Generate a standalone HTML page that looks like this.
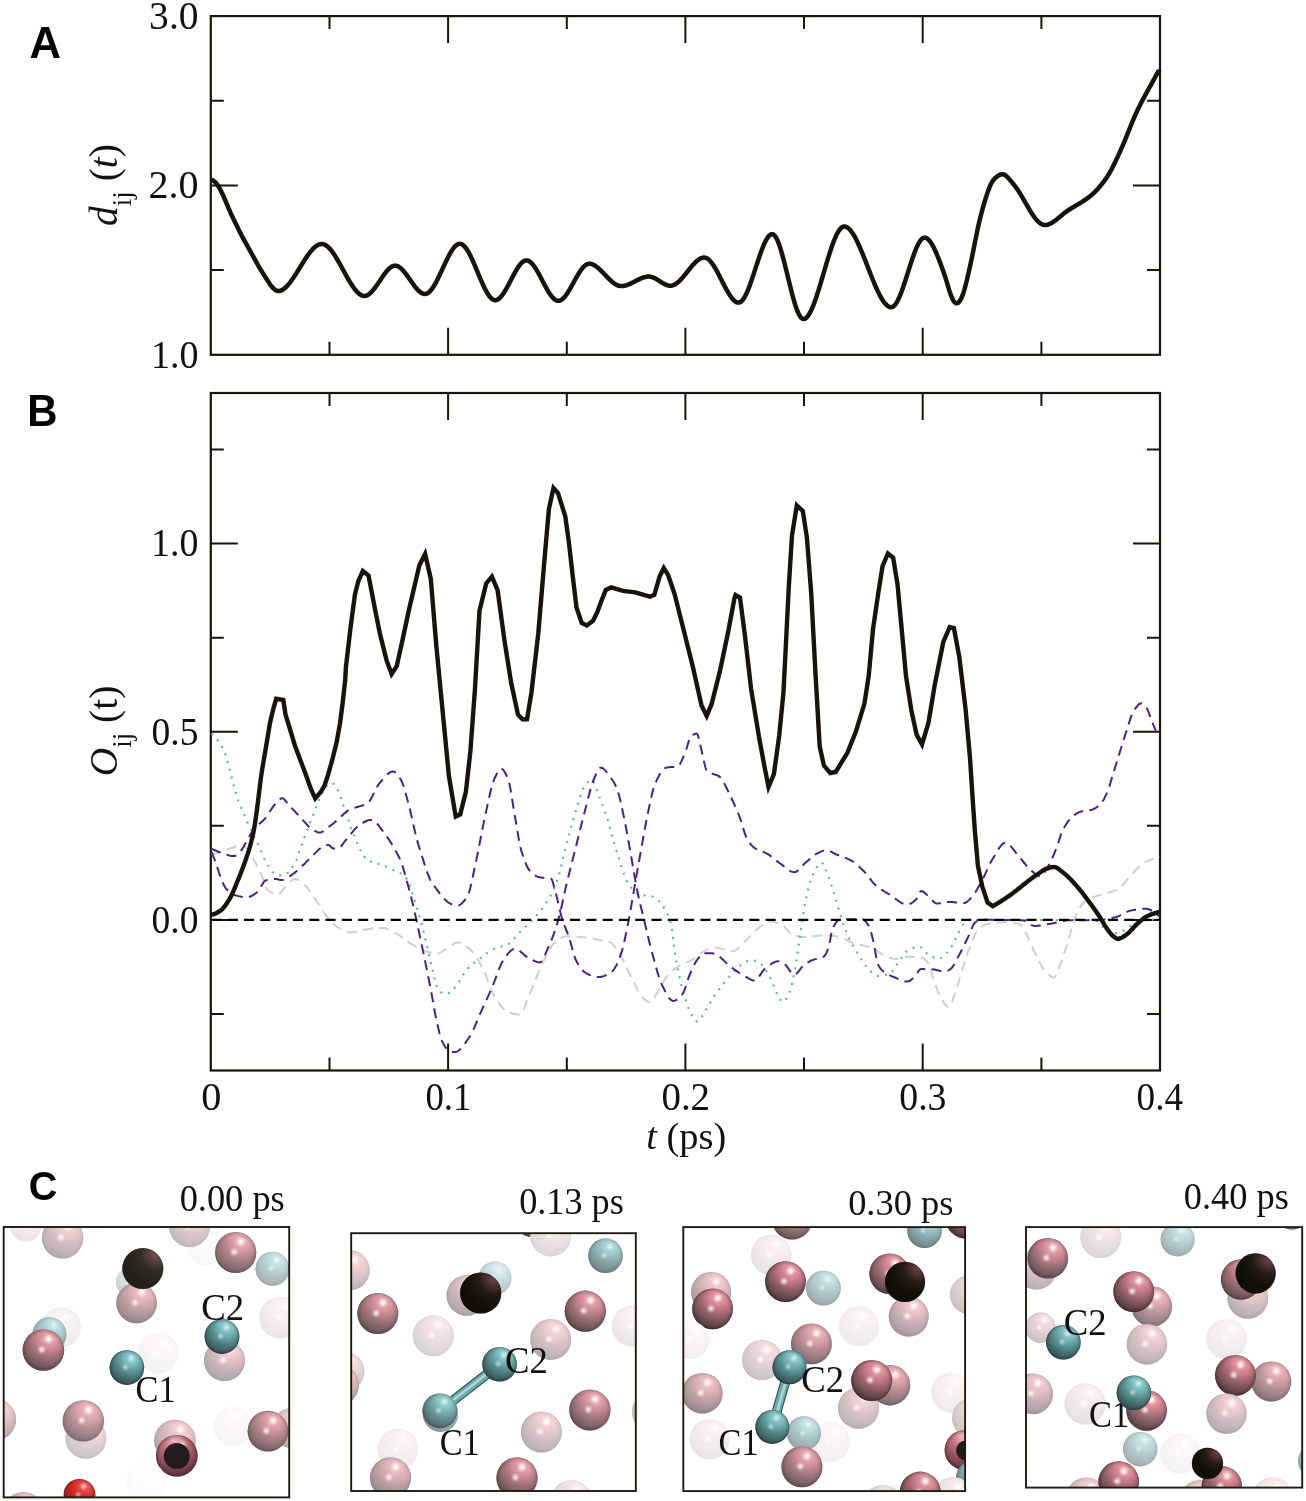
<!DOCTYPE html><html><head><meta charset="utf-8"><style>html,body{margin:0;padding:0;background:#fff;}svg{display:block;}svg{will-change:transform}</style></head><body>
<svg width="1306" height="1501" viewBox="0 0 1306 1501">
<defs>
<radialGradient id="dRose" cx="0.65" cy="0.2" r="0.95"><stop offset="0" stop-color="#eca2aa"/><stop offset="0.2" stop-color="#da8c96"/><stop offset="0.35" stop-color="#bc7682"/><stop offset="0.5" stop-color="#98626c"/><stop offset="0.65" stop-color="#78525a"/><stop offset="0.8" stop-color="#5c4046"/><stop offset="1" stop-color="#3c262a"/></radialGradient>
<radialGradient id="dTeal" cx="0.65" cy="0.2" r="0.95"><stop offset="0" stop-color="#94d0d0"/><stop offset="0.2" stop-color="#80c0c2"/><stop offset="0.35" stop-color="#68a4a6"/><stop offset="0.5" stop-color="#558a8c"/><stop offset="0.65" stop-color="#467072"/><stop offset="0.8" stop-color="#3a5a5c"/><stop offset="1" stop-color="#263a3c"/></radialGradient>
<radialGradient id="dBlack" cx="0.85" cy="0.12" r="0.85"><stop offset="0" stop-color="#7a5050"/><stop offset="0.25" stop-color="#4a3030"/><stop offset="0.5" stop-color="#221a16"/><stop offset="0.75" stop-color="#15120b"/><stop offset="1" stop-color="#100e08"/></radialGradient>
<radialGradient id="dRed" cx="0.68" cy="0.22" r="0.85"><stop offset="0" stop-color="#f06a6a"/><stop offset="0.35" stop-color="#d83434"/><stop offset="0.7" stop-color="#b42222"/><stop offset="1" stop-color="#861818"/></radialGradient>
<radialGradient id="dRing" cx="0.45" cy="0.15" r="0.95"><stop offset="0" stop-color="#f2bcc4"/><stop offset="0.25" stop-color="#c67886"/><stop offset="0.6" stop-color="#8e4c5a"/><stop offset="1" stop-color="#4a2830"/></radialGradient>
<radialGradient id="rim" cx="0.5" cy="0.5" r="0.5"><stop offset="0" stop-color="#000" stop-opacity="0"/><stop offset="0.8" stop-color="#000" stop-opacity="0"/><stop offset="0.94" stop-color="#1a0c10" stop-opacity="0.16"/><stop offset="1" stop-color="#1a0c10" stop-opacity="0.5"/></radialGradient>
<radialGradient id="spec" cx="0.5" cy="0.5" r="0.5"><stop offset="0" stop-color="#fff" stop-opacity="1"/><stop offset="0.3" stop-color="#fff" stop-opacity="0.8"/><stop offset="0.65" stop-color="#fff" stop-opacity="0.3"/><stop offset="1" stop-color="#fff" stop-opacity="0"/></radialGradient>
<clipPath id="cp0"><rect x="3.7" y="1227.0" width="285.5" height="270.4000000000001"/></clipPath>
<clipPath id="cp1"><rect x="351.2" y="1233.2" width="284.59999999999997" height="257.79999999999995"/></clipPath>
<clipPath id="cp2"><rect x="683.3" y="1227.1" width="281.80000000000007" height="264.0"/></clipPath>
<clipPath id="cp3"><rect x="1026.0" y="1227.1" width="276.20000000000005" height="260.5"/></clipPath>
</defs>
<g fill="none" stroke="#16140b" stroke-width="2.2">
<rect x="210.8" y="16.1" width="949.2" height="338.7"/>
<path stroke-width="2" d="M329.5,354.8 v-13 M329.5,16.1 v13 M448.1,354.8 v-27 M448.1,16.1 v27 M566.8,354.8 v-13 M566.8,16.1 v13 M685.4,354.8 v-27 M685.4,16.1 v27 M804.0,354.8 v-13 M804.0,16.1 v13 M922.7,354.8 v-27 M922.7,16.1 v27 M1041.4,354.8 v-13 M1041.4,16.1 v13 M210.8,270.1 h13 M1160.0,270.1 h-13 M210.8,185.5 h27 M1160.0,185.5 h-27 M210.8,100.8 h13 M1160.0,100.8 h-13"/>
</g>
<g fill="none" stroke="#16140b" stroke-width="2.2">
<rect x="210.8" y="393.0" width="949.2" height="677.5"/>
<path stroke-width="2" d="M329.5,1070.5 v-13 M329.5,393.0 v13 M448.1,1070.5 v-27 M448.1,393.0 v27 M566.8,1070.5 v-13 M566.8,393.0 v13 M685.4,1070.5 v-27 M685.4,393.0 v27 M804.0,1070.5 v-13 M804.0,393.0 v13 M922.7,1070.5 v-27 M922.7,393.0 v27 M1041.4,1070.5 v-13 M1041.4,393.0 v13 M210.8,1014.0 h13 M1160.0,1014.0 h-13 M210.8,919.9 h27 M1160.0,919.9 h-27 M210.8,825.8 h13 M1160.0,825.8 h-13 M210.8,731.8 h27 M1160.0,731.8 h-27 M210.8,637.7 h13 M1160.0,637.7 h-13 M210.8,543.6 h27 M1160.0,543.6 h-27 M210.8,449.5 h13 M1160.0,449.5 h-13"/>
</g>
<path d="M211.4,854.5 L212.4,854.3 L213.4,854.0 L214.4,853.8 L215.4,853.5 L216.4,853.2 L217.4,853.0 L218.4,852.7 L219.4,852.4 L220.4,852.1 L221.4,851.7 L222.4,851.4 L223.4,851.1 L224.4,850.8 L225.4,850.4 L226.4,850.0 L227.4,849.6 L228.4,849.2 L229.4,848.8 L230.4,848.4 L231.4,848.0 L232.4,847.6 L233.4,847.2 L234.4,846.9 L235.4,846.5 L236.4,846.1 L237.4,845.8 L238.4,845.4 L239.4,845.1 L240.4,845.0 L241.4,844.9 L242.4,845.1 L243.4,845.5 L244.4,846.2 L245.4,847.1 L246.4,848.1 L247.4,849.2 L248.4,850.3 L249.4,851.9 L250.4,853.8 L251.4,855.7 L252.4,857.5 L253.4,859.3 L254.4,861.0 L255.4,862.7 L256.4,864.5 L257.4,866.4 L258.4,868.4 L259.4,870.5 L260.4,872.7 L261.4,874.9 L262.4,877.5 L263.4,880.4 L264.4,883.2 L265.4,885.8 L266.4,888.1 L267.4,889.8 L268.4,890.7 L269.4,891.4 L270.4,892.1 L271.4,892.6 L272.4,893.1 L273.4,893.6 L274.4,894.0 L275.4,894.2 L276.4,894.4 L277.4,894.5 L278.4,894.4 L279.4,893.8 L280.4,892.9 L281.4,891.7 L282.4,890.4 L283.4,889.1 L284.4,887.8 L285.4,886.8 L286.4,885.8 L287.4,884.8 L288.4,883.7 L289.4,882.7 L290.4,881.7 L291.4,880.8 L292.4,880.0 L293.4,879.5 L294.4,879.2 L295.4,879.1 L296.4,879.3 L297.4,879.6 L298.4,880.2 L299.4,880.8 L300.4,881.5 L301.4,882.3 L302.4,883.1 L303.4,884.0 L304.4,884.8 L305.4,885.7 L306.4,886.7 L307.4,887.9 L308.4,889.2 L309.4,890.5 L310.4,891.9 L311.4,893.4 L312.4,894.9 L313.4,896.4 L314.4,897.9 L315.4,899.3 L316.4,900.8 L317.4,902.3 L318.4,903.8 L319.4,905.4 L320.4,907.0 L321.4,908.6 L322.4,910.2 L323.4,911.8 L324.4,913.3 L325.4,914.7 L326.4,916.1 L327.4,917.3 L328.4,918.4 L329.4,919.5 L330.4,920.6 L331.4,921.7 L332.4,922.7 L333.4,923.7 L334.4,924.6 L335.4,925.5 L336.4,926.3 L337.4,927.0 L338.4,927.7 L339.4,928.2 L340.4,928.8 L341.4,929.3 L342.4,929.8 L343.4,930.3 L344.4,930.8 L345.4,931.3 L346.4,931.6 L347.4,931.9 L348.4,932.2 L349.4,932.3 L350.4,932.4 L351.4,932.4 L352.4,932.3 L353.4,932.2 L354.4,932.1 L355.4,931.9 L356.4,931.7 L357.4,931.5 L358.4,931.3 L359.4,931.0 L360.4,930.8 L361.4,930.5 L362.4,930.3 L363.4,930.0 L364.4,929.8 L365.4,929.6 L366.4,929.4 L367.4,929.2 L368.4,929.0 L369.4,928.9 L370.4,928.8 L371.4,928.7 L372.4,928.6 L373.4,928.5 L374.4,928.4 L375.4,928.4 L376.4,928.3 L377.4,928.2 L378.4,928.1 L379.4,928.1 L380.4,928.0 L381.4,928.0 L382.4,928.0 L383.4,928.0 L384.4,928.1 L385.4,928.3 L386.4,928.6 L387.4,928.9 L388.4,929.4 L389.4,929.8 L390.4,930.3 L391.4,930.9 L392.4,931.5 L393.4,932.0 L394.4,932.6 L395.4,933.2 L396.4,933.7 L397.4,934.2 L398.4,934.8 L399.4,935.5 L400.4,936.2 L401.4,936.9 L402.4,937.6 L403.4,938.4 L404.4,939.1 L405.4,939.9 L406.4,940.6 L407.4,941.4 L408.4,942.1 L409.4,942.8 L410.4,943.4 L411.4,944.0 L412.4,944.6 L413.4,945.2 L414.4,945.8 L415.4,946.3 L416.4,946.9 L417.4,947.4 L418.4,948.0 L419.4,948.5 L420.4,949.0 L421.4,949.4 L422.4,949.9 L423.4,950.3 L424.4,950.7 L425.4,951.0 L426.4,951.3 L427.4,951.7 L428.4,952.0 L429.4,952.4 L430.4,952.7 L431.4,953.0 L432.4,953.2 L433.4,953.5 L434.4,953.6 L435.4,953.7 L436.4,953.8 L437.4,953.7 L438.4,953.5 L439.4,953.1 L440.4,952.6 L441.4,952.0 L442.4,951.4 L443.4,950.7 L444.4,950.1 L445.4,949.4 L446.4,948.9 L447.4,948.3 L448.4,947.6 L449.4,946.9 L450.4,946.2 L451.4,945.5 L452.4,944.8 L453.4,944.1 L454.4,943.5 L455.4,943.1 L456.4,942.7 L457.4,942.5 L458.4,942.5 L459.4,942.6 L460.4,942.9 L461.4,943.2 L462.4,943.7 L463.4,944.3 L464.4,944.9 L465.4,945.6 L466.4,946.4 L467.4,947.2 L468.4,948.0 L469.4,948.9 L470.4,949.8 L471.4,950.7 L472.4,951.7 L473.4,952.8 L474.4,954.1 L475.4,955.5 L476.4,957.1 L477.4,958.7 L478.4,960.5 L479.4,962.3 L480.4,964.1 L481.4,966.0 L482.4,967.9 L483.4,969.9 L484.4,972.1 L485.4,974.4 L486.4,977.0 L487.4,979.7 L488.4,982.4 L489.4,985.1 L490.4,987.7 L491.4,990.2 L492.4,992.5 L493.4,994.5 L494.4,996.3 L495.4,997.9 L496.4,999.5 L497.4,1001.0 L498.4,1002.5 L499.4,1003.9 L500.4,1005.3 L501.4,1006.6 L502.4,1007.8 L503.4,1008.9 L504.4,1009.9 L505.4,1010.7 L506.4,1011.4 L507.4,1012.0 L508.4,1012.3 L509.4,1012.7 L510.4,1013.0 L511.4,1013.3 L512.4,1013.5 L513.4,1013.8 L514.4,1014.0 L515.4,1014.2 L516.4,1014.3 L517.4,1014.4 L518.4,1014.5 L519.4,1014.5 L520.4,1014.1 L521.4,1013.1 L522.4,1011.7 L523.4,1009.8 L524.4,1007.6 L525.4,1005.1 L526.4,1002.5 L527.4,999.8 L528.4,997.2 L529.4,994.6 L530.4,992.2 L531.4,990.0 L532.4,987.7 L533.4,985.2 L534.4,982.7 L535.4,980.2 L536.4,977.6 L537.4,975.1 L538.4,972.6 L539.4,970.2 L540.4,967.8 L541.4,965.6 L542.4,963.6 L543.4,961.5 L544.4,959.3 L545.4,957.2 L546.4,955.2 L547.4,953.1 L548.4,951.2 L549.4,949.4 L550.4,947.8 L551.4,946.3 L552.4,945.1 L553.4,944.1 L554.4,943.2 L555.4,942.3 L556.4,941.5 L557.4,940.7 L558.4,939.9 L559.4,939.2 L560.4,938.5 L561.4,937.9 L562.4,937.4 L563.4,937.0 L564.4,936.6 L565.4,936.4 L566.4,936.3 L567.4,936.3 L568.4,936.3 L569.4,936.3 L570.4,936.4 L571.4,936.4 L572.4,936.4 L573.4,936.5 L574.4,936.5 L575.4,936.6 L576.4,936.7 L577.4,936.7 L578.4,936.8 L579.4,936.9 L580.4,937.0 L581.4,937.1 L582.4,937.2 L583.4,937.3 L584.4,937.3 L585.4,937.4 L586.4,937.5 L587.4,937.7 L588.4,937.8 L589.4,938.0 L590.4,938.2 L591.4,938.3 L592.4,938.5 L593.4,938.7 L594.4,938.9 L595.4,939.2 L596.4,939.4 L597.4,939.6 L598.4,939.8 L599.4,940.0 L600.4,940.2 L601.4,940.5 L602.4,940.7 L603.4,940.9 L604.4,941.0 L605.4,941.2 L606.4,941.3 L607.4,941.5 L608.4,941.7 L609.4,941.9 L610.4,942.2 L611.4,942.7 L612.4,943.7 L613.4,945.0 L614.4,946.4 L615.4,947.7 L616.4,949.0 L617.4,950.3 L618.4,951.7 L619.4,953.2 L620.4,954.8 L621.4,956.5 L622.4,958.5 L623.4,960.6 L624.4,962.8 L625.4,965.0 L626.4,967.2 L627.4,969.4 L628.4,971.4 L629.4,973.5 L630.4,975.5 L631.4,977.6 L632.4,979.6 L633.4,981.5 L634.4,983.4 L635.4,985.3 L636.4,987.3 L637.4,989.4 L638.4,991.3 L639.4,993.2 L640.4,994.9 L641.4,996.4 L642.4,997.6 L643.4,998.5 L644.4,999.3 L645.4,1000.1 L646.4,1000.8 L647.4,1001.4 L648.4,1001.8 L649.4,1002.0 L650.4,1001.9 L651.4,1001.3 L652.4,1000.2 L653.4,998.9 L654.4,997.5 L655.4,996.2 L656.4,994.6 L657.4,992.7 L658.4,990.7 L659.4,988.7 L660.4,986.9 L661.4,985.2 L662.4,983.5 L663.4,981.8 L664.4,980.2 L665.4,978.6 L666.4,977.2 L667.4,975.9 L668.4,974.7 L669.4,973.6 L670.4,972.5 L671.4,971.5 L672.4,970.6 L673.4,969.7 L674.4,968.9 L675.4,968.2 L676.4,967.5 L677.4,966.9 L678.4,966.3 L679.4,965.7 L680.4,965.2 L681.4,964.7 L682.4,964.2 L683.4,963.8 L684.4,963.3 L685.4,962.9 L686.4,962.5 L687.4,962.0 L688.4,961.6 L689.4,961.1 L690.4,960.6 L691.4,960.2 L692.4,959.7 L693.4,959.2 L694.4,958.6 L695.4,958.0 L696.4,957.2 L697.4,956.3 L698.4,955.4 L699.4,954.4 L700.4,953.6 L701.4,952.9 L702.4,952.3 L703.4,951.7 L704.4,951.2 L705.4,950.7 L706.4,950.2 L707.4,949.7 L708.4,949.2 L709.4,948.8 L710.4,948.4 L711.4,948.1 L712.4,947.9 L713.4,947.7 L714.4,947.6 L715.4,947.6 L716.4,947.7 L717.4,947.8 L718.4,947.9 L719.4,948.1 L720.4,948.4 L721.4,948.6 L722.4,948.9 L723.4,949.1 L724.4,949.4 L725.4,949.7 L726.4,950.0 L727.4,950.2 L728.4,950.5 L729.4,950.6 L730.4,950.8 L731.4,950.9 L732.4,951.0 L733.4,951.0 L734.4,950.8 L735.4,950.4 L736.4,949.8 L737.4,949.1 L738.4,948.2 L739.4,947.3 L740.4,946.3 L741.4,945.2 L742.4,944.1 L743.4,943.0 L744.4,941.9 L745.4,940.9 L746.4,939.9 L747.4,939.0 L748.4,938.0 L749.4,936.9 L750.4,935.9 L751.4,934.8 L752.4,933.7 L753.4,932.7 L754.4,931.6 L755.4,930.6 L756.4,929.7 L757.4,928.9 L758.4,928.1 L759.4,927.3 L760.4,926.5 L761.4,925.7 L762.4,924.9 L763.4,924.1 L764.4,923.4 L765.4,922.8 L766.4,922.3 L767.4,921.9 L768.4,921.7 L769.4,921.6 L770.4,921.6 L771.4,921.7 L772.4,921.8 L773.4,922.0 L774.4,922.1 L775.4,922.3 L776.4,922.6 L777.4,922.8 L778.4,923.1 L779.4,923.4 L780.4,923.7 L781.4,924.1 L782.4,924.8 L783.4,925.7 L784.4,926.7 L785.4,927.8 L786.4,929.0 L787.4,930.1 L788.4,931.2 L789.4,932.2 L790.4,933.1 L791.4,933.8 L792.4,934.2 L793.4,934.6 L794.4,935.0 L795.4,935.4 L796.4,935.7 L797.4,936.0 L798.4,936.3 L799.4,936.5 L800.4,936.7 L801.4,936.9 L802.4,937.0 L803.4,937.0 L804.4,937.0 L805.4,937.0 L806.4,936.9 L807.4,936.8 L808.4,936.8 L809.4,936.7 L810.4,936.6 L811.4,936.5 L812.4,936.4 L813.4,936.2 L814.4,936.1 L815.4,936.0 L816.4,935.9 L817.4,935.8 L818.4,935.7 L819.4,935.6 L820.4,935.5 L821.4,935.4 L822.4,935.3 L823.4,935.3 L824.4,935.2 L825.4,935.2 L826.4,935.2 L827.4,935.2 L828.4,935.3 L829.4,935.4 L830.4,935.5 L831.4,935.6 L832.4,935.7 L833.4,935.9 L834.4,936.0 L835.4,936.2 L836.4,936.4 L837.4,936.6 L838.4,936.8 L839.4,937.0 L840.4,937.2 L841.4,937.5 L842.4,937.9 L843.4,938.4 L844.4,938.8 L845.4,939.4 L846.4,939.9 L847.4,940.4 L848.4,941.0 L849.4,941.5 L850.4,942.0 L851.4,942.5 L852.4,942.9 L853.4,943.2 L854.4,943.5 L855.4,943.8 L856.4,944.0 L857.4,944.3 L858.4,944.5 L859.4,944.7 L860.4,944.9 L861.4,945.1 L862.4,945.3 L863.4,945.5 L864.4,945.7 L865.4,946.0 L866.4,946.2 L867.4,946.4 L868.4,946.7 L869.4,947.0 L870.4,947.3 L871.4,947.7 L872.4,948.1 L873.4,948.6 L874.4,949.2 L875.4,949.8 L876.4,950.4 L877.4,951.1 L878.4,951.8 L879.4,952.5 L880.4,953.2 L881.4,953.8 L882.4,954.4 L883.4,955.0 L884.4,955.4 L885.4,955.8 L886.4,956.2 L887.4,956.7 L888.4,957.1 L889.4,957.5 L890.4,957.8 L891.4,958.2 L892.4,958.5 L893.4,958.7 L894.4,958.9 L895.4,959.0 L896.4,959.0 L897.4,958.9 L898.4,958.8 L899.4,958.5 L900.4,958.3 L901.4,958.0 L902.4,957.7 L903.4,957.4 L904.4,957.1 L905.4,956.9 L906.4,956.8 L907.4,956.7 L908.4,956.7 L909.4,956.7 L910.4,956.7 L911.4,956.7 L912.4,956.7 L913.4,956.7 L914.4,956.7 L915.4,956.7 L916.4,956.7 L917.4,956.7 L918.4,956.7 L919.4,956.7 L920.4,956.9 L921.4,957.3 L922.4,957.8 L923.4,958.4 L924.4,959.2 L925.4,960.0 L926.4,961.0 L927.4,962.0 L928.4,963.3 L929.4,965.5 L930.4,968.5 L931.4,972.0 L932.4,975.6 L933.4,979.1 L934.4,982.2 L935.4,984.8 L936.4,987.4 L937.4,990.0 L938.4,992.5 L939.4,994.8 L940.4,996.8 L941.4,998.6 L942.4,1000.2 L943.4,1001.9 L944.4,1003.5 L945.4,1004.9 L946.4,1006.0 L947.4,1006.9 L948.4,1007.3 L949.4,1007.0 L950.4,1005.6 L951.4,1003.5 L952.4,1000.8 L953.4,997.9 L954.4,995.2 L955.4,992.4 L956.4,989.4 L957.4,986.1 L958.4,982.6 L959.4,979.1 L960.4,975.6 L961.4,972.2 L962.4,969.1 L963.4,965.9 L964.4,962.7 L965.4,959.6 L966.4,956.5 L967.4,953.5 L968.4,950.7 L969.4,948.0 L970.4,945.5 L971.4,942.9 L972.4,940.4 L973.4,938.0 L974.4,935.7 L975.4,933.7 L976.4,932.0 L977.4,930.7 L978.4,929.7 L979.4,928.7 L980.4,927.7 L981.4,926.9 L982.4,926.1 L983.4,925.5 L984.4,924.9 L985.4,924.5 L986.4,924.1 L987.4,923.9 L988.4,923.7 L989.4,923.6 L990.4,923.4 L991.4,923.2 L992.4,923.1 L993.4,923.0 L994.4,922.8 L995.4,922.7 L996.4,922.6 L997.4,922.5 L998.4,922.4 L999.4,922.3 L1000.4,922.3 L1001.4,922.2 L1002.4,922.2 L1003.4,922.1 L1004.4,922.1 L1005.4,922.1 L1006.4,922.1 L1007.4,922.1 L1008.4,922.2 L1009.4,922.2 L1010.4,922.3 L1011.4,922.4 L1012.4,922.5 L1013.4,922.7 L1014.4,922.8 L1015.4,923.0 L1016.4,923.2 L1017.4,923.5 L1018.4,923.7 L1019.4,924.0 L1020.4,924.5 L1021.4,925.4 L1022.4,926.8 L1023.4,928.4 L1024.4,930.2 L1025.4,932.1 L1026.4,934.0 L1027.4,935.9 L1028.4,937.8 L1029.4,940.0 L1030.4,942.3 L1031.4,944.7 L1032.4,947.1 L1033.4,949.5 L1034.4,951.7 L1035.4,953.7 L1036.4,955.8 L1037.4,957.9 L1038.4,959.9 L1039.4,961.9 L1040.4,963.9 L1041.4,965.7 L1042.4,967.3 L1043.4,968.8 L1044.4,970.0 L1045.4,971.1 L1046.4,972.2 L1047.4,973.3 L1048.4,974.4 L1049.4,975.3 L1050.4,976.1 L1051.4,976.8 L1052.4,977.3 L1053.4,977.6 L1054.4,977.5 L1055.4,976.5 L1056.4,974.6 L1057.4,972.2 L1058.4,969.5 L1059.4,966.8 L1060.4,964.4 L1061.4,961.7 L1062.4,958.9 L1063.4,955.9 L1064.4,952.8 L1065.4,949.6 L1066.4,946.4 L1067.4,943.2 L1068.4,939.9 L1069.4,936.4 L1070.4,932.9 L1071.4,929.5 L1072.4,926.2 L1073.4,923.1 L1074.4,920.1 L1075.4,917.0 L1076.4,914.2 L1077.4,911.6 L1078.4,909.5 L1079.4,908.0 L1080.4,906.6 L1081.4,905.3 L1082.4,904.1 L1083.4,903.0 L1084.4,902.1 L1085.4,901.2 L1086.4,900.4 L1087.4,899.7 L1088.4,899.2 L1089.4,898.6 L1090.4,898.2 L1091.4,897.7 L1092.4,897.4 L1093.4,897.0 L1094.4,896.7 L1095.4,896.4 L1096.4,896.0 L1097.4,895.8 L1098.4,895.5 L1099.4,895.2 L1100.4,894.9 L1101.4,894.6 L1102.4,894.2 L1103.4,893.9 L1104.4,893.6 L1105.4,893.4 L1106.4,893.1 L1107.4,892.9 L1108.4,892.6 L1109.4,892.3 L1110.4,892.1 L1111.4,891.8 L1112.4,891.5 L1113.4,891.2 L1114.4,890.8 L1115.4,890.4 L1116.4,890.0 L1117.4,889.5 L1118.4,888.9 L1119.4,888.2 L1120.4,887.3 L1121.4,886.3 L1122.4,885.2 L1123.4,884.1 L1124.4,882.9 L1125.4,881.7 L1126.4,880.5 L1127.4,879.3 L1128.4,878.2 L1129.4,877.0 L1130.4,876.0 L1131.4,874.9 L1132.4,873.9 L1133.4,872.7 L1134.4,871.6 L1135.4,870.5 L1136.4,869.4 L1137.4,868.3 L1138.4,867.3 L1139.4,866.3 L1140.4,865.4 L1141.4,864.6 L1142.4,864.0 L1143.4,863.4 L1144.4,862.8 L1145.4,862.2 L1146.4,861.7 L1147.4,861.2 L1148.4,860.7 L1149.4,860.2 L1150.4,859.8 L1151.4,859.4 L1152.4,859.0 L1153.4,858.7 L1154.4,858.3 L1155.4,858.0 L1156.4,857.8 L1157.4,857.5 L1158.4,857.3 L1159.4,857.1 L1160.0,857.0" fill="none" stroke="#cfcfcf" stroke-width="2" stroke-dasharray="10 6.3"/>
<path d="M211.4,733.9 L212.4,734.7 L213.4,735.5 L214.4,736.5 L215.4,737.6 L216.4,738.7 L217.4,739.9 L218.4,741.2 L219.4,742.7 L220.4,744.3 L221.4,745.9 L222.4,747.7 L223.4,749.6 L224.4,751.8 L225.4,754.3 L226.4,757.6 L227.4,761.4 L228.4,765.0 L229.4,768.7 L230.4,772.5 L231.4,776.3 L232.4,780.3 L233.4,784.3 L234.4,787.8 L235.4,791.1 L236.4,794.4 L237.4,797.8 L238.4,800.9 L239.4,803.6 L240.4,806.0 L241.4,808.4 L242.4,810.7 L243.4,813.0 L244.4,815.2 L245.4,817.6 L246.4,820.0 L247.4,822.3 L248.4,824.4 L249.4,826.3 L250.4,828.0 L251.4,830.0 L252.4,832.3 L253.4,834.9 L254.4,837.5 L255.4,839.6 L256.4,841.4 L257.4,843.1 L258.4,845.0 L259.4,847.2 L260.4,849.6 L261.4,852.0 L262.4,854.3 L263.4,856.5 L264.4,858.7 L265.4,860.7 L266.4,862.6 L267.4,864.4 L268.4,866.0 L269.4,867.5 L270.4,869.0 L271.4,870.5 L272.4,871.8 L273.4,872.8 L274.4,873.4 L275.4,873.9 L276.4,874.3 L277.4,874.7 L278.4,875.0 L279.4,875.2 L280.4,875.3 L281.4,875.4 L282.4,875.3 L283.4,875.1 L284.4,874.8 L285.4,874.3 L286.4,873.7 L287.4,873.0 L288.4,872.3 L289.4,871.5 L290.4,870.2 L291.4,868.6 L292.4,866.9 L293.4,865.2 L294.4,863.6 L295.4,861.9 L296.4,860.0 L297.4,857.8 L298.4,854.9 L299.4,851.7 L300.4,848.7 L301.4,845.8 L302.4,843.0 L303.4,840.2 L304.4,837.4 L305.4,834.7 L306.4,832.2 L307.4,829.7 L308.4,827.2 L309.4,824.4 L310.4,821.6 L311.4,819.0 L312.4,816.6 L313.4,814.4 L314.4,811.9 L315.4,809.2 L316.4,806.3 L317.4,803.7 L318.4,801.3 L319.4,799.0 L320.4,796.8 L321.4,794.6 L322.4,792.6 L323.4,790.7 L324.4,789.1 L325.4,787.5 L326.4,786.1 L327.4,784.9 L328.4,784.0 L329.4,783.6 L330.4,783.2 L331.4,783.0 L332.4,783.1 L333.4,783.8 L334.4,784.9 L335.4,786.1 L336.4,787.6 L337.4,789.4 L338.4,791.5 L339.4,793.8 L340.4,796.6 L341.4,799.6 L342.4,802.5 L343.4,805.3 L344.4,808.2 L345.4,810.9 L346.4,813.6 L347.4,816.5 L348.4,819.8 L349.4,823.3 L350.4,826.3 L351.4,829.0 L352.4,831.5 L353.4,833.8 L354.4,836.2 L355.4,838.6 L356.4,841.1 L357.4,843.6 L358.4,846.0 L359.4,848.1 L360.4,850.2 L361.4,852.0 L362.4,853.7 L363.4,855.2 L364.4,856.7 L365.4,858.1 L366.4,859.3 L367.4,860.2 L368.4,860.8 L369.4,861.3 L370.4,861.6 L371.4,862.0 L372.4,862.3 L373.4,862.6 L374.4,862.9 L375.4,863.2 L376.4,863.5 L377.4,863.8 L378.4,864.0 L379.4,864.3 L380.4,864.6 L381.4,864.9 L382.4,865.2 L383.4,865.5 L384.4,865.9 L385.4,866.3 L386.4,866.8 L387.4,867.2 L388.4,867.7 L389.4,868.2 L390.4,868.6 L391.4,869.0 L392.4,869.5 L393.4,869.9 L394.4,870.3 L395.4,870.7 L396.4,871.1 L397.4,871.6 L398.4,872.1 L399.4,872.6 L400.4,873.2 L401.4,873.8 L402.4,874.4 L403.4,875.2 L404.4,876.0 L405.4,877.0 L406.4,878.4 L407.4,880.2 L408.4,882.1 L409.4,884.5 L410.4,887.2 L411.4,890.3 L412.4,893.5 L413.4,896.8 L414.4,900.1 L415.4,903.4 L416.4,906.5 L417.4,909.8 L418.4,913.1 L419.4,916.5 L420.4,920.0 L421.4,923.6 L422.4,927.3 L423.4,931.3 L424.4,935.3 L425.4,939.4 L426.4,943.6 L427.4,947.8 L428.4,952.1 L429.4,956.6 L430.4,961.0 L431.4,965.4 L432.4,969.5 L433.4,973.4 L434.4,977.5 L435.4,981.7 L436.4,985.4 L437.4,988.3 L438.4,990.1 L439.4,991.0 L440.4,991.7 L441.4,992.4 L442.4,993.0 L443.4,993.4 L444.4,993.8 L445.4,994.0 L446.4,994.0 L447.4,993.8 L448.4,993.4 L449.4,992.7 L450.4,991.9 L451.4,991.0 L452.4,990.0 L453.4,988.9 L454.4,987.9 L455.4,986.9 L456.4,985.7 L457.4,984.3 L458.4,982.8 L459.4,981.2 L460.4,979.5 L461.4,977.8 L462.4,976.1 L463.4,974.4 L464.4,972.8 L465.4,971.4 L466.4,970.0 L467.4,968.9 L468.4,967.9 L469.4,966.9 L470.4,965.9 L471.4,965.0 L472.4,964.2 L473.4,963.4 L474.4,962.6 L475.4,961.8 L476.4,961.0 L477.4,960.3 L478.4,959.6 L479.4,958.8 L480.4,958.1 L481.4,957.4 L482.4,956.6 L483.4,955.9 L484.4,955.1 L485.4,954.4 L486.4,953.7 L487.4,952.9 L488.4,952.3 L489.4,951.6 L490.4,951.0 L491.4,950.4 L492.4,949.8 L493.4,949.3 L494.4,948.8 L495.4,948.4 L496.4,948.0 L497.4,947.7 L498.4,947.4 L499.4,947.1 L500.4,946.8 L501.4,946.5 L502.4,946.3 L503.4,946.0 L504.4,945.7 L505.4,945.3 L506.4,944.9 L507.4,944.5 L508.4,944.0 L509.4,943.4 L510.4,942.6 L511.4,941.7 L512.4,940.8 L513.4,939.7 L514.4,938.6 L515.4,937.5 L516.4,936.3 L517.4,935.1 L518.4,934.0 L519.4,932.8 L520.4,931.7 L521.4,930.7 L522.4,929.7 L523.4,928.7 L524.4,927.8 L525.4,926.8 L526.4,925.9 L527.4,924.9 L528.4,924.0 L529.4,923.0 L530.4,922.1 L531.4,921.1 L532.4,920.0 L533.4,919.0 L534.4,917.9 L535.4,916.8 L536.4,915.6 L537.4,914.5 L538.4,913.3 L539.4,912.1 L540.4,910.9 L541.4,909.6 L542.4,908.3 L543.4,907.0 L544.4,905.6 L545.4,904.1 L546.4,902.6 L547.4,901.0 L548.4,899.4 L549.4,897.7 L550.4,895.9 L551.4,893.9 L552.4,891.9 L553.4,889.8 L554.4,887.5 L555.4,885.0 L556.4,882.5 L557.4,879.7 L558.4,876.8 L559.4,873.3 L560.4,869.5 L561.4,865.3 L562.4,861.0 L563.4,856.6 L564.4,852.1 L565.4,847.9 L566.4,843.8 L567.4,840.1 L568.4,836.4 L569.4,832.7 L570.4,829.1 L571.4,825.5 L572.4,822.0 L573.4,818.6 L574.4,815.3 L575.4,812.1 L576.4,809.0 L577.4,805.8 L578.4,802.6 L579.4,799.4 L580.4,796.2 L581.4,793.3 L582.4,790.7 L583.4,788.4 L584.4,786.6 L585.4,785.2 L586.4,784.0 L587.4,782.8 L588.4,781.8 L589.4,780.9 L590.4,780.3 L591.4,780.0 L592.4,780.2 L593.4,781.4 L594.4,783.4 L595.4,786.0 L596.4,788.9 L597.4,791.8 L598.4,794.5 L599.4,796.9 L600.4,799.4 L601.4,802.0 L602.4,804.7 L603.4,807.4 L604.4,810.2 L605.4,813.1 L606.4,816.1 L607.4,819.1 L608.4,822.2 L609.4,825.6 L610.4,829.1 L611.4,832.7 L612.4,836.4 L613.4,840.1 L614.4,843.7 L615.4,847.2 L616.4,850.5 L617.4,853.6 L618.4,856.8 L619.4,860.1 L620.4,863.4 L621.4,866.6 L622.4,869.7 L623.4,872.7 L624.4,875.5 L625.4,878.0 L626.4,880.2 L627.4,882.1 L628.4,883.7 L629.4,885.1 L630.4,886.5 L631.4,887.8 L632.4,889.0 L633.4,890.1 L634.4,891.2 L635.4,892.1 L636.4,892.9 L637.4,893.6 L638.4,894.1 L639.4,894.4 L640.4,894.7 L641.4,894.9 L642.4,895.1 L643.4,895.2 L644.4,895.4 L645.4,895.5 L646.4,895.6 L647.4,895.7 L648.4,895.8 L649.4,895.9 L650.4,896.1 L651.4,896.3 L652.4,896.6 L653.4,896.9 L654.4,897.3 L655.4,897.9 L656.4,898.7 L657.4,899.6 L658.4,900.6 L659.4,901.7 L660.4,902.9 L661.4,904.1 L662.4,905.5 L663.4,906.9 L664.4,908.3 L665.4,909.8 L666.4,911.6 L667.4,913.6 L668.4,915.9 L669.4,918.6 L670.4,921.7 L671.4,925.6 L672.4,932.2 L673.4,940.6 L674.4,949.3 L675.4,956.6 L676.4,962.2 L677.4,967.3 L678.4,972.1 L679.4,976.7 L680.4,980.9 L681.4,984.9 L682.4,988.7 L683.4,992.3 L684.4,995.6 L685.4,998.9 L686.4,1002.0 L687.4,1005.0 L688.4,1007.8 L689.4,1010.4 L690.4,1012.6 L691.4,1014.5 L692.4,1016.2 L693.4,1017.9 L694.4,1019.5 L695.4,1020.7 L696.4,1021.4 L697.4,1021.5 L698.4,1021.0 L699.4,1020.1 L700.4,1018.9 L701.4,1017.4 L702.4,1015.7 L703.4,1014.0 L704.4,1012.3 L705.4,1010.7 L706.4,1009.2 L707.4,1007.6 L708.4,1006.0 L709.4,1004.3 L710.4,1002.6 L711.4,1000.8 L712.4,999.1 L713.4,997.5 L714.4,995.9 L715.4,994.5 L716.4,993.1 L717.4,991.7 L718.4,990.3 L719.4,989.0 L720.4,987.7 L721.4,986.4 L722.4,985.1 L723.4,983.9 L724.4,982.7 L725.4,981.5 L726.4,980.3 L727.4,979.1 L728.4,977.8 L729.4,976.6 L730.4,975.4 L731.4,974.2 L732.4,973.0 L733.4,971.8 L734.4,970.7 L735.4,969.6 L736.4,968.6 L737.4,967.7 L738.4,966.8 L739.4,966.1 L740.4,965.4 L741.4,964.7 L742.4,964.0 L743.4,963.3 L744.4,962.7 L745.4,962.0 L746.4,961.5 L747.4,961.0 L748.4,960.6 L749.4,960.3 L750.4,960.1 L751.4,960.1 L752.4,960.2 L753.4,960.4 L754.4,960.6 L755.4,961.0 L756.4,961.4 L757.4,961.9 L758.4,962.5 L759.4,963.0 L760.4,963.6 L761.4,964.4 L762.4,965.4 L763.4,966.6 L764.4,967.9 L765.4,969.4 L766.4,971.0 L767.4,972.7 L768.4,974.4 L769.4,976.2 L770.4,978.2 L771.4,980.5 L772.4,983.1 L773.4,985.6 L774.4,988.1 L775.4,990.4 L776.4,992.4 L777.4,994.3 L778.4,996.3 L779.4,998.3 L780.4,999.9 L781.4,1001.2 L782.4,1001.9 L783.4,1001.9 L784.4,1001.3 L785.4,1000.2 L786.4,998.7 L787.4,996.8 L788.4,994.7 L789.4,992.5 L790.4,990.0 L791.4,986.5 L792.4,982.2 L793.4,977.3 L794.4,972.0 L795.4,966.4 L796.4,960.7 L797.4,954.5 L798.4,947.3 L799.4,939.8 L800.4,932.5 L801.4,925.8 L802.4,919.2 L803.4,912.8 L804.4,906.9 L805.4,901.7 L806.4,897.1 L807.4,892.7 L808.4,888.6 L809.4,884.8 L810.4,881.4 L811.4,878.5 L812.4,876.1 L813.4,873.9 L814.4,871.8 L815.4,869.7 L816.4,867.8 L817.4,866.1 L818.4,864.7 L819.4,863.6 L820.4,862.9 L821.4,862.7 L822.4,863.2 L823.4,864.5 L824.4,866.5 L825.4,869.0 L826.4,871.6 L827.4,874.3 L828.4,876.8 L829.4,879.4 L830.4,882.2 L831.4,885.2 L832.4,888.4 L833.4,891.6 L834.4,894.8 L835.4,898.0 L836.4,901.3 L837.4,904.7 L838.4,908.2 L839.4,911.6 L840.4,914.9 L841.4,918.1 L842.4,921.1 L843.4,924.0 L844.4,926.8 L845.4,929.6 L846.4,932.2 L847.4,934.7 L848.4,937.0 L849.4,939.1 L850.4,941.1 L851.4,942.9 L852.4,944.7 L853.4,946.5 L854.4,948.1 L855.4,949.8 L856.4,951.4 L857.4,953.0 L858.4,954.6 L859.4,956.3 L860.4,957.9 L861.4,959.5 L862.4,961.1 L863.4,962.6 L864.4,964.1 L865.4,965.4 L866.4,966.6 L867.4,967.7 L868.4,968.8 L869.4,969.9 L870.4,971.0 L871.4,972.0 L872.4,973.0 L873.4,973.9 L874.4,974.6 L875.4,975.3 L876.4,975.7 L877.4,976.0 L878.4,976.0 L879.4,976.0 L880.4,975.9 L881.4,975.8 L882.4,975.6 L883.4,975.4 L884.4,975.2 L885.4,974.9 L886.4,974.7 L887.4,974.3 L888.4,974.0 L889.4,973.7 L890.4,973.1 L891.4,972.2 L892.4,971.0 L893.4,969.7 L894.4,968.3 L895.4,966.7 L896.4,965.2 L897.4,963.7 L898.4,962.4 L899.4,961.1 L900.4,959.7 L901.4,958.2 L902.4,956.7 L903.4,955.3 L904.4,953.9 L905.4,952.7 L906.4,951.8 L907.4,951.0 L908.4,950.4 L909.4,949.8 L910.4,949.2 L911.4,948.7 L912.4,948.2 L913.4,947.7 L914.4,947.4 L915.4,947.0 L916.4,946.8 L917.4,946.6 L918.4,946.5 L919.4,946.6 L920.4,947.0 L921.4,947.6 L922.4,948.5 L923.4,949.5 L924.4,950.7 L925.4,951.8 L926.4,953.0 L927.4,954.0 L928.4,954.9 L929.4,955.5 L930.4,956.0 L931.4,956.4 L932.4,956.8 L933.4,957.2 L934.4,957.6 L935.4,957.9 L936.4,958.2 L937.4,958.4 L938.4,958.5 L939.4,958.5 L940.4,958.3 L941.4,957.9 L942.4,957.2 L943.4,956.4 L944.4,955.5 L945.4,954.5 L946.4,953.4 L947.4,952.3 L948.4,951.1 L949.4,950.0 L950.4,948.5 L951.4,946.9 L952.4,945.1 L953.4,943.2 L954.4,941.3 L955.4,939.3 L956.4,937.4 L957.4,935.3 L958.4,933.1 L959.4,930.8 L960.4,928.6 L961.4,926.8 L962.4,925.6 L963.4,924.5 L964.4,923.4 L965.4,922.5 L966.4,921.6 L967.4,921.0 L968.4,920.5 L969.4,920.2 L970.4,920.2 L971.4,920.2 L972.4,920.2 L973.4,920.1 L974.4,920.1 L975.4,920.1 L976.4,920.1 L977.4,920.1 L978.4,920.1 L979.4,920.1 L980.4,920.1 L981.4,920.1 L982.4,920.1 L983.4,920.0 L984.4,920.0 L985.4,920.0 L986.4,920.0 L987.4,920.0 L988.4,920.0 L989.4,920.0 L990.4,920.0 L991.4,920.0 L992.4,920.0 L993.4,920.0 L994.4,920.0 L995.4,920.0 L996.4,920.0 L997.4,920.0 L998.4,920.0 L999.4,920.0 L1000.4,920.0 L1001.4,920.0 L1002.4,920.0 L1003.4,920.0 L1004.4,920.0 L1005.4,920.0 L1006.4,920.0 L1007.4,920.0 L1008.4,920.0 L1009.4,920.0 L1010.4,920.0 L1011.4,920.0 L1012.4,920.0 L1013.4,920.0 L1014.4,920.0 L1015.4,920.0 L1016.4,920.0 L1017.4,920.0 L1018.4,920.0 L1019.4,920.0 L1020.4,920.0 L1021.4,920.0 L1022.4,920.0 L1023.4,920.0 L1024.4,920.0 L1025.4,920.0 L1026.4,920.0 L1027.4,920.0 L1028.4,920.0 L1029.4,920.0 L1030.4,920.0 L1031.4,920.0 L1032.4,920.0 L1033.4,920.0 L1034.4,920.0 L1035.4,920.0 L1036.4,920.0 L1037.4,920.0 L1038.4,920.0 L1039.4,920.0 L1040.4,920.0 L1041.4,920.0 L1042.4,920.0 L1043.4,920.0 L1044.4,920.0 L1045.4,920.0 L1046.4,920.0 L1047.4,920.0 L1048.4,920.0 L1049.4,920.0 L1050.4,920.0 L1051.4,920.0 L1052.4,920.0 L1053.4,920.0 L1054.4,920.0 L1055.4,920.0 L1056.4,920.0 L1057.4,920.0 L1058.4,920.0 L1059.4,920.0 L1060.4,920.0 L1061.4,920.0 L1062.4,920.0 L1063.4,920.0 L1064.4,920.0 L1065.4,920.0 L1066.4,920.0 L1067.4,920.0 L1068.4,920.0 L1069.4,920.0 L1070.4,920.0 L1071.4,920.0 L1072.4,920.0 L1073.4,920.0 L1074.4,920.0 L1075.4,920.0 L1076.4,920.0 L1077.4,920.0 L1078.4,920.0 L1079.4,920.0 L1080.4,920.0 L1081.4,920.0 L1082.4,920.0 L1083.4,920.0 L1084.4,920.0 L1085.4,920.0 L1086.4,920.0 L1087.4,920.0 L1088.4,920.0 L1089.4,920.0 L1090.4,920.0 L1091.4,920.0 L1092.4,920.0 L1093.4,920.0 L1094.4,920.0 L1095.4,920.2 L1096.4,920.8 L1097.4,921.5 L1098.4,922.4 L1099.4,923.4 L1100.4,924.5 L1101.4,925.6 L1102.4,926.6 L1103.4,927.6 L1104.4,928.4 L1105.4,929.3 L1106.4,930.3 L1107.4,931.3 L1108.4,932.2 L1109.4,932.9 L1110.4,933.4 L1111.4,933.6 L1112.4,933.6 L1113.4,933.5 L1114.4,933.3 L1115.4,933.1 L1116.4,932.9 L1117.4,932.6 L1118.4,932.3 L1119.4,932.0 L1120.4,931.6 L1121.4,931.3 L1122.4,930.9 L1123.4,930.5 L1124.4,930.0 L1125.4,929.4 L1126.4,928.7 L1127.4,928.0 L1128.4,927.3 L1129.4,926.6 L1130.4,926.0 L1131.4,925.4 L1132.4,924.9 L1133.4,924.3 L1134.4,923.7 L1135.4,923.1 L1136.4,922.6 L1137.4,922.1 L1138.4,921.7 L1139.4,921.4 L1140.4,921.1 L1141.4,921.0 L1142.4,920.8 L1143.4,920.6 L1144.4,920.5 L1145.4,920.3 L1146.4,920.2 L1147.4,920.0 L1148.4,919.9 L1149.4,919.8 L1150.4,919.7 L1151.4,919.6 L1152.4,919.5 L1153.4,919.4 L1154.4,919.4 L1155.4,919.3 L1156.4,919.3 L1157.4,919.2 L1158.4,919.2 L1159.3,919.2" fill="none" stroke="#5db1aa" stroke-width="2.1" stroke-dasharray="2 6"/>
<path d="M211.4,851.8 L212.4,854.1 L213.4,856.6 L214.4,859.1 L215.4,861.8 L216.4,864.6 L217.4,867.7 L218.4,870.8 L219.4,873.8 L220.4,876.4 L221.4,879.0 L222.4,881.6 L223.4,884.0 L224.4,886.1 L225.4,887.8 L226.4,889.0 L227.4,890.1 L228.4,891.0 L229.4,891.9 L230.4,892.7 L231.4,893.4 L232.4,894.0 L233.4,894.6 L234.4,895.0 L235.4,895.3 L236.4,895.6 L237.4,895.9 L238.4,896.1 L239.4,896.4 L240.4,896.6 L241.4,896.8 L242.4,896.9 L243.4,897.1 L244.4,897.2 L245.4,897.3 L246.4,897.3 L247.4,897.3 L248.4,897.2 L249.4,896.9 L250.4,896.5 L251.4,896.0 L252.4,895.4 L253.4,894.8 L254.4,894.1 L255.4,893.4 L256.4,892.7 L257.4,891.9 L258.4,890.7 L259.4,889.2 L260.4,887.6 L261.4,885.8 L262.4,884.2 L263.4,882.6 L264.4,881.4 L265.4,880.5 L266.4,880.1 L267.4,879.9 L268.4,879.7 L269.4,879.6 L270.4,879.4 L271.4,879.3 L272.4,879.2 L273.4,879.2 L274.4,879.1 L275.4,879.1 L276.4,879.1 L277.4,879.3 L278.4,879.5 L279.4,879.8 L280.4,880.0 L281.4,880.1 L282.4,880.0 L283.4,879.8 L284.4,879.5 L285.4,879.0 L286.4,878.4 L287.4,877.8 L288.4,877.1 L289.4,876.4 L290.4,875.8 L291.4,875.1 L292.4,874.4 L293.4,873.7 L294.4,872.9 L295.4,872.1 L296.4,871.3 L297.4,870.4 L298.4,869.5 L299.4,868.6 L300.4,867.7 L301.4,866.7 L302.4,865.8 L303.4,864.8 L304.4,863.9 L305.4,862.9 L306.4,861.9 L307.4,860.9 L308.4,859.9 L309.4,858.9 L310.4,857.8 L311.4,856.9 L312.4,855.9 L313.4,854.9 L314.4,853.9 L315.4,852.9 L316.4,851.9 L317.4,850.9 L318.4,849.9 L319.4,849.0 L320.4,848.2 L321.4,847.4 L322.4,846.8 L323.4,846.2 L324.4,845.9 L325.4,845.5 L326.4,845.2 L327.4,845.0 L328.4,844.9 L329.4,845.3 L330.4,846.2 L331.4,847.2 L332.4,848.1 L333.4,848.6 L334.4,848.6 L335.4,848.5 L336.4,848.5 L337.4,848.3 L338.4,848.2 L339.4,848.0 L340.4,847.3 L341.4,846.1 L342.4,844.7 L343.4,843.2 L344.4,841.8 L345.4,840.6 L346.4,839.5 L347.4,838.3 L348.4,837.0 L349.4,835.8 L350.4,834.6 L351.4,833.3 L352.4,832.1 L353.4,830.9 L354.4,829.7 L355.4,828.6 L356.4,827.6 L357.4,826.6 L358.4,825.7 L359.4,824.9 L360.4,824.3 L361.4,823.7 L362.4,823.1 L363.4,822.5 L364.4,822.0 L365.4,821.5 L366.4,821.0 L367.4,820.6 L368.4,820.3 L369.4,820.1 L370.4,819.9 L371.4,819.9 L372.4,820.1 L373.4,820.6 L374.4,821.2 L375.4,822.0 L376.4,823.0 L377.4,824.0 L378.4,825.2 L379.4,826.5 L380.4,827.8 L381.4,829.1 L382.4,830.5 L383.4,831.8 L384.4,833.1 L385.4,834.4 L386.4,835.7 L387.4,837.2 L388.4,838.7 L389.4,840.2 L390.4,841.9 L391.4,843.5 L392.4,845.3 L393.4,847.0 L394.4,848.7 L395.4,850.5 L396.4,852.2 L397.4,854.0 L398.4,855.9 L399.4,858.0 L400.4,860.2 L401.4,862.8 L402.4,865.8 L403.4,868.9 L404.4,872.3 L405.4,875.9 L406.4,879.5 L407.4,883.1 L408.4,886.7 L409.4,890.5 L410.4,894.3 L411.4,898.3 L412.4,902.4 L413.4,906.6 L414.4,910.9 L415.4,915.4 L416.4,920.0 L417.4,924.6 L418.4,929.3 L419.4,933.9 L420.4,938.6 L421.4,943.3 L422.4,948.1 L423.4,952.9 L424.4,957.7 L425.4,962.6 L426.4,967.5 L427.4,972.5 L428.4,977.5 L429.4,982.5 L430.4,987.6 L431.4,992.8 L432.4,998.4 L433.4,1004.1 L434.4,1009.7 L435.4,1015.1 L436.4,1019.9 L437.4,1024.3 L438.4,1028.6 L439.4,1032.7 L440.4,1036.4 L441.4,1039.5 L442.4,1041.9 L443.4,1043.8 L444.4,1045.5 L445.4,1047.1 L446.4,1048.5 L447.4,1049.6 L448.4,1050.4 L449.4,1050.8 L450.4,1051.2 L451.4,1051.5 L452.4,1051.7 L453.4,1051.9 L454.4,1052.0 L455.4,1052.0 L456.4,1051.8 L457.4,1051.4 L458.4,1050.8 L459.4,1050.0 L460.4,1049.1 L461.4,1048.0 L462.4,1046.9 L463.4,1045.6 L464.4,1044.3 L465.4,1042.9 L466.4,1041.4 L467.4,1040.0 L468.4,1038.5 L469.4,1037.1 L470.4,1035.5 L471.4,1033.8 L472.4,1031.8 L473.4,1029.7 L474.4,1027.4 L475.4,1025.0 L476.4,1022.6 L477.4,1020.2 L478.4,1017.8 L479.4,1015.4 L480.4,1013.1 L481.4,1010.9 L482.4,1008.7 L483.4,1006.5 L484.4,1004.4 L485.4,1002.2 L486.4,1000.0 L487.4,997.8 L488.4,995.6 L489.4,993.4 L490.4,991.2 L491.4,988.9 L492.4,986.6 L493.4,984.1 L494.4,981.5 L495.4,978.9 L496.4,976.1 L497.4,973.4 L498.4,970.7 L499.4,968.2 L500.4,965.8 L501.4,963.6 L502.4,961.7 L503.4,960.1 L504.4,958.7 L505.4,957.2 L506.4,955.8 L507.4,954.5 L508.4,953.2 L509.4,952.1 L510.4,951.0 L511.4,950.2 L512.4,949.5 L513.4,949.0 L514.4,948.8 L515.4,948.9 L516.4,949.1 L517.4,949.5 L518.4,950.1 L519.4,950.8 L520.4,951.5 L521.4,952.4 L522.4,953.2 L523.4,954.1 L524.4,955.0 L525.4,955.9 L526.4,956.6 L527.4,957.3 L528.4,957.8 L529.4,958.4 L530.4,958.9 L531.4,959.5 L532.4,960.0 L533.4,960.5 L534.4,961.0 L535.4,961.4 L536.4,961.8 L537.4,962.1 L538.4,962.3 L539.4,962.4 L540.4,962.2 L541.4,961.5 L542.4,960.2 L543.4,958.5 L544.4,956.4 L545.4,954.2 L546.4,951.8 L547.4,949.4 L548.4,947.2 L549.4,945.0 L550.4,942.7 L551.4,940.2 L552.4,937.7 L553.4,935.0 L554.4,932.2 L555.4,929.2 L556.4,926.1 L557.4,922.9 L558.4,919.5 L559.4,915.7 L560.4,911.6 L561.4,907.3 L562.4,902.8 L563.4,898.2 L564.4,893.6 L565.4,889.1 L566.4,884.8 L567.4,880.6 L568.4,876.6 L569.4,872.5 L570.4,868.6 L571.4,864.6 L572.4,860.6 L573.4,856.7 L574.4,852.7 L575.4,848.8 L576.4,844.8 L577.4,840.8 L578.4,836.7 L579.4,832.7 L580.4,828.6 L581.4,824.6 L582.4,820.6 L583.4,816.7 L584.4,812.9 L585.4,809.1 L586.4,805.2 L587.4,801.3 L588.4,797.3 L589.4,793.4 L590.4,789.7 L591.4,786.2 L592.4,783.1 L593.4,780.3 L594.4,778.0 L595.4,775.7 L596.4,773.4 L597.4,771.4 L598.4,769.6 L599.4,768.3 L600.4,767.7 L601.4,767.7 L602.4,768.0 L603.4,768.7 L604.4,769.6 L605.4,770.7 L606.4,772.0 L607.4,773.3 L608.4,774.6 L609.4,776.0 L610.4,777.2 L611.4,778.6 L612.4,780.0 L613.4,781.5 L614.4,783.2 L615.4,785.2 L616.4,787.3 L617.4,789.8 L618.4,793.0 L619.4,796.8 L620.4,801.0 L621.4,805.4 L622.4,810.0 L623.4,814.6 L624.4,819.4 L625.4,824.4 L626.4,829.7 L627.4,835.2 L628.4,840.8 L629.4,846.4 L630.4,852.0 L631.4,857.6 L632.4,863.5 L633.4,869.4 L634.4,875.3 L635.4,880.9 L636.4,886.4 L637.4,891.4 L638.4,896.0 L639.4,900.5 L640.4,904.8 L641.4,909.0 L642.4,913.1 L643.4,917.2 L644.4,921.4 L645.4,925.6 L646.4,929.8 L647.4,934.0 L648.4,938.1 L649.4,942.2 L650.4,946.2 L651.4,950.0 L652.4,953.8 L653.4,957.4 L654.4,961.1 L655.4,964.8 L656.4,968.4 L657.4,971.9 L658.4,975.3 L659.4,978.4 L660.4,981.3 L661.4,983.7 L662.4,985.8 L663.4,987.8 L664.4,989.8 L665.4,991.8 L666.4,993.6 L667.4,995.3 L668.4,996.9 L669.4,998.3 L670.4,999.4 L671.4,1000.2 L672.4,1000.7 L673.4,1000.9 L674.4,1000.8 L675.4,1000.4 L676.4,999.9 L677.4,999.2 L678.4,998.4 L679.4,997.4 L680.4,996.4 L681.4,995.3 L682.4,994.1 L683.4,992.5 L684.4,990.3 L685.4,987.5 L686.4,984.5 L687.4,981.3 L688.4,978.2 L689.4,975.5 L690.4,973.1 L691.4,970.8 L692.4,968.6 L693.4,966.4 L694.4,964.4 L695.4,962.5 L696.4,960.9 L697.4,959.5 L698.4,958.1 L699.4,956.7 L700.4,955.4 L701.4,954.4 L702.4,953.6 L703.4,953.3 L704.4,953.3 L705.4,953.3 L706.4,953.3 L707.4,953.3 L708.4,953.3 L709.4,953.3 L710.4,953.3 L711.4,953.3 L712.4,953.3 L713.4,953.4 L714.4,953.6 L715.4,953.9 L716.4,954.4 L717.4,955.0 L718.4,955.7 L719.4,956.5 L720.4,957.3 L721.4,958.2 L722.4,959.2 L723.4,960.1 L724.4,961.1 L725.4,962.1 L726.4,963.1 L727.4,964.1 L728.4,965.0 L729.4,965.8 L730.4,966.6 L731.4,967.3 L732.4,968.0 L733.4,968.8 L734.4,969.5 L735.4,970.2 L736.4,970.9 L737.4,971.6 L738.4,972.3 L739.4,973.0 L740.4,973.6 L741.4,974.3 L742.4,974.9 L743.4,975.5 L744.4,976.0 L745.4,976.5 L746.4,977.1 L747.4,977.7 L748.4,978.3 L749.4,978.9 L750.4,979.4 L751.4,979.8 L752.4,980.2 L753.4,980.4 L754.4,980.5 L755.4,980.3 L756.4,979.7 L757.4,978.8 L758.4,977.6 L759.4,976.2 L760.4,974.6 L761.4,973.1 L762.4,971.7 L763.4,970.4 L764.4,969.3 L765.4,968.5 L766.4,967.7 L767.4,966.9 L768.4,966.1 L769.4,965.4 L770.4,964.6 L771.4,963.9 L772.4,963.2 L773.4,962.7 L774.4,962.2 L775.4,961.7 L776.4,961.4 L777.4,961.3 L778.4,961.2 L779.4,961.3 L780.4,961.7 L781.4,962.2 L782.4,962.8 L783.4,963.4 L784.4,964.1 L785.4,964.8 L786.4,965.8 L787.4,967.1 L788.4,968.6 L789.4,970.1 L790.4,971.6 L791.4,972.9 L792.4,974.0 L793.4,974.6 L794.4,974.8 L795.4,974.5 L796.4,973.8 L797.4,972.8 L798.4,971.6 L799.4,970.3 L800.4,969.0 L801.4,967.7 L802.4,966.6 L803.4,965.7 L804.4,965.0 L805.4,964.2 L806.4,963.5 L807.4,962.8 L808.4,962.2 L809.4,961.6 L810.4,961.0 L811.4,960.5 L812.4,960.1 L813.4,959.7 L814.4,959.4 L815.4,959.1 L816.4,958.9 L817.4,958.7 L818.4,958.5 L819.4,958.3 L820.4,958.0 L821.4,957.7 L822.4,957.3 L823.4,956.8 L824.4,956.0 L825.4,954.7 L826.4,952.9 L827.4,950.7 L828.4,948.2 L829.4,944.1 L830.4,938.6 L831.4,933.2 L832.4,929.2 L833.4,927.0 L834.4,925.1 L835.4,923.5 L836.4,922.1 L837.4,920.9 L838.4,920.2 L839.4,919.8 L840.4,919.7 L841.4,919.6 L842.4,919.5 L843.4,919.5 L844.4,919.4 L845.4,919.4 L846.4,919.3 L847.4,919.3 L848.4,919.3 L849.4,919.3 L850.4,919.3 L851.4,919.3 L852.4,919.3 L853.4,919.3 L854.4,919.3 L855.4,919.3 L856.4,919.3 L857.4,919.3 L858.4,919.3 L859.4,919.3 L860.4,919.3 L861.4,919.3 L862.4,919.3 L863.4,919.6 L864.4,920.3 L865.4,921.2 L866.4,922.4 L867.4,923.8 L868.4,925.3 L869.4,927.1 L870.4,929.8 L871.4,933.4 L872.4,937.4 L873.4,941.6 L874.4,946.4 L875.4,952.4 L876.4,958.3 L877.4,962.9 L878.4,965.4 L879.4,967.0 L880.4,968.4 L881.4,969.6 L882.4,970.6 L883.4,971.5 L884.4,972.2 L885.4,972.9 L886.4,973.6 L887.4,974.1 L888.4,974.7 L889.4,975.2 L890.4,975.6 L891.4,976.1 L892.4,976.5 L893.4,976.9 L894.4,977.3 L895.4,977.7 L896.4,978.2 L897.4,978.6 L898.4,979.1 L899.4,979.5 L900.4,979.9 L901.4,980.3 L902.4,980.7 L903.4,981.0 L904.4,981.2 L905.4,981.4 L906.4,981.6 L907.4,981.6 L908.4,981.4 L909.4,981.0 L910.4,980.4 L911.4,979.6 L912.4,978.7 L913.4,977.8 L914.4,976.9 L915.4,975.8 L916.4,974.3 L917.4,972.7 L918.4,971.2 L919.4,970.0 L920.4,969.2 L921.4,969.1 L922.4,969.1 L923.4,969.1 L924.4,969.1 L925.4,969.1 L926.4,969.1 L927.4,969.1 L928.4,969.1 L929.4,969.1 L930.4,969.1 L931.4,969.2 L932.4,969.3 L933.4,969.4 L934.4,969.6 L935.4,969.8 L936.4,970.0 L937.4,970.3 L938.4,970.5 L939.4,970.8 L940.4,971.0 L941.4,971.2 L942.4,971.3 L943.4,971.4 L944.4,971.5 L945.4,971.5 L946.4,971.3 L947.4,970.9 L948.4,970.4 L949.4,969.8 L950.4,969.1 L951.4,968.3 L952.4,967.1 L953.4,965.7 L954.4,964.0 L955.4,962.1 L956.4,960.2 L957.4,958.3 L958.4,956.4 L959.4,954.6 L960.4,952.7 L961.4,950.7 L962.4,948.7 L963.4,946.7 L964.4,944.6 L965.4,942.5 L966.4,940.5 L967.4,938.4 L968.4,936.4 L969.4,934.1 L970.4,931.6 L971.4,929.2 L972.4,926.9 L973.4,924.8 L974.4,923.2 L975.4,922.2 L976.4,921.5 L977.4,921.0 L978.4,920.5 L979.4,920.1 L980.4,919.9 L981.4,919.8 L982.4,919.8 L983.4,919.8 L984.4,919.8 L985.4,919.8 L986.4,919.8 L987.4,919.8 L988.4,919.8 L989.4,919.8 L990.4,919.8 L991.4,919.8 L992.4,919.8 L993.4,919.8 L994.4,919.8 L995.4,919.8 L996.4,919.8 L997.4,919.9 L998.4,919.9 L999.4,919.9 L1000.4,919.9 L1001.4,919.9 L1002.4,919.9 L1003.4,919.9 L1004.4,919.9 L1005.4,919.9 L1006.4,919.9 L1007.4,919.9 L1008.4,920.0 L1009.4,920.0 L1010.4,920.0 L1011.4,920.0 L1012.4,920.0 L1013.4,920.0 L1014.4,920.1 L1015.4,920.1 L1016.4,920.1 L1017.4,920.1 L1018.4,920.1 L1019.4,920.2 L1020.4,920.2 L1021.4,920.2 L1022.4,920.3 L1023.4,920.5 L1024.4,920.9 L1025.4,921.4 L1026.4,922.0 L1027.4,922.6 L1028.4,923.2 L1029.4,923.8 L1030.4,924.4 L1031.4,925.0 L1032.4,925.4 L1033.4,925.7 L1034.4,925.9 L1035.4,925.9 L1036.4,925.9 L1037.4,925.8 L1038.4,925.7 L1039.4,925.6 L1040.4,925.5 L1041.4,925.4 L1042.4,925.2 L1043.4,925.1 L1044.4,924.9 L1045.4,924.7 L1046.4,924.5 L1047.4,924.3 L1048.4,924.1 L1049.4,923.9 L1050.4,923.8 L1051.4,923.6 L1052.4,923.4 L1053.4,923.2 L1054.4,923.0 L1055.4,922.8 L1056.4,922.6 L1057.4,922.4 L1058.4,922.1 L1059.4,921.9 L1060.4,921.6 L1061.4,921.4 L1062.4,921.2 L1063.4,920.9 L1064.4,920.7 L1065.4,920.5 L1066.4,920.4 L1067.4,920.3 L1068.4,920.2 L1069.4,920.2 L1070.4,920.2 L1071.4,920.2 L1072.4,920.2 L1073.4,920.2 L1074.4,920.2 L1075.4,920.2 L1076.4,920.2 L1077.4,920.2 L1078.4,920.2 L1079.4,920.2 L1080.4,920.2 L1081.4,920.2 L1082.4,920.2 L1083.4,920.2 L1084.4,920.2 L1085.4,920.2 L1086.4,920.2 L1087.4,920.2 L1088.4,920.2 L1089.4,920.2 L1090.4,920.2 L1091.4,920.2 L1092.4,920.2 L1093.4,920.2 L1094.4,920.2 L1095.4,920.2 L1096.4,920.2 L1097.4,920.2 L1098.4,920.1 L1099.4,920.1 L1100.4,920.0 L1101.4,919.9 L1102.4,919.8 L1103.4,919.7 L1104.4,919.5 L1105.4,919.3 L1106.4,919.2 L1107.4,919.0 L1108.4,918.8 L1109.4,918.6 L1110.4,918.4 L1111.4,918.2 L1112.4,918.0 L1113.4,917.7 L1114.4,917.5 L1115.4,917.3 L1116.4,917.0 L1117.4,916.6 L1118.4,916.2 L1119.4,915.8 L1120.4,915.3 L1121.4,914.7 L1122.4,914.2 L1123.4,913.6 L1124.4,913.1 L1125.4,912.6 L1126.4,912.1 L1127.4,911.6 L1128.4,911.2 L1129.4,910.9 L1130.4,910.6 L1131.4,910.4 L1132.4,910.3 L1133.4,910.1 L1134.4,909.9 L1135.4,909.7 L1136.4,909.6 L1137.4,909.4 L1138.4,909.3 L1139.4,909.1 L1140.4,909.0 L1141.4,908.9 L1142.4,908.8 L1143.4,908.8 L1144.4,908.7 L1145.4,908.7 L1146.4,908.7 L1147.4,908.9 L1148.4,909.1 L1149.4,909.5 L1150.4,910.0 L1151.4,910.5 L1152.4,911.0 L1153.4,911.5 L1154.4,912.1 L1155.4,912.8 L1156.4,913.6 L1157.4,914.5 L1158.4,915.5 L1159.3,916.4" fill="none" stroke="#4b2284" stroke-width="2" stroke-dasharray="10 6.3"/>
<path d="M211.4,848.6 L212.4,849.1 L213.4,849.6 L214.4,850.0 L215.4,850.5 L216.4,850.9 L217.4,851.3 L218.4,851.7 L219.4,852.1 L220.4,852.5 L221.4,852.8 L222.4,853.1 L223.4,853.5 L224.4,853.8 L225.4,854.2 L226.4,854.5 L227.4,854.8 L228.4,855.2 L229.4,855.4 L230.4,855.7 L231.4,855.9 L232.4,856.0 L233.4,856.1 L234.4,856.1 L235.4,855.8 L236.4,855.2 L237.4,854.3 L238.4,853.4 L239.4,852.3 L240.4,851.3 L241.4,850.1 L242.4,848.7 L243.4,847.1 L244.4,845.3 L245.4,843.4 L246.4,841.6 L247.4,839.8 L248.4,838.2 L249.4,836.4 L250.4,834.6 L251.4,832.9 L252.4,831.3 L253.4,829.8 L254.4,828.6 L255.4,827.5 L256.4,826.5 L257.4,825.5 L258.4,824.7 L259.4,823.8 L260.4,823.0 L261.4,822.1 L262.4,821.3 L263.4,820.3 L264.4,819.3 L265.4,818.1 L266.4,816.8 L267.4,815.4 L268.4,813.8 L269.4,812.3 L270.4,810.7 L271.4,809.1 L272.4,807.6 L273.4,806.3 L274.4,805.0 L275.4,803.9 L276.4,802.8 L277.4,801.6 L278.4,800.5 L279.4,799.5 L280.4,798.8 L281.4,798.3 L282.4,798.2 L283.4,798.6 L284.4,799.5 L285.4,800.6 L286.4,801.9 L287.4,803.3 L288.4,804.5 L289.4,805.5 L290.4,806.6 L291.4,807.7 L292.4,808.8 L293.4,809.9 L294.4,810.9 L295.4,812.0 L296.4,813.1 L297.4,814.2 L298.4,815.3 L299.4,816.4 L300.4,817.4 L301.4,818.5 L302.4,819.6 L303.4,820.7 L304.4,821.8 L305.4,822.9 L306.4,824.0 L307.4,825.1 L308.4,826.2 L309.4,827.1 L310.4,828.0 L311.4,828.8 L312.4,829.4 L313.4,830.0 L314.4,830.6 L315.4,831.2 L316.4,831.7 L317.4,832.2 L318.4,832.4 L319.4,832.6 L320.4,832.5 L321.4,832.2 L322.4,831.7 L323.4,831.1 L324.4,830.3 L325.4,829.5 L326.4,828.7 L327.4,827.9 L328.4,827.1 L329.4,826.4 L330.4,825.7 L331.4,824.9 L332.4,824.2 L333.4,823.4 L334.4,822.5 L335.4,821.7 L336.4,820.9 L337.4,820.0 L338.4,819.1 L339.4,818.2 L340.4,817.3 L341.4,816.2 L342.4,815.2 L343.4,814.2 L344.4,813.3 L345.4,812.5 L346.4,811.6 L347.4,810.9 L348.4,810.2 L349.4,809.7 L350.4,809.3 L351.4,808.9 L352.4,808.5 L353.4,808.2 L354.4,807.8 L355.4,807.6 L356.4,807.3 L357.4,807.0 L358.4,806.7 L359.4,806.4 L360.4,806.1 L361.4,805.8 L362.4,805.5 L363.4,805.2 L364.4,804.9 L365.4,804.6 L366.4,804.2 L367.4,803.7 L368.4,802.8 L369.4,801.5 L370.4,799.9 L371.4,798.1 L372.4,796.1 L373.4,794.0 L374.4,791.9 L375.4,789.9 L376.4,787.9 L377.4,786.2 L378.4,784.7 L379.4,783.4 L380.4,782.2 L381.4,781.0 L382.4,779.8 L383.4,778.6 L384.4,777.4 L385.4,776.3 L386.4,775.3 L387.4,774.3 L388.4,773.5 L389.4,772.7 L390.4,772.2 L391.4,771.8 L392.4,771.5 L393.4,771.5 L394.4,771.9 L395.4,772.5 L396.4,773.4 L397.4,774.6 L398.4,775.9 L399.4,777.4 L400.4,779.0 L401.4,780.6 L402.4,782.8 L403.4,785.5 L404.4,788.7 L405.4,792.2 L406.4,796.0 L407.4,799.8 L408.4,803.7 L409.4,807.4 L410.4,811.4 L411.4,815.7 L412.4,820.2 L413.4,824.7 L414.4,829.2 L415.4,833.6 L416.4,837.6 L417.4,841.3 L418.4,844.8 L419.4,848.1 L420.4,851.3 L421.4,854.4 L422.4,857.5 L423.4,860.6 L424.4,863.9 L425.4,867.1 L426.4,870.1 L427.4,872.9 L428.4,875.5 L429.4,878.0 L430.4,880.1 L431.4,882.0 L432.4,883.6 L433.4,885.1 L434.4,886.4 L435.4,887.7 L436.4,889.0 L437.4,890.3 L438.4,891.7 L439.4,893.1 L440.4,894.4 L441.4,895.7 L442.4,896.9 L443.4,897.9 L444.4,898.9 L445.4,899.9 L446.4,900.8 L447.4,901.7 L448.4,902.5 L449.4,903.2 L450.4,903.7 L451.4,904.2 L452.4,904.6 L453.4,905.0 L454.4,905.3 L455.4,905.5 L456.4,905.7 L457.4,905.7 L458.4,905.5 L459.4,905.1 L460.4,904.5 L461.4,903.7 L462.4,902.8 L463.4,901.7 L464.4,900.5 L465.4,899.2 L466.4,897.9 L467.4,896.4 L468.4,894.2 L469.4,891.2 L470.4,887.5 L471.4,883.3 L472.4,878.6 L473.4,873.8 L474.4,868.9 L475.4,864.1 L476.4,859.5 L477.4,854.8 L478.4,849.9 L479.4,844.8 L480.4,839.5 L481.4,834.3 L482.4,829.1 L483.4,824.1 L484.4,819.2 L485.4,814.7 L486.4,810.1 L487.4,805.5 L488.4,800.9 L489.4,796.4 L490.4,792.1 L491.4,788.1 L492.4,784.5 L493.4,781.4 L494.4,778.9 L495.4,776.8 L496.4,774.6 L497.4,772.7 L498.4,771.0 L499.4,769.7 L500.4,768.9 L501.4,768.7 L502.4,769.1 L503.4,770.1 L504.4,771.5 L505.4,773.2 L506.4,775.3 L507.4,777.5 L508.4,780.0 L509.4,783.8 L510.4,788.9 L511.4,794.8 L512.4,801.1 L513.4,807.5 L514.4,813.4 L515.4,819.0 L516.4,824.9 L517.4,830.9 L518.4,836.8 L519.4,842.3 L520.4,847.2 L521.4,851.1 L522.4,854.2 L523.4,857.2 L524.4,860.0 L525.4,862.6 L526.4,865.0 L527.4,867.1 L528.4,868.9 L529.4,870.4 L530.4,871.6 L531.4,872.6 L532.4,873.4 L533.4,874.2 L534.4,875.0 L535.4,875.6 L536.4,876.2 L537.4,876.7 L538.4,877.1 L539.4,877.3 L540.4,877.5 L541.4,877.6 L542.4,877.7 L543.4,877.8 L544.4,877.9 L545.4,877.9 L546.4,878.0 L547.4,878.1 L548.4,878.2 L549.4,878.3 L550.4,878.5 L551.4,878.9 L552.4,880.8 L553.4,884.1 L554.4,888.0 L555.4,891.8 L556.4,895.4 L557.4,899.4 L558.4,903.7 L559.4,908.0 L560.4,912.3 L561.4,916.2 L562.4,919.6 L563.4,922.6 L564.4,925.3 L565.4,927.8 L566.4,930.3 L567.4,932.8 L568.4,935.4 L569.4,938.3 L570.4,941.7 L571.4,945.4 L572.4,949.2 L573.4,952.9 L574.4,956.2 L575.4,959.0 L576.4,961.1 L577.4,962.9 L578.4,964.7 L579.4,966.3 L580.4,967.8 L581.4,969.2 L582.4,970.3 L583.4,971.3 L584.4,972.1 L585.4,972.7 L586.4,973.3 L587.4,973.8 L588.4,974.3 L589.4,974.8 L590.4,975.2 L591.4,975.6 L592.4,976.0 L593.4,976.3 L594.4,976.6 L595.4,976.8 L596.4,977.0 L597.4,977.1 L598.4,977.1 L599.4,977.1 L600.4,977.0 L601.4,976.8 L602.4,976.5 L603.4,976.2 L604.4,975.9 L605.4,975.4 L606.4,975.0 L607.4,974.4 L608.4,973.9 L609.4,973.2 L610.4,972.6 L611.4,971.9 L612.4,971.2 L613.4,970.1 L614.4,968.8 L615.4,967.1 L616.4,965.2 L617.4,963.0 L618.4,960.7 L619.4,958.2 L620.4,955.5 L621.4,952.7 L622.4,949.5 L623.4,945.6 L624.4,941.3 L625.4,936.6 L626.4,931.7 L627.4,926.8 L628.4,921.8 L629.4,916.5 L630.4,911.0 L631.4,905.2 L632.4,899.3 L633.4,893.4 L634.4,887.6 L635.4,881.9 L636.4,876.2 L637.4,870.5 L638.4,864.8 L639.4,859.1 L640.4,853.5 L641.4,847.9 L642.4,842.4 L643.4,836.8 L644.4,831.2 L645.4,825.7 L646.4,820.4 L647.4,815.4 L648.4,810.6 L649.4,806.0 L650.4,801.3 L651.4,796.7 L652.4,792.4 L653.4,788.6 L654.4,785.4 L655.4,783.0 L656.4,780.9 L657.4,778.8 L658.4,776.9 L659.4,775.1 L660.4,773.4 L661.4,771.9 L662.4,770.6 L663.4,769.5 L664.4,768.6 L665.4,768.0 L666.4,767.6 L667.4,767.4 L668.4,767.3 L669.4,767.2 L670.4,767.1 L671.4,767.1 L672.4,767.0 L673.4,767.0 L674.4,766.9 L675.4,766.8 L676.4,766.7 L677.4,766.5 L678.4,766.1 L679.4,765.1 L680.4,763.5 L681.4,761.4 L682.4,759.1 L683.4,756.7 L684.4,754.4 L685.4,752.0 L686.4,749.0 L687.4,745.7 L688.4,742.4 L689.4,739.5 L690.4,737.2 L691.4,735.9 L692.4,735.2 L693.4,734.6 L694.4,734.1 L695.4,733.8 L696.4,733.6 L697.4,734.1 L698.4,736.8 L699.4,741.0 L700.4,745.7 L701.4,749.8 L702.4,754.0 L703.4,758.6 L704.4,763.3 L705.4,767.3 L706.4,770.1 L707.4,771.3 L708.4,772.1 L709.4,772.7 L710.4,773.1 L711.4,773.5 L712.4,773.8 L713.4,774.1 L714.4,774.4 L715.4,774.7 L716.4,775.0 L717.4,775.4 L718.4,775.9 L719.4,776.6 L720.4,777.5 L721.4,778.7 L722.4,780.1 L723.4,781.8 L724.4,783.6 L725.4,785.6 L726.4,787.7 L727.4,789.8 L728.4,792.0 L729.4,794.1 L730.4,796.2 L731.4,798.2 L732.4,800.3 L733.4,802.4 L734.4,804.5 L735.4,806.8 L736.4,809.1 L737.4,811.4 L738.4,813.8 L739.4,816.4 L740.4,819.1 L741.4,822.2 L742.4,825.5 L743.4,828.9 L744.4,832.2 L745.4,835.1 L746.4,837.4 L747.4,839.2 L748.4,840.9 L749.4,842.4 L750.4,843.8 L751.4,845.0 L752.4,846.1 L753.4,847.1 L754.4,847.9 L755.4,848.5 L756.4,849.1 L757.4,849.6 L758.4,850.1 L759.4,850.5 L760.4,850.9 L761.4,851.2 L762.4,851.6 L763.4,852.0 L764.4,852.4 L765.4,852.8 L766.4,853.3 L767.4,853.8 L768.4,854.4 L769.4,855.1 L770.4,855.8 L771.4,856.6 L772.4,857.4 L773.4,858.2 L774.4,859.0 L775.4,859.8 L776.4,860.6 L777.4,861.4 L778.4,862.2 L779.4,863.0 L780.4,863.7 L781.4,864.4 L782.4,865.1 L783.4,865.9 L784.4,866.7 L785.4,867.6 L786.4,868.4 L787.4,869.2 L788.4,869.9 L789.4,870.5 L790.4,871.1 L791.4,871.6 L792.4,871.9 L793.4,872.1 L794.4,872.2 L795.4,872.0 L796.4,871.5 L797.4,870.9 L798.4,870.0 L799.4,869.1 L800.4,868.0 L801.4,866.9 L802.4,865.8 L803.4,864.7 L804.4,863.7 L805.4,862.8 L806.4,861.9 L807.4,861.1 L808.4,860.2 L809.4,859.3 L810.4,858.4 L811.4,857.5 L812.4,856.6 L813.4,855.8 L814.4,855.1 L815.4,854.4 L816.4,853.8 L817.4,853.3 L818.4,852.8 L819.4,852.3 L820.4,851.8 L821.4,851.3 L822.4,850.9 L823.4,850.6 L824.4,850.3 L825.4,850.2 L826.4,850.2 L827.4,850.4 L828.4,850.6 L829.4,850.9 L830.4,851.4 L831.4,851.8 L832.4,852.4 L833.4,852.9 L834.4,853.4 L835.4,854.0 L836.4,854.5 L837.4,854.9 L838.4,855.3 L839.4,855.7 L840.4,856.0 L841.4,856.4 L842.4,856.8 L843.4,857.1 L844.4,857.5 L845.4,857.9 L846.4,858.3 L847.4,858.7 L848.4,859.2 L849.4,859.7 L850.4,860.2 L851.4,860.7 L852.4,861.4 L853.4,862.0 L854.4,862.8 L855.4,863.5 L856.4,864.3 L857.4,865.2 L858.4,866.1 L859.4,867.0 L860.4,867.9 L861.4,868.9 L862.4,869.8 L863.4,870.8 L864.4,871.8 L865.4,872.9 L866.4,874.0 L867.4,875.2 L868.4,876.5 L869.4,877.9 L870.4,879.2 L871.4,880.5 L872.4,881.8 L873.4,883.0 L874.4,884.1 L875.4,885.0 L876.4,885.9 L877.4,886.7 L878.4,887.5 L879.4,888.2 L880.4,888.9 L881.4,889.6 L882.4,890.2 L883.4,890.8 L884.4,891.5 L885.4,892.1 L886.4,892.7 L887.4,893.3 L888.4,893.9 L889.4,894.5 L890.4,895.1 L891.4,895.8 L892.4,896.5 L893.4,897.2 L894.4,898.0 L895.4,898.7 L896.4,899.5 L897.4,900.2 L898.4,900.9 L899.4,901.6 L900.4,902.2 L901.4,902.8 L902.4,903.3 L903.4,903.7 L904.4,904.1 L905.4,904.4 L906.4,904.5 L907.4,904.6 L908.4,904.5 L909.4,904.2 L910.4,903.8 L911.4,903.2 L912.4,902.5 L913.4,901.7 L914.4,900.9 L915.4,900.0 L916.4,899.0 L917.4,897.5 L918.4,895.2 L919.4,892.9 L920.4,891.3 L921.4,891.0 L922.4,891.3 L923.4,891.9 L924.4,892.6 L925.4,893.5 L926.4,894.3 L927.4,895.2 L928.4,896.0 L929.4,897.0 L930.4,898.1 L931.4,899.3 L932.4,900.4 L933.4,901.5 L934.4,902.4 L935.4,903.1 L936.4,903.4 L937.4,903.5 L938.4,903.4 L939.4,903.3 L940.4,903.2 L941.4,903.0 L942.4,902.8 L943.4,902.6 L944.4,902.5 L945.4,902.3 L946.4,902.1 L947.4,902.1 L948.4,902.0 L949.4,902.0 L950.4,902.0 L951.4,902.1 L952.4,902.1 L953.4,902.2 L954.4,902.3 L955.4,902.4 L956.4,902.5 L957.4,902.6 L958.4,902.7 L959.4,902.8 L960.4,902.9 L961.4,902.9 L962.4,903.0 L963.4,903.0 L964.4,903.0 L965.4,902.7 L966.4,902.2 L967.4,901.5 L968.4,900.6 L969.4,899.6 L970.4,898.5 L971.4,897.5 L972.4,896.4 L973.4,895.2 L974.4,893.8 L975.4,892.3 L976.4,890.6 L977.4,888.8 L978.4,887.0 L979.4,885.2 L980.4,883.3 L981.4,881.4 L982.4,879.6 L983.4,877.7 L984.4,875.7 L985.4,873.6 L986.4,871.4 L987.4,869.2 L988.4,867.0 L989.4,864.9 L990.4,862.9 L991.4,861.0 L992.4,859.2 L993.4,857.6 L994.4,856.0 L995.4,854.3 L996.4,852.5 L997.4,850.8 L998.4,849.2 L999.4,847.7 L1000.4,846.3 L1001.4,845.1 L1002.4,844.1 L1003.4,843.4 L1004.4,842.9 L1005.4,842.8 L1006.4,843.0 L1007.4,843.4 L1008.4,844.0 L1009.4,844.9 L1010.4,845.8 L1011.4,846.9 L1012.4,848.2 L1013.4,849.4 L1014.4,850.7 L1015.4,852.1 L1016.4,853.4 L1017.4,854.7 L1018.4,855.9 L1019.4,857.0 L1020.4,858.1 L1021.4,859.3 L1022.4,860.5 L1023.4,861.8 L1024.4,863.1 L1025.4,864.4 L1026.4,865.6 L1027.4,866.8 L1028.4,868.0 L1029.4,869.0 L1030.4,870.0 L1031.4,870.8 L1032.4,871.6 L1033.4,872.4 L1034.4,873.2 L1035.4,874.0 L1036.4,874.7 L1037.4,875.3 L1038.4,875.8 L1039.4,876.1 L1040.4,876.2 L1041.4,875.9 L1042.4,875.2 L1043.4,874.0 L1044.4,872.6 L1045.4,870.9 L1046.4,869.2 L1047.4,867.5 L1048.4,865.8 L1049.4,864.1 L1050.4,862.1 L1051.4,860.0 L1052.4,857.8 L1053.4,855.5 L1054.4,853.1 L1055.4,850.7 L1056.4,848.2 L1057.4,845.4 L1058.4,842.3 L1059.4,839.1 L1060.4,836.1 L1061.4,833.3 L1062.4,830.9 L1063.4,828.9 L1064.4,827.1 L1065.4,825.4 L1066.4,823.8 L1067.4,822.3 L1068.4,821.0 L1069.4,819.8 L1070.4,818.7 L1071.4,817.7 L1072.4,816.8 L1073.4,815.9 L1074.4,815.1 L1075.4,814.4 L1076.4,813.7 L1077.4,813.1 L1078.4,812.5 L1079.4,812.1 L1080.4,811.8 L1081.4,811.5 L1082.4,811.3 L1083.4,811.1 L1084.4,810.9 L1085.4,810.8 L1086.4,810.6 L1087.4,810.5 L1088.4,810.3 L1089.4,810.2 L1090.4,810.0 L1091.4,809.7 L1092.4,809.5 L1093.4,809.2 L1094.4,808.7 L1095.4,808.2 L1096.4,807.5 L1097.4,806.7 L1098.4,805.8 L1099.4,804.9 L1100.4,803.8 L1101.4,802.7 L1102.4,801.4 L1103.4,800.1 L1104.4,798.4 L1105.4,796.3 L1106.4,794.1 L1107.4,791.7 L1108.4,789.2 L1109.4,786.3 L1110.4,783.0 L1111.4,779.6 L1112.4,776.2 L1113.4,772.9 L1114.4,769.7 L1115.4,766.4 L1116.4,763.2 L1117.4,760.0 L1118.4,756.7 L1119.4,753.5 L1120.4,750.3 L1121.4,747.1 L1122.4,743.8 L1123.4,740.6 L1124.4,737.4 L1125.4,734.3 L1126.4,731.2 L1127.4,728.1 L1128.4,724.9 L1129.4,721.7 L1130.4,718.6 L1131.4,715.8 L1132.4,713.5 L1133.4,711.7 L1134.4,710.1 L1135.4,708.5 L1136.4,707.1 L1137.4,705.8 L1138.4,704.7 L1139.4,703.9 L1140.4,703.4 L1141.4,703.3 L1142.4,703.6 L1143.4,704.3 L1144.4,705.3 L1145.4,706.5 L1146.4,707.7 L1147.4,709.3 L1148.4,711.6 L1149.4,714.3 L1150.4,717.2 L1151.4,720.0 L1152.4,722.5 L1153.4,725.0 L1154.4,727.4 L1155.4,729.9 L1156.4,732.3 L1157.4,734.7 L1158.4,737.1 L1158.5,737.3" fill="none" stroke="#4b2284" stroke-width="2" stroke-dasharray="10 6.3"/>
<path d="M211.4,919.9 H1160.0" stroke="#000" stroke-width="2.3" stroke-dasharray="10.1 6.2"/>
<path d="M211.0,914.6 L212.0,914.5 L213.0,914.3 L214.0,914.1 L215.0,913.7 L216.0,913.2 L217.0,912.7 L218.0,912.1 L219.0,911.5 L220.0,910.9 L221.0,910.2 L222.0,909.4 L223.0,908.3 L224.0,907.2 L225.0,905.9 L226.0,904.5 L227.0,903.0 L228.0,901.4 L229.0,899.8 L230.0,898.1 L231.0,896.3 L232.0,894.3 L233.0,892.1 L234.0,889.8 L235.0,887.4 L236.0,884.9 L237.0,882.4 L238.0,880.0 L239.0,877.6 L240.0,875.1 L241.0,872.5 L242.0,869.9 L243.0,867.3 L244.0,864.5 L245.0,861.8 L246.0,858.9 L247.0,856.1 L248.0,853.1 L249.0,849.9 L250.0,846.5 L251.0,842.8 L252.0,838.8 L253.0,834.4 L254.0,829.3 L255.0,823.3 L256.0,816.4 L257.0,809.2 L258.0,801.5 L259.0,793.2 L260.0,785.0 L261.0,777.3 L262.0,770.6 L263.0,764.5 L264.0,758.6 L265.0,752.9 L266.0,746.9 L267.0,740.8 L268.0,734.8 L269.0,728.8 L269.9,723.3 L273.4,708.6 L276.2,698.8 L283.3,700.0 L285.5,714.6 L289.8,728.5 L295.0,745.8 L300.2,759.7 L305.4,773.5 L310.6,788.2 L315.2,798.5 L321.0,791.7 L324.5,785.7 L327.9,775.3 L332.3,759.7 L336.6,742.4 L340.0,723.3 L342.6,703.4 L345.2,680.0 L345.9,667.2 L350.4,628.7 L354.9,594.7 L358.3,581.1 L362.8,571.0 L368.5,575.5 L375.3,610.6 L379.8,633.2 L386.6,660.4 L391.6,674.0 L396.8,666.0 L402.5,640.0 L409.3,608.3 L419.4,565.3 L425.1,554.0 L430.8,578.9 L436.4,646.8 L443.2,717.0 L448.9,775.9 L455.7,816.6 L460.2,814.4 L465.9,791.7 L470.4,751.0 L474.9,689.8 L479.5,610.6 L486.2,583.4 L491.9,576.6 L497.6,590.2 L504.4,640.0 L511.2,683.0 L518.0,714.7 L522.5,719.3 L527.0,719.3 L531.5,692.1 L538.3,633.2 L544.0,565.3 L548.9,509.0 L553.5,488.0 L558.0,493.0 L565.3,516.4 L569.0,543.3 L572.4,573.3 L576.5,607.4 L581.7,622.9 L586.8,625.4 L593.0,620.8 L597.1,612.6 L601.3,601.2 L605.8,589.9 L611.2,587.4 L623.0,590.9 L635.2,592.3 L649.9,596.7 L654.3,594.8 L659.7,576.4 L663.8,568.0 L668.2,575.2 L674.6,594.0 L682.9,627.0 L693.2,668.3 L701.5,705.5 L706.7,715.9 L711.8,703.5 L720.1,670.4 L728.3,631.2 L734.5,598.1 L735.6,595.0 L740.0,597.5 L744.9,635.3 L751.1,689.0 L759.3,738.6 L764.3,765.6 L768.5,787.0 L773.9,774.1 L779.2,735.8 L783.4,693.1 L785.6,650.5 L788.8,586.6 L792.0,535.4 L796.8,505.5 L802.8,511.0 L806.9,537.5 L811.2,593.0 L815.4,671.8 L819.7,746.4 L823.9,765.6 L830.3,773.0 L835.7,772.0 L847.4,752.8 L855.9,731.5 L864.4,703.8 L868.7,676.1 L873.0,629.2 L878.3,593.0 L882.5,566.3 L887.9,553.5 L893.2,557.8 L897.5,584.4 L901.7,629.2 L906.0,676.1 L911.3,710.2 L916.6,734.7 L922.0,744.3 L928.4,723.0 L934.8,684.6 L943.3,642.0 L949.7,627.1 L953.9,628.0 L959.3,656.9 L965.7,710.2 L970.0,758.0 L972.6,798.0 L974.8,830.0 L977.9,865.7 L982.3,886.8 L987.6,902.7 L992.8,906.2 L993.8,905.6 L994.8,905.0 L995.8,904.4 L996.8,903.8 L997.8,903.2 L998.8,902.6 L999.8,902.0 L1000.8,901.4 L1001.8,900.7 L1002.8,900.1 L1003.8,899.5 L1004.8,898.8 L1005.8,898.1 L1006.8,897.5 L1007.8,896.8 L1008.8,896.1 L1009.8,895.4 L1010.8,894.7 L1011.8,893.9 L1012.8,893.2 L1013.8,892.4 L1014.8,891.6 L1015.8,890.9 L1016.8,890.1 L1017.8,889.3 L1018.8,888.5 L1019.8,887.7 L1020.8,886.9 L1021.8,886.1 L1022.8,885.3 L1023.8,884.5 L1024.8,883.7 L1025.8,882.9 L1026.8,882.1 L1027.8,881.3 L1028.8,880.6 L1029.8,879.8 L1030.8,879.0 L1031.8,878.3 L1032.8,877.5 L1033.8,876.8 L1034.8,876.1 L1035.8,875.4 L1036.8,874.7 L1037.8,874.0 L1038.8,873.4 L1039.8,872.7 L1040.8,872.0 L1041.8,871.3 L1042.8,870.6 L1043.8,870.0 L1044.8,869.4 L1045.8,869.0 L1046.8,868.6 L1047.8,868.3 L1048.8,867.9 L1049.8,867.7 L1050.8,867.4 L1051.8,867.2 L1052.8,867.1 L1053.8,867.0 L1054.8,867.1 L1055.8,867.3 L1056.8,867.8 L1057.8,868.4 L1058.8,869.1 L1059.8,869.9 L1060.8,870.7 L1061.8,871.5 L1062.8,872.3 L1063.8,873.1 L1064.8,873.9 L1065.8,874.7 L1066.8,875.6 L1067.8,876.5 L1068.8,877.5 L1069.8,878.5 L1070.8,879.5 L1071.8,880.6 L1072.8,881.7 L1073.8,882.8 L1074.8,883.9 L1075.8,885.0 L1076.8,886.1 L1077.8,887.3 L1078.8,888.4 L1079.8,889.6 L1080.8,890.9 L1081.8,892.1 L1082.8,893.4 L1083.8,894.7 L1084.8,896.1 L1085.8,897.4 L1086.8,898.8 L1087.8,900.1 L1088.8,901.5 L1089.8,902.8 L1090.8,904.2 L1091.8,905.5 L1092.8,906.9 L1093.8,908.3 L1094.8,909.7 L1095.8,911.1 L1096.8,912.5 L1097.8,914.0 L1098.8,915.5 L1099.8,917.0 L1100.8,918.7 L1101.8,920.3 L1102.8,922.0 L1103.8,923.7 L1104.8,925.3 L1105.8,926.9 L1106.8,928.4 L1107.8,929.8 L1108.8,931.2 L1109.8,932.5 L1110.8,933.8 L1111.8,934.9 L1112.8,935.8 L1113.8,936.6 L1114.8,937.4 L1115.8,938.1 L1116.8,938.6 L1117.8,938.8 L1118.8,938.7 L1119.8,938.5 L1120.8,938.1 L1121.8,937.6 L1122.8,937.1 L1123.8,936.4 L1124.8,935.7 L1125.8,935.0 L1126.8,934.3 L1127.8,933.6 L1128.8,932.7 L1129.8,931.7 L1130.8,930.6 L1131.8,929.5 L1132.8,928.4 L1133.8,927.3 L1134.8,926.2 L1135.8,925.1 L1136.8,924.2 L1137.8,923.3 L1138.8,922.4 L1139.8,921.6 L1140.8,920.7 L1141.8,919.9 L1142.8,919.1 L1143.8,918.3 L1144.8,917.6 L1145.8,917.0 L1146.8,916.4 L1147.8,915.9 L1148.8,915.4 L1149.8,915.0 L1150.8,914.6 L1151.8,914.2 L1152.8,913.9 L1153.8,913.6 L1154.8,913.2 L1155.8,913.0 L1156.8,912.7 L1157.8,912.4 L1158.8,912.2 L1159.8,912.0 L1160.0,912.0" fill="none" stroke="#16140b" stroke-width="4.4" stroke-linejoin="miter" stroke-miterlimit="4"/>
<path d="M211.2,179.7 L211.7,179.9 L212.2,180.1 L212.7,180.3 L213.2,180.6 L213.7,181.0 L214.2,181.3 L214.7,181.8 L215.2,182.2 L215.7,182.7 L216.2,183.3 L216.7,183.9 L217.2,184.5 L217.7,185.2 L218.2,186.0 L218.7,186.8 L219.2,187.6 L219.7,188.5 L220.2,189.4 L220.7,190.4 L221.2,191.4 L221.7,192.4 L222.2,193.4 L222.7,194.5 L223.2,195.6 L223.7,196.7 L224.2,197.9 L224.7,199.0 L225.2,200.2 L225.7,201.4 L226.2,202.6 L226.7,203.8 L227.2,205.0 L227.7,206.1 L228.2,207.3 L228.7,208.5 L229.2,209.7 L229.7,210.8 L230.2,211.9 L230.7,213.1 L231.2,214.2 L231.7,215.3 L232.2,216.3 L232.7,217.4 L233.2,218.5 L233.7,219.5 L234.2,220.5 L234.7,221.6 L235.2,222.6 L235.7,223.6 L236.2,224.6 L236.7,225.6 L237.2,226.6 L237.7,227.6 L238.2,228.6 L238.7,229.7 L239.2,230.7 L239.7,231.7 L240.2,232.7 L240.7,233.6 L241.2,234.6 L241.7,235.6 L242.2,236.5 L242.7,237.5 L243.2,238.4 L243.7,239.3 L244.2,240.2 L244.7,241.1 L245.2,242.0 L245.7,242.9 L246.2,243.8 L246.7,244.7 L247.2,245.6 L247.7,246.5 L248.2,247.4 L248.7,248.3 L249.2,249.2 L249.7,250.1 L250.2,251.0 L250.7,251.9 L251.2,252.8 L251.7,253.7 L252.2,254.6 L252.7,255.5 L253.2,256.4 L253.7,257.3 L254.2,258.2 L254.7,259.1 L255.2,260.0 L255.7,260.9 L256.2,261.8 L256.7,262.7 L257.2,263.6 L257.7,264.5 L258.2,265.4 L258.7,266.3 L259.2,267.2 L259.7,268.0 L260.2,268.8 L260.7,269.7 L261.2,270.5 L261.7,271.3 L262.2,272.1 L262.7,272.9 L263.2,273.7 L263.7,274.5 L264.2,275.3 L264.7,276.1 L265.2,276.9 L265.7,277.7 L266.2,278.5 L266.7,279.3 L267.2,280.1 L267.7,280.9 L268.2,281.6 L268.7,282.4 L269.2,283.1 L269.7,283.9 L270.2,284.6 L270.7,285.2 L271.2,285.9 L271.7,286.5 L272.2,287.1 L272.7,287.6 L273.2,288.2 L273.7,288.7 L274.2,289.1 L274.7,289.5 L275.2,289.9 L275.7,290.2 L276.2,290.5 L276.7,290.7 L277.2,290.9 L277.7,291.0 L278.2,291.1 L278.7,291.1 L279.2,291.0 L279.7,291.0 L280.2,290.8 L280.7,290.7 L281.2,290.5 L281.7,290.2 L282.2,290.0 L282.7,289.7 L283.2,289.4 L283.7,289.0 L284.2,288.6 L284.7,288.2 L285.2,287.8 L285.7,287.3 L286.2,286.8 L286.7,286.3 L287.2,285.8 L287.7,285.3 L288.2,284.7 L288.7,284.1 L289.2,283.5 L289.7,282.9 L290.2,282.2 L290.7,281.6 L291.2,280.9 L291.7,280.2 L292.2,279.5 L292.7,278.8 L293.2,278.0 L293.7,277.3 L294.2,276.5 L294.7,275.8 L295.2,275.0 L295.7,274.2 L296.2,273.5 L296.7,272.7 L297.2,271.9 L297.7,271.1 L298.2,270.3 L298.7,269.5 L299.2,268.7 L299.7,267.8 L300.2,267.0 L300.7,266.2 L301.2,265.4 L301.7,264.6 L302.2,263.8 L302.7,263.0 L303.2,262.2 L303.7,261.4 L304.2,260.6 L304.7,259.9 L305.2,259.1 L305.7,258.4 L306.2,257.6 L306.7,256.9 L307.2,256.1 L307.7,255.4 L308.2,254.7 L308.7,254.0 L309.2,253.4 L309.7,252.7 L310.2,252.1 L310.7,251.5 L311.2,250.9 L311.7,250.3 L312.2,249.7 L312.7,249.2 L313.2,248.7 L313.7,248.2 L314.2,247.7 L314.7,247.2 L315.2,246.8 L315.7,246.4 L316.2,246.1 L316.7,245.7 L317.2,245.4 L317.7,245.1 L318.2,244.9 L318.7,244.6 L319.2,244.4 L319.7,244.3 L320.2,244.2 L320.7,244.1 L321.2,244.0 L321.7,244.0 L322.2,244.0 L322.7,244.1 L323.2,244.2 L323.7,244.3 L324.2,244.5 L324.7,244.7 L325.2,244.9 L325.7,245.2 L326.2,245.5 L326.7,245.9 L327.2,246.3 L327.7,246.7 L328.2,247.1 L328.7,247.6 L329.2,248.1 L329.7,248.7 L330.2,249.2 L330.7,249.8 L331.2,250.4 L331.7,251.1 L332.2,251.7 L332.7,252.4 L333.2,253.1 L333.7,253.8 L334.2,254.6 L334.7,255.3 L335.2,256.1 L335.7,256.9 L336.2,257.7 L336.7,258.5 L337.2,259.4 L337.7,260.2 L338.2,261.1 L338.7,262.0 L339.2,262.8 L339.7,263.7 L340.2,264.6 L340.7,265.5 L341.2,266.4 L341.7,267.3 L342.2,268.3 L342.7,269.2 L343.2,270.1 L343.7,271.0 L344.2,271.9 L344.7,272.8 L345.2,273.7 L345.7,274.6 L346.2,275.5 L346.7,276.4 L347.2,277.3 L347.7,278.2 L348.2,279.1 L348.7,279.9 L349.2,280.8 L349.7,281.6 L350.2,282.4 L350.7,283.2 L351.2,284.0 L351.7,284.8 L352.2,285.6 L352.7,286.3 L353.2,287.0 L353.7,287.7 L354.2,288.4 L354.7,289.1 L355.2,289.7 L355.7,290.3 L356.2,290.9 L356.7,291.5 L357.2,292.0 L357.7,292.5 L358.2,293.0 L358.7,293.4 L359.2,293.8 L359.7,294.2 L360.2,294.5 L360.7,294.8 L361.2,295.1 L361.7,295.3 L362.2,295.5 L362.7,295.7 L363.2,295.8 L363.7,295.9 L364.2,295.9 L364.7,295.9 L365.2,295.9 L365.7,295.8 L366.2,295.7 L366.7,295.5 L367.2,295.3 L367.7,295.0 L368.2,294.7 L368.7,294.4 L369.2,294.1 L369.7,293.7 L370.2,293.2 L370.7,292.8 L371.2,292.3 L371.7,291.7 L372.2,291.2 L372.7,290.6 L373.2,290.0 L373.7,289.4 L374.2,288.8 L374.7,288.1 L375.2,287.5 L375.7,286.8 L376.2,286.1 L376.7,285.4 L377.2,284.6 L377.7,283.9 L378.2,283.2 L378.7,282.4 L379.2,281.7 L379.7,280.9 L380.2,280.2 L380.7,279.5 L381.2,278.7 L381.7,278.0 L382.2,277.2 L382.7,276.5 L383.2,275.8 L383.7,275.1 L384.2,274.4 L384.7,273.7 L385.2,273.1 L385.7,272.4 L386.2,271.8 L386.7,271.2 L387.2,270.6 L387.7,270.1 L388.2,269.5 L388.7,269.0 L389.2,268.6 L389.7,268.1 L390.2,267.7 L390.7,267.3 L391.2,267.0 L391.7,266.7 L392.2,266.4 L392.7,266.2 L393.2,266.0 L393.7,265.8 L394.2,265.7 L394.7,265.7 L395.2,265.7 L395.7,265.7 L396.2,265.8 L396.7,265.9 L397.2,266.0 L397.7,266.2 L398.2,266.5 L398.7,266.8 L399.2,267.1 L399.7,267.4 L400.2,267.8 L400.7,268.2 L401.2,268.7 L401.7,269.1 L402.2,269.6 L402.7,270.1 L403.2,270.7 L403.7,271.3 L404.2,271.9 L404.7,272.5 L405.2,273.1 L405.7,273.7 L406.2,274.4 L406.7,275.1 L407.2,275.8 L407.7,276.4 L408.2,277.1 L408.7,277.9 L409.2,278.6 L409.7,279.3 L410.2,280.0 L410.7,280.7 L411.2,281.4 L411.7,282.1 L412.2,282.8 L412.7,283.5 L413.2,284.2 L413.7,284.9 L414.2,285.6 L414.7,286.2 L415.2,286.9 L415.7,287.5 L416.2,288.1 L416.7,288.7 L417.2,289.2 L417.7,289.8 L418.2,290.3 L418.7,290.8 L419.2,291.2 L419.7,291.7 L420.2,292.1 L420.7,292.4 L421.2,292.8 L421.7,293.1 L422.2,293.3 L422.7,293.5 L423.2,293.7 L423.7,293.9 L424.2,293.9 L424.7,294.0 L425.2,294.0 L425.7,293.9 L426.2,293.8 L426.7,293.6 L427.2,293.4 L427.7,293.2 L428.2,292.8 L428.7,292.5 L429.2,292.1 L429.7,291.6 L430.2,291.1 L430.7,290.5 L431.2,289.9 L431.7,289.3 L432.2,288.6 L432.7,287.9 L433.2,287.1 L433.7,286.3 L434.2,285.5 L434.7,284.7 L435.2,283.8 L435.7,282.9 L436.2,281.9 L436.7,281.0 L437.2,280.0 L437.7,279.0 L438.2,278.0 L438.7,277.0 L439.2,275.9 L439.7,274.9 L440.2,273.8 L440.7,272.7 L441.2,271.7 L441.7,270.6 L442.2,269.5 L442.7,268.4 L443.2,267.3 L443.7,266.2 L444.2,265.2 L444.7,264.1 L445.2,263.0 L445.7,262.0 L446.2,260.9 L446.7,259.9 L447.2,258.9 L447.7,257.9 L448.2,256.9 L448.7,256.0 L449.2,255.0 L449.7,254.1 L450.2,253.2 L450.7,252.4 L451.2,251.5 L451.7,250.7 L452.2,250.0 L452.7,249.3 L453.2,248.6 L453.7,247.9 L454.2,247.3 L454.7,246.7 L455.2,246.2 L455.7,245.7 L456.2,245.3 L456.7,244.9 L457.2,244.6 L457.7,244.3 L458.2,244.1 L458.7,243.9 L459.2,243.8 L459.7,243.8 L460.2,243.8 L460.7,243.9 L461.2,244.0 L461.7,244.2 L462.2,244.5 L462.7,244.8 L463.2,245.2 L463.7,245.6 L464.2,246.1 L464.7,246.6 L465.2,247.2 L465.7,247.8 L466.2,248.5 L466.7,249.2 L467.2,250.0 L467.7,250.8 L468.2,251.6 L468.7,252.5 L469.2,253.4 L469.7,254.4 L470.2,255.3 L470.7,256.3 L471.2,257.4 L471.7,258.4 L472.2,259.5 L472.7,260.6 L473.2,261.7 L473.7,262.9 L474.2,264.0 L474.7,265.2 L475.2,266.4 L475.7,267.6 L476.2,268.8 L476.7,270.0 L477.2,271.2 L477.7,272.4 L478.2,273.6 L478.7,274.8 L479.2,276.0 L479.7,277.2 L480.2,278.3 L480.7,279.5 L481.2,280.7 L481.7,281.8 L482.2,282.9 L482.7,284.0 L483.2,285.1 L483.7,286.2 L484.2,287.2 L484.7,288.3 L485.2,289.3 L485.7,290.2 L486.2,291.1 L486.7,292.0 L487.2,292.9 L487.7,293.7 L488.2,294.5 L488.7,295.2 L489.2,295.9 L489.7,296.6 L490.2,297.2 L490.7,297.7 L491.2,298.2 L491.7,298.7 L492.2,299.1 L492.7,299.4 L493.2,299.7 L493.7,299.9 L494.2,300.1 L494.7,300.2 L495.2,300.2 L495.7,300.2 L496.2,300.1 L496.7,300.0 L497.2,299.8 L497.7,299.5 L498.2,299.2 L498.7,298.9 L499.2,298.5 L499.7,298.0 L500.2,297.6 L500.7,297.0 L501.2,296.4 L501.7,295.8 L502.2,295.2 L502.7,294.5 L503.2,293.8 L503.7,293.0 L504.2,292.3 L504.7,291.5 L505.2,290.6 L505.7,289.8 L506.2,288.9 L506.7,288.0 L507.2,287.1 L507.7,286.2 L508.2,285.3 L508.7,284.3 L509.2,283.4 L509.7,282.4 L510.2,281.5 L510.7,280.5 L511.2,279.5 L511.7,278.6 L512.2,277.6 L512.7,276.7 L513.2,275.7 L513.7,274.8 L514.2,273.8 L514.7,272.9 L515.2,272.0 L515.7,271.2 L516.2,270.3 L516.7,269.5 L517.2,268.7 L517.7,267.9 L518.2,267.1 L518.7,266.4 L519.2,265.7 L519.7,265.0 L520.2,264.4 L520.7,263.8 L521.2,263.3 L521.7,262.7 L522.2,262.3 L522.7,261.9 L523.2,261.5 L523.7,261.2 L524.2,260.9 L524.7,260.7 L525.2,260.5 L525.7,260.4 L526.2,260.4 L526.7,260.4 L527.2,260.4 L527.7,260.5 L528.2,260.7 L528.7,260.9 L529.2,261.2 L529.7,261.5 L530.2,261.9 L530.7,262.3 L531.2,262.8 L531.7,263.3 L532.2,263.8 L532.7,264.4 L533.2,265.0 L533.7,265.7 L534.2,266.4 L534.7,267.1 L535.2,267.8 L535.7,268.6 L536.2,269.4 L536.7,270.2 L537.2,271.1 L537.7,271.9 L538.2,272.8 L538.7,273.7 L539.2,274.6 L539.7,275.6 L540.2,276.5 L540.7,277.4 L541.2,278.4 L541.7,279.4 L542.2,280.3 L542.7,281.3 L543.2,282.2 L543.7,283.2 L544.2,284.1 L544.7,285.1 L545.2,286.0 L545.7,286.9 L546.2,287.8 L546.7,288.7 L547.2,289.6 L547.7,290.5 L548.2,291.3 L548.7,292.1 L549.2,292.9 L549.7,293.7 L550.2,294.4 L550.7,295.1 L551.2,295.8 L551.7,296.4 L552.2,297.0 L552.7,297.6 L553.2,298.1 L553.7,298.6 L554.2,299.1 L554.7,299.5 L555.2,299.8 L555.7,300.1 L556.2,300.4 L556.7,300.6 L557.2,300.7 L557.7,300.8 L558.2,300.8 L558.7,300.8 L559.2,300.8 L559.7,300.6 L560.2,300.5 L560.7,300.2 L561.2,300.0 L561.7,299.6 L562.2,299.3 L562.7,298.8 L563.2,298.4 L563.7,297.9 L564.2,297.3 L564.7,296.8 L565.2,296.2 L565.7,295.5 L566.2,294.8 L566.7,294.1 L567.2,293.4 L567.7,292.6 L568.2,291.8 L568.7,291.0 L569.2,290.2 L569.7,289.4 L570.2,288.5 L570.7,287.7 L571.2,286.8 L571.7,285.9 L572.2,285.0 L572.7,284.1 L573.2,283.2 L573.7,282.3 L574.2,281.3 L574.7,280.4 L575.2,279.5 L575.7,278.6 L576.2,277.8 L576.7,276.9 L577.2,276.0 L577.7,275.2 L578.2,274.3 L578.7,273.5 L579.2,272.7 L579.7,271.9 L580.2,271.2 L580.7,270.4 L581.2,269.7 L581.7,269.1 L582.2,268.4 L582.7,267.8 L583.2,267.2 L583.7,266.7 L584.2,266.2 L584.7,265.8 L585.2,265.4 L585.7,265.0 L586.2,264.7 L586.7,264.4 L587.2,264.2 L587.7,264.0 L588.2,263.9 L588.7,263.8 L589.2,263.7 L589.7,263.7 L590.2,263.8 L590.7,263.8 L591.2,263.9 L591.7,264.1 L592.2,264.3 L592.7,264.4 L593.2,264.7 L593.7,264.9 L594.2,265.2 L594.7,265.5 L595.2,265.8 L595.7,266.1 L596.2,266.5 L596.7,266.9 L597.2,267.2 L597.7,267.7 L598.2,268.1 L598.7,268.5 L599.2,269.0 L599.7,269.4 L600.2,269.9 L600.7,270.4 L601.2,270.9 L601.7,271.4 L602.2,271.9 L602.7,272.4 L603.2,272.9 L603.7,273.4 L604.2,274.0 L604.7,274.5 L605.2,275.0 L605.7,275.5 L606.2,276.1 L606.7,276.6 L607.2,277.1 L607.7,277.6 L608.2,278.1 L608.7,278.6 L609.2,279.1 L609.7,279.6 L610.2,280.1 L610.7,280.6 L611.2,281.0 L611.7,281.4 L612.2,281.9 L612.7,282.3 L613.2,282.7 L613.7,283.1 L614.2,283.4 L614.7,283.8 L615.2,284.1 L615.7,284.4 L616.2,284.7 L616.7,284.9 L617.2,285.2 L617.7,285.4 L618.2,285.6 L618.7,285.7 L619.2,285.8 L619.7,285.9 L620.2,286.0 L620.7,286.1 L621.2,286.1 L621.7,286.1 L622.2,286.1 L622.7,286.1 L623.2,286.0 L623.7,285.9 L624.2,285.8 L624.7,285.7 L625.2,285.6 L625.7,285.5 L626.2,285.3 L626.7,285.2 L627.2,285.0 L627.7,284.8 L628.2,284.6 L628.7,284.4 L629.2,284.2 L629.7,284.0 L630.2,283.8 L630.7,283.5 L631.2,283.3 L631.7,283.0 L632.2,282.8 L632.7,282.5 L633.2,282.3 L633.7,282.0 L634.2,281.8 L634.7,281.5 L635.2,281.2 L635.7,281.0 L636.2,280.7 L636.7,280.5 L637.2,280.2 L637.7,280.0 L638.2,279.7 L638.7,279.5 L639.2,279.2 L639.7,279.0 L640.2,278.8 L640.7,278.5 L641.2,278.3 L641.7,278.1 L642.2,277.9 L642.7,277.7 L643.2,277.6 L643.7,277.4 L644.2,277.3 L644.7,277.1 L645.2,277.0 L645.7,276.9 L646.2,276.8 L646.7,276.7 L647.2,276.6 L647.7,276.6 L648.2,276.6 L648.7,276.6 L649.2,276.6 L649.7,276.6 L650.2,276.7 L650.7,276.8 L651.2,276.9 L651.7,277.0 L652.2,277.2 L652.7,277.3 L653.2,277.5 L653.7,277.7 L654.2,278.0 L654.7,278.2 L655.2,278.5 L655.7,278.7 L656.2,279.0 L656.7,279.3 L657.2,279.6 L657.7,279.9 L658.2,280.2 L658.7,280.6 L659.2,280.9 L659.7,281.2 L660.2,281.5 L660.7,281.8 L661.2,282.2 L661.7,282.5 L662.2,282.8 L662.7,283.1 L663.2,283.4 L663.7,283.7 L664.2,283.9 L664.7,284.2 L665.2,284.4 L665.7,284.7 L666.2,284.9 L666.7,285.1 L667.2,285.2 L667.7,285.4 L668.2,285.5 L668.7,285.6 L669.2,285.7 L669.7,285.7 L670.2,285.7 L670.7,285.7 L671.2,285.7 L671.7,285.6 L672.2,285.5 L672.7,285.4 L673.2,285.2 L673.7,285.0 L674.2,284.8 L674.7,284.6 L675.2,284.3 L675.7,284.0 L676.2,283.6 L676.7,283.3 L677.2,282.9 L677.7,282.5 L678.2,282.1 L678.7,281.6 L679.2,281.1 L679.7,280.7 L680.2,280.1 L680.7,279.6 L681.2,279.1 L681.7,278.5 L682.2,278.0 L682.7,277.4 L683.2,276.8 L683.7,276.2 L684.2,275.6 L684.7,275.0 L685.2,274.4 L685.7,273.8 L686.2,273.2 L686.7,272.5 L687.2,271.9 L687.7,271.3 L688.2,270.7 L688.7,270.0 L689.2,269.4 L689.7,268.8 L690.2,268.2 L690.7,267.6 L691.2,267.0 L691.7,266.4 L692.2,265.8 L692.7,265.2 L693.2,264.7 L693.7,264.1 L694.2,263.6 L694.7,263.1 L695.2,262.5 L695.7,262.1 L696.2,261.6 L696.7,261.1 L697.2,260.7 L697.7,260.3 L698.2,259.9 L698.7,259.6 L699.2,259.2 L699.7,258.9 L700.2,258.6 L700.7,258.4 L701.2,258.2 L701.7,258.0 L702.2,257.8 L702.7,257.7 L703.2,257.6 L703.7,257.6 L704.2,257.6 L704.7,257.6 L705.2,257.7 L705.7,257.8 L706.2,258.0 L706.7,258.2 L707.2,258.4 L707.7,258.8 L708.2,259.1 L708.7,259.5 L709.2,260.0 L709.7,260.5 L710.2,261.0 L710.7,261.6 L711.2,262.2 L711.7,262.8 L712.2,263.5 L712.7,264.2 L713.2,264.9 L713.7,265.7 L714.2,266.5 L714.7,267.3 L715.2,268.1 L715.7,269.0 L716.2,269.9 L716.7,270.8 L717.2,271.7 L717.7,272.6 L718.2,273.6 L718.7,274.5 L719.2,275.5 L719.7,276.5 L720.2,277.4 L720.7,278.4 L721.2,279.4 L721.7,280.4 L722.2,281.4 L722.7,282.4 L723.2,283.4 L723.7,284.3 L724.2,285.3 L724.7,286.3 L725.2,287.2 L725.7,288.2 L726.2,289.1 L726.7,290.0 L727.2,290.9 L727.7,291.8 L728.2,292.6 L728.7,293.4 L729.2,294.2 L729.7,295.0 L730.2,295.8 L730.7,296.5 L731.2,297.2 L731.7,297.9 L732.2,298.5 L732.7,299.1 L733.2,299.6 L733.7,300.1 L734.2,300.6 L734.7,301.0 L735.2,301.4 L735.7,301.8 L736.2,302.0 L736.7,302.3 L737.2,302.5 L737.7,302.6 L738.2,302.6 L738.7,302.6 L739.2,302.6 L739.7,302.4 L740.2,302.2 L740.7,301.9 L741.2,301.6 L741.7,301.1 L742.2,300.6 L742.7,300.0 L743.2,299.3 L743.7,298.6 L744.2,297.8 L744.7,297.0 L745.2,296.1 L745.7,295.1 L746.2,294.1 L746.7,293.0 L747.2,291.8 L747.7,290.7 L748.2,289.5 L748.7,288.2 L749.2,286.9 L749.7,285.6 L750.2,284.2 L750.7,282.8 L751.2,281.4 L751.7,279.9 L752.2,278.4 L752.7,277.0 L753.2,275.5 L753.7,273.9 L754.2,272.4 L754.7,270.9 L755.2,269.3 L755.7,267.8 L756.2,266.2 L756.7,264.7 L757.2,263.2 L757.7,261.7 L758.2,260.1 L758.7,258.6 L759.2,257.2 L759.7,255.7 L760.2,254.3 L760.7,252.9 L761.2,251.5 L761.7,250.1 L762.2,248.8 L762.7,247.5 L763.2,246.3 L763.7,245.1 L764.2,244.0 L764.7,242.9 L765.2,241.8 L765.7,240.8 L766.2,239.9 L766.7,239.0 L767.2,238.2 L767.7,237.4 L768.2,236.8 L768.7,236.1 L769.2,235.6 L769.7,235.1 L770.2,234.8 L770.7,234.5 L771.2,234.3 L771.7,234.2 L772.2,234.1 L772.7,234.2 L773.2,234.4 L773.7,234.7 L774.2,235.1 L774.7,235.7 L775.2,236.3 L775.7,237.0 L776.2,237.9 L776.7,238.8 L777.2,239.8 L777.7,241.0 L778.2,242.2 L778.7,243.5 L779.2,244.8 L779.7,246.3 L780.2,247.8 L780.7,249.4 L781.2,251.1 L781.7,252.8 L782.2,254.5 L782.7,256.3 L783.2,258.2 L783.7,260.1 L784.2,262.0 L784.7,264.0 L785.2,266.0 L785.7,268.0 L786.2,270.0 L786.7,272.0 L787.2,274.1 L787.7,276.1 L788.2,278.2 L788.7,280.3 L789.2,282.3 L789.7,284.3 L790.2,286.3 L790.7,288.3 L791.2,290.3 L791.7,292.3 L792.2,294.2 L792.7,296.0 L793.2,297.9 L793.7,299.6 L794.2,301.4 L794.7,303.0 L795.2,304.7 L795.7,306.2 L796.2,307.7 L796.7,309.1 L797.2,310.4 L797.7,311.7 L798.2,312.8 L798.7,313.9 L799.2,314.9 L799.7,315.7 L800.2,316.5 L800.7,317.2 L801.2,317.8 L801.7,318.2 L802.2,318.6 L802.7,318.8 L803.2,319.0 L803.7,319.0 L804.2,318.9 L804.7,318.8 L805.2,318.6 L805.7,318.3 L806.2,317.9 L806.7,317.4 L807.2,316.8 L807.7,316.2 L808.2,315.6 L808.7,314.8 L809.2,314.0 L809.7,313.1 L810.2,312.2 L810.7,311.2 L811.2,310.2 L811.7,309.1 L812.2,308.0 L812.7,306.8 L813.2,305.6 L813.7,304.3 L814.2,303.0 L814.7,301.6 L815.2,300.2 L815.7,298.8 L816.2,297.4 L816.7,295.9 L817.2,294.3 L817.7,292.8 L818.2,291.2 L818.7,289.6 L819.2,288.0 L819.7,286.4 L820.2,284.7 L820.7,283.1 L821.2,281.4 L821.7,279.7 L822.2,278.0 L822.7,276.3 L823.2,274.6 L823.7,272.9 L824.2,271.2 L824.7,269.5 L825.2,267.8 L825.7,266.1 L826.2,264.4 L826.7,262.7 L827.2,261.1 L827.7,259.4 L828.2,257.8 L828.7,256.2 L829.2,254.6 L829.7,253.0 L830.2,251.5 L830.7,249.9 L831.2,248.4 L831.7,247.0 L832.2,245.6 L832.7,244.2 L833.2,242.8 L833.7,241.5 L834.2,240.2 L834.7,239.0 L835.2,237.8 L835.7,236.7 L836.2,235.6 L836.7,234.6 L837.2,233.6 L837.7,232.7 L838.2,231.8 L838.7,231.0 L839.2,230.2 L839.7,229.6 L840.2,229.0 L840.7,228.4 L841.2,227.9 L841.7,227.5 L842.2,227.2 L842.7,226.9 L843.2,226.7 L843.7,226.6 L844.2,226.5 L844.7,226.5 L845.2,226.6 L845.7,226.7 L846.2,226.9 L846.7,227.1 L847.2,227.4 L847.7,227.7 L848.2,228.1 L848.7,228.5 L849.2,229.0 L849.7,229.5 L850.2,230.1 L850.7,230.6 L851.2,231.3 L851.7,232.0 L852.2,232.7 L852.7,233.4 L853.2,234.2 L853.7,235.0 L854.2,235.8 L854.7,236.7 L855.2,237.6 L855.7,238.6 L856.2,239.5 L856.7,240.5 L857.2,241.5 L857.7,242.6 L858.2,243.7 L858.7,244.7 L859.2,245.8 L859.7,247.0 L860.2,248.1 L860.7,249.3 L861.2,250.5 L861.7,251.7 L862.2,252.9 L862.7,254.1 L863.2,255.3 L863.7,256.6 L864.2,257.8 L864.7,259.1 L865.2,260.4 L865.7,261.6 L866.2,262.9 L866.7,264.2 L867.2,265.5 L867.7,266.8 L868.2,268.1 L868.7,269.3 L869.2,270.6 L869.7,271.9 L870.2,273.2 L870.7,274.5 L871.2,275.7 L871.7,277.0 L872.2,278.2 L872.7,279.5 L873.2,280.7 L873.7,281.9 L874.2,283.1 L874.7,284.3 L875.2,285.4 L875.7,286.6 L876.2,287.7 L876.7,288.8 L877.2,289.9 L877.7,291.0 L878.2,292.1 L878.7,293.1 L879.2,294.1 L879.7,295.0 L880.2,296.0 L880.7,296.9 L881.2,297.8 L881.7,298.6 L882.2,299.5 L882.7,300.2 L883.2,301.0 L883.7,301.7 L884.2,302.4 L884.7,303.0 L885.2,303.6 L885.7,304.2 L886.2,304.7 L886.7,305.2 L887.2,305.6 L887.7,306.0 L888.2,306.3 L888.7,306.6 L889.2,306.9 L889.7,307.1 L890.2,307.2 L890.7,307.2 L891.2,307.2 L891.7,307.2 L892.2,307.0 L892.7,306.8 L893.2,306.5 L893.7,306.2 L894.2,305.7 L894.7,305.2 L895.2,304.6 L895.7,304.0 L896.2,303.2 L896.7,302.4 L897.2,301.5 L897.7,300.6 L898.2,299.6 L898.7,298.6 L899.2,297.4 L899.7,296.3 L900.2,295.1 L900.7,293.8 L901.2,292.5 L901.7,291.2 L902.2,289.8 L902.7,288.4 L903.2,287.0 L903.7,285.5 L904.2,284.1 L904.7,282.5 L905.2,281.0 L905.7,279.5 L906.2,277.9 L906.7,276.3 L907.2,274.8 L907.7,273.2 L908.2,271.6 L908.7,270.0 L909.2,268.5 L909.7,266.9 L910.2,265.3 L910.7,263.8 L911.2,262.3 L911.7,260.7 L912.2,259.3 L912.7,257.8 L913.2,256.4 L913.7,255.0 L914.2,253.6 L914.7,252.3 L915.2,251.0 L915.7,249.7 L916.2,248.5 L916.7,247.4 L917.2,246.2 L917.7,245.2 L918.2,244.2 L918.7,243.3 L919.2,242.4 L919.7,241.6 L920.2,240.8 L920.7,240.2 L921.2,239.6 L921.7,239.1 L922.2,238.6 L922.7,238.3 L923.2,238.0 L923.7,237.8 L924.2,237.7 L924.7,237.6 L925.2,237.7 L925.7,237.8 L926.2,237.9 L926.7,238.2 L927.2,238.5 L927.7,238.9 L928.2,239.3 L928.7,239.8 L929.2,240.3 L929.7,241.0 L930.2,241.6 L930.7,242.3 L931.2,243.1 L931.7,243.9 L932.2,244.7 L932.7,245.6 L933.2,246.5 L933.7,247.5 L934.2,248.5 L934.7,249.6 L935.2,250.6 L935.7,251.8 L936.2,252.9 L936.7,254.1 L937.2,255.3 L937.7,256.5 L938.2,257.7 L938.7,259.0 L939.2,260.3 L939.7,261.6 L940.2,262.9 L940.7,264.2 L941.2,265.6 L941.7,266.9 L942.2,268.3 L942.7,269.7 L943.2,271.1 L943.7,272.5 L944.2,273.9 L944.7,275.4 L945.2,276.9 L945.7,278.5 L946.2,280.1 L946.7,281.7 L947.2,283.4 L947.7,285.1 L948.2,286.8 L948.7,288.5 L949.2,290.1 L949.7,291.7 L950.2,293.2 L950.7,294.6 L951.2,295.9 L951.7,297.1 L952.2,298.3 L952.7,299.3 L953.2,300.2 L953.7,301.0 L954.2,301.7 L954.7,302.3 L955.2,302.7 L955.7,303.1 L956.2,303.3 L956.7,303.3 L957.2,303.2 L957.7,303.0 L958.2,302.7 L958.7,302.2 L959.2,301.7 L959.7,301.0 L960.2,300.2 L960.7,299.4 L961.2,298.4 L961.7,297.3 L962.2,296.2 L962.7,294.9 L963.2,293.5 L963.7,291.9 L964.2,290.3 L964.7,288.5 L965.2,286.7 L965.7,284.8 L966.2,282.8 L966.7,280.7 L967.2,278.7 L967.7,276.6 L968.2,274.4 L968.7,272.3 L969.2,270.1 L969.7,267.8 L970.2,265.6 L970.7,263.3 L971.2,260.9 L971.7,258.5 L972.2,256.1 L972.7,253.6 L973.2,251.2 L973.7,248.7 L974.2,246.1 L974.7,243.6 L975.2,241.1 L975.7,238.6 L976.2,236.1 L976.7,233.7 L977.2,231.3 L977.7,228.9 L978.2,226.6 L978.7,224.3 L979.2,222.1 L979.7,220.0 L980.2,218.0 L980.7,216.0 L981.2,214.0 L981.7,212.1 L982.2,210.3 L982.7,208.4 L983.2,206.7 L983.7,204.9 L984.2,203.2 L984.7,201.5 L985.2,199.9 L985.7,198.2 L986.2,196.6 L986.7,195.1 L987.2,193.6 L987.7,192.1 L988.2,190.7 L988.7,189.4 L989.2,188.0 L989.7,186.8 L990.2,185.6 L990.7,184.5 L991.2,183.5 L991.7,182.6 L992.2,181.8 L992.7,181.0 L993.2,180.3 L993.7,179.7 L994.2,179.1 L994.7,178.5 L995.2,178.1 L995.7,177.6 L996.2,177.2 L996.7,176.8 L997.2,176.4 L997.7,176.0 L998.2,175.7 L998.7,175.4 L999.2,175.1 L999.7,174.9 L1000.2,174.7 L1000.7,174.6 L1001.2,174.4 L1001.7,174.4 L1002.2,174.3 L1002.7,174.3 L1003.2,174.4 L1003.7,174.5 L1004.2,174.7 L1004.7,174.9 L1005.2,175.2 L1005.7,175.6 L1006.2,176.0 L1006.7,176.4 L1007.2,176.9 L1007.7,177.4 L1008.2,177.9 L1008.7,178.5 L1009.2,179.0 L1009.7,179.6 L1010.2,180.2 L1010.7,180.8 L1011.2,181.4 L1011.7,182.0 L1012.2,182.6 L1012.7,183.2 L1013.2,183.8 L1013.7,184.5 L1014.2,185.1 L1014.7,185.7 L1015.2,186.4 L1015.7,187.0 L1016.2,187.7 L1016.7,188.4 L1017.2,189.1 L1017.7,189.8 L1018.2,190.6 L1018.7,191.4 L1019.2,192.1 L1019.7,192.9 L1020.2,193.7 L1020.7,194.6 L1021.2,195.4 L1021.7,196.2 L1022.2,197.1 L1022.7,197.9 L1023.2,198.8 L1023.7,199.7 L1024.2,200.5 L1024.7,201.4 L1025.2,202.3 L1025.7,203.2 L1026.2,204.0 L1026.7,204.9 L1027.2,205.8 L1027.7,206.6 L1028.2,207.5 L1028.7,208.3 L1029.2,209.2 L1029.7,210.0 L1030.2,210.8 L1030.7,211.7 L1031.2,212.5 L1031.7,213.2 L1032.2,214.0 L1032.7,214.8 L1033.2,215.5 L1033.7,216.2 L1034.2,216.9 L1034.7,217.6 L1035.2,218.2 L1035.7,218.9 L1036.2,219.5 L1036.7,220.1 L1037.2,220.6 L1037.7,221.1 L1038.2,221.6 L1038.7,222.1 L1039.2,222.5 L1039.7,223.0 L1040.2,223.3 L1040.7,223.7 L1041.2,224.0 L1041.7,224.2 L1042.2,224.4 L1042.7,224.6 L1043.2,224.8 L1043.7,224.9 L1044.2,225.0 L1044.7,225.0 L1045.2,225.0 L1045.7,225.0 L1046.2,225.0 L1046.7,224.9 L1047.2,224.8 L1047.7,224.7 L1048.2,224.5 L1048.7,224.3 L1049.2,224.1 L1049.7,223.9 L1050.2,223.7 L1050.7,223.5 L1051.2,223.2 L1051.7,222.9 L1052.2,222.6 L1052.7,222.3 L1053.2,222.0 L1053.7,221.6 L1054.2,221.3 L1054.7,220.9 L1055.2,220.6 L1055.7,220.2 L1056.2,219.8 L1056.7,219.4 L1057.2,219.0 L1057.7,218.6 L1058.2,218.2 L1058.7,217.8 L1059.2,217.4 L1059.7,216.9 L1060.2,216.5 L1060.7,216.1 L1061.2,215.7 L1061.7,215.3 L1062.2,214.9 L1062.7,214.4 L1063.2,214.0 L1063.7,213.6 L1064.2,213.2 L1064.7,212.8 L1065.2,212.5 L1065.7,212.1 L1066.2,211.7 L1066.7,211.4 L1067.2,211.0 L1067.7,210.7 L1068.2,210.3 L1068.7,210.0 L1069.2,209.7 L1069.7,209.3 L1070.2,209.0 L1070.7,208.7 L1071.2,208.4 L1071.7,208.1 L1072.2,207.8 L1072.7,207.5 L1073.2,207.2 L1073.7,206.9 L1074.2,206.6 L1074.7,206.3 L1075.2,206.0 L1075.7,205.7 L1076.2,205.4 L1076.7,205.1 L1077.2,204.8 L1077.7,204.5 L1078.2,204.2 L1078.7,203.9 L1079.2,203.6 L1079.7,203.3 L1080.2,203.0 L1080.7,202.7 L1081.2,202.4 L1081.7,202.1 L1082.2,201.8 L1082.7,201.5 L1083.2,201.1 L1083.7,200.8 L1084.2,200.5 L1084.7,200.1 L1085.2,199.8 L1085.7,199.5 L1086.2,199.1 L1086.7,198.8 L1087.2,198.4 L1087.7,198.0 L1088.2,197.7 L1088.7,197.3 L1089.2,196.9 L1089.7,196.5 L1090.2,196.1 L1090.7,195.7 L1091.2,195.3 L1091.7,194.9 L1092.2,194.4 L1092.7,194.0 L1093.2,193.5 L1093.7,193.1 L1094.2,192.6 L1094.7,192.1 L1095.2,191.6 L1095.7,191.1 L1096.2,190.6 L1096.7,190.1 L1097.2,189.6 L1097.7,189.0 L1098.2,188.5 L1098.7,187.9 L1099.2,187.3 L1099.7,186.7 L1100.2,186.1 L1100.7,185.5 L1101.2,184.9 L1101.7,184.3 L1102.2,183.6 L1102.7,183.0 L1103.2,182.3 L1103.7,181.7 L1104.2,181.0 L1104.7,180.3 L1105.2,179.6 L1105.7,178.9 L1106.2,178.2 L1106.7,177.4 L1107.2,176.7 L1107.7,175.9 L1108.2,175.1 L1108.7,174.3 L1109.2,173.4 L1109.7,172.6 L1110.2,171.7 L1110.7,170.8 L1111.2,169.9 L1111.7,169.0 L1112.2,168.0 L1112.7,167.1 L1113.2,166.1 L1113.7,165.1 L1114.2,164.1 L1114.7,163.0 L1115.2,162.0 L1115.7,161.0 L1116.2,159.9 L1116.7,158.8 L1117.2,157.8 L1117.7,156.7 L1118.2,155.6 L1118.7,154.5 L1119.2,153.4 L1119.7,152.3 L1120.2,151.2 L1120.7,150.1 L1121.2,148.9 L1121.7,147.8 L1122.2,146.7 L1122.7,145.5 L1123.2,144.4 L1123.7,143.2 L1124.2,142.0 L1124.7,140.8 L1125.2,139.6 L1125.7,138.4 L1126.2,137.2 L1126.7,135.9 L1127.2,134.7 L1127.7,133.4 L1128.2,132.1 L1128.7,130.9 L1129.2,129.6 L1129.7,128.4 L1130.2,127.1 L1130.7,125.9 L1131.2,124.6 L1131.7,123.4 L1132.2,122.2 L1132.7,121.0 L1133.2,119.8 L1133.7,118.6 L1134.2,117.5 L1134.7,116.3 L1135.2,115.2 L1135.7,114.1 L1136.2,113.0 L1136.7,112.0 L1137.2,110.9 L1137.7,109.8 L1138.2,108.8 L1138.7,107.8 L1139.2,106.8 L1139.7,105.8 L1140.2,104.8 L1140.7,103.8 L1141.2,102.8 L1141.7,101.8 L1142.2,100.8 L1142.7,99.9 L1143.2,98.9 L1143.7,98.0 L1144.2,97.0 L1144.7,96.1 L1145.2,95.2 L1145.7,94.3 L1146.2,93.4 L1146.7,92.5 L1147.2,91.6 L1147.7,90.7 L1148.2,89.8 L1148.7,88.9 L1149.2,88.0 L1149.7,87.1 L1150.2,86.2 L1150.7,85.3 L1151.2,84.4 L1151.7,83.5 L1152.2,82.6 L1152.7,81.7 L1153.2,80.7 L1153.7,79.8 L1154.2,78.9 L1154.7,78.0 L1155.2,77.0 L1155.7,76.1 L1156.2,75.2 L1156.7,74.3 L1157.2,73.4 L1157.7,72.6 L1158.2,71.8 L1158.7,71.2 L1159.2,70.6 L1159.6,70.0" fill="none" stroke="#16140b" stroke-width="4.5" stroke-linejoin="round"/>
<g transform="matrix(0.9892 0 0 0.9889 149.12 28.66)"><text style="font-family:&quot;Liberation Serif&quot;,serif" font-size="40" fill="#111">3.0</text></g><g transform="matrix(1.0011 0 0 0.9889 148.55 198.36)"><text style="font-family:&quot;Liberation Serif&quot;,serif" font-size="40" fill="#111">2.0</text></g><g transform="matrix(0.9511 0 0 0.9852 150.97 367.51)"><text style="font-family:&quot;Liberation Serif&quot;,serif" font-size="40" fill="#111">1.0</text></g><g transform="matrix(0.9489 0 0 0.9963 151.08 556.20)"><text style="font-family:&quot;Liberation Serif&quot;,serif" font-size="40" fill="#111">1.0</text></g><g transform="matrix(0.9383 0 0 0.9889 151.59 744.61)"><text style="font-family:&quot;Liberation Serif&quot;,serif" font-size="40" fill="#111">0.5</text></g><g transform="matrix(0.9383 0 0 0.9889 151.59 932.91)"><text style="font-family:&quot;Liberation Serif&quot;,serif" font-size="40" fill="#111">0.0</text></g><g transform="matrix(1.0059 0 0 0.9944 201.19 1109.95)"><text style="font-family:&quot;Liberation Serif&quot;,serif" font-size="40" fill="#111">0</text></g><g transform="matrix(0.9217 0 0 0.9926 425.42 1109.90)"><text style="font-family:&quot;Liberation Serif&quot;,serif" font-size="40" fill="#111">0.1</text></g><g transform="matrix(0.9730 0 0 0.9852 661.44 1109.71)"><text style="font-family:&quot;Liberation Serif&quot;,serif" font-size="40" fill="#111">0.2</text></g><g transform="matrix(0.9447 0 0 1.0000 899.28 1109.90)"><text style="font-family:&quot;Liberation Serif&quot;,serif" font-size="40" fill="#111">0.3</text></g><g transform="matrix(0.9298 0 0 1.0000 1136.61 1109.90)"><text style="font-family:&quot;Liberation Serif&quot;,serif" font-size="40" fill="#111">0.4</text></g><g transform="matrix(0.9605 0 0 0.9600 646.22 1149.34)"><text style="font-family:&quot;Liberation Serif&quot;,serif" font-size="40" fill="#111"><tspan font-style="italic">t</tspan> (ps)</text></g><g transform="matrix(1.0157 0 0 1.0136 29.58 57.60)"><text style="font-family:&quot;Liberation Sans&quot;,sans-serif" font-weight="bold" font-size="43" fill="#000">A</text></g><g transform="matrix(0.9731 0 0 1.0136 27.18 426.30)"><text style="font-family:&quot;Liberation Sans&quot;,sans-serif" font-weight="bold" font-size="43" fill="#000">B</text></g><g transform="matrix(0.9214 0 0 0.9508 28.69 1199.92)"><text style="font-family:&quot;Liberation Sans&quot;,sans-serif" font-weight="bold" font-size="43" fill="#000">C</text></g>
<text style="font-family:&quot;Liberation Serif&quot;,serif" font-size="39.5" fill="#111" transform="translate(116.6,185) rotate(-90)" text-anchor="middle"><tspan font-style="italic">d</tspan><tspan font-size="27" dy="14">ij</tspan><tspan dy="-14"> (</tspan><tspan font-style="italic">t</tspan>)</text>
<text style="font-family:&quot;Liberation Serif&quot;,serif" font-size="39.5" fill="#111" transform="translate(116.6,731) rotate(-90)" text-anchor="middle"><tspan font-style="italic">O</tspan><tspan font-size="27" dy="14">ij</tspan><tspan dy="-14"> (t)</tspan></text>
<g clip-path="url(#cp0)">
<circle cx="25.8" cy="1226" r="15.5" fill="#fff"/><g opacity="0.12"><circle cx="25.8" cy="1226" r="15.5" fill="url(#dRose)"/><circle cx="29.7" cy="1217.9" r="4.2" fill="url(#spec)" opacity="0.95"/><circle cx="24.6" cy="1225.7" r="3.7" fill="url(#spec)" opacity="0.81"/><circle cx="25.8" cy="1226" r="15.5" fill="url(#rim)"/></g>
<circle cx="207" cy="1246" r="20" fill="#fff"/><g opacity="0.03"><circle cx="207" cy="1246" r="20" fill="url(#dRose)"/><circle cx="212.0" cy="1235.6" r="5.4" fill="url(#spec)" opacity="0.95"/><circle cx="205.4" cy="1245.6" r="4.8" fill="url(#spec)" opacity="0.81"/><circle cx="207" cy="1246" r="20" fill="url(#rim)"/></g>
<circle cx="189.5" cy="1226.6" r="20.4" fill="#fff"/><g opacity="0.35"><circle cx="189.5" cy="1226.6" r="20.4" fill="url(#dRose)"/><circle cx="194.6" cy="1216.0" r="5.5" fill="url(#spec)" opacity="0.95"/><circle cx="187.9" cy="1226.2" r="4.9" fill="url(#spec)" opacity="0.81"/><circle cx="189.5" cy="1226.6" r="20.4" fill="url(#rim)"/></g>
<circle cx="62.6" cy="1237.8" r="20.7" fill="#fff"/><g opacity="0.42"><circle cx="62.6" cy="1237.8" r="20.7" fill="url(#dRose)"/><circle cx="67.8" cy="1227.0" r="5.6" fill="url(#spec)" opacity="0.95"/><circle cx="60.9" cy="1237.4" r="5.0" fill="url(#spec)" opacity="0.81"/><circle cx="62.6" cy="1237.8" r="20.7" fill="url(#rim)"/></g>
<circle cx="235.7" cy="1252.5" r="20.6" fill="#fff"/><g opacity="0.8"><circle cx="235.7" cy="1252.5" r="20.6" fill="url(#dRose)"/><circle cx="240.8" cy="1241.8" r="5.6" fill="url(#spec)" opacity="0.95"/><circle cx="234.1" cy="1252.1" r="4.9" fill="url(#spec)" opacity="0.81"/><circle cx="235.7" cy="1252.5" r="20.6" fill="url(#rim)"/></g>
<circle cx="272.5" cy="1268.8" r="17" fill="#fff"/><g opacity="0.45"><circle cx="272.5" cy="1268.8" r="17" fill="url(#dTeal)"/><circle cx="276.8" cy="1260.0" r="4.6" fill="url(#spec)" opacity="0.6"/><circle cx="271.1" cy="1268.5" r="4.1" fill="url(#spec)" opacity="0.51"/><circle cx="272.5" cy="1268.8" r="17" fill="url(#rim)"/></g>
<circle cx="131" cy="1282" r="15" fill="#fff"/><g opacity="0.25"><circle cx="131" cy="1282" r="15" fill="url(#dTeal)"/><circle cx="134.8" cy="1274.2" r="4.1" fill="url(#spec)" opacity="0.6"/><circle cx="129.8" cy="1281.7" r="3.6" fill="url(#spec)" opacity="0.51"/><circle cx="131" cy="1282" r="15" fill="url(#rim)"/></g>
<circle cx="136.6" cy="1303" r="20.3" fill="#fff"/><g opacity="0.6"><circle cx="136.6" cy="1303" r="20.3" fill="url(#dRose)"/><circle cx="141.7" cy="1292.4" r="5.5" fill="url(#spec)" opacity="0.95"/><circle cx="135.0" cy="1302.6" r="4.9" fill="url(#spec)" opacity="0.81"/><circle cx="136.6" cy="1303" r="20.3" fill="url(#rim)"/></g>
<circle cx="142.8" cy="1268.5" r="20.5" fill="#fff"/><g opacity="0.92"><circle cx="142.8" cy="1268.5" r="20.5" fill="url(#dBlack)"/><circle cx="142.8" cy="1268.5" r="20.5" fill="url(#rim)"/></g>
<circle cx="279.9" cy="1317.6" r="20.6" fill="#fff"/><g opacity="0.12"><circle cx="279.9" cy="1317.6" r="20.6" fill="url(#dRose)"/><circle cx="285.0" cy="1306.9" r="5.6" fill="url(#spec)" opacity="0.95"/><circle cx="278.3" cy="1317.2" r="4.9" fill="url(#spec)" opacity="0.81"/><circle cx="279.9" cy="1317.6" r="20.6" fill="url(#rim)"/></g>
<circle cx="60.9" cy="1327.4" r="20" fill="#fff"/><g opacity="0.1"><circle cx="60.9" cy="1327.4" r="20" fill="url(#dRose)"/><circle cx="65.9" cy="1317.0" r="5.4" fill="url(#spec)" opacity="0.95"/><circle cx="59.3" cy="1327.0" r="4.8" fill="url(#spec)" opacity="0.81"/><circle cx="60.9" cy="1327.4" r="20" fill="url(#rim)"/></g>
<circle cx="49.4" cy="1334.2" r="17" fill="#fff"/><g opacity="0.55"><circle cx="49.4" cy="1334.2" r="17" fill="url(#dTeal)"/><circle cx="53.6" cy="1325.4" r="4.6" fill="url(#spec)" opacity="0.6"/><circle cx="48.0" cy="1333.9" r="4.1" fill="url(#spec)" opacity="0.51"/><circle cx="49.4" cy="1334.2" r="17" fill="url(#rim)"/></g>
<circle cx="43.4" cy="1350" r="20.8" fill="#fff"/><g opacity="0.9"><circle cx="43.4" cy="1350" r="20.8" fill="url(#dRose)"/><circle cx="48.6" cy="1339.2" r="5.6" fill="url(#spec)" opacity="0.95"/><circle cx="41.7" cy="1349.6" r="5.0" fill="url(#spec)" opacity="0.81"/><circle cx="43.4" cy="1350" r="20.8" fill="url(#rim)"/></g>
<circle cx="158.3" cy="1353" r="20.3" fill="#fff"/><g opacity="0.06"><circle cx="158.3" cy="1353" r="20.3" fill="url(#dRose)"/><circle cx="163.4" cy="1342.4" r="5.5" fill="url(#spec)" opacity="0.95"/><circle cx="156.7" cy="1352.6" r="4.9" fill="url(#spec)" opacity="0.81"/><circle cx="158.3" cy="1353" r="20.3" fill="url(#rim)"/></g>
<circle cx="224.5" cy="1360.5" r="20.5" fill="#fff"/><g opacity="0.45"><circle cx="224.5" cy="1360.5" r="20.5" fill="url(#dRose)"/><circle cx="229.6" cy="1349.8" r="5.5" fill="url(#spec)" opacity="0.95"/><circle cx="222.9" cy="1360.1" r="4.9" fill="url(#spec)" opacity="0.81"/><circle cx="224.5" cy="1360.5" r="20.5" fill="url(#rim)"/></g>
<circle cx="222" cy="1336.5" r="17.4" fill="url(#dTeal)"/><circle cx="226.3" cy="1327.5" r="4.7" fill="url(#spec)" opacity="0.6"/><circle cx="220.6" cy="1336.2" r="4.2" fill="url(#spec)" opacity="0.51"/><circle cx="222" cy="1336.5" r="17.4" fill="url(#rim)"/>
<circle cx="126.9" cy="1367.6" r="17.3" fill="url(#dTeal)"/><circle cx="131.2" cy="1358.6" r="4.7" fill="url(#spec)" opacity="0.6"/><circle cx="125.5" cy="1367.3" r="4.2" fill="url(#spec)" opacity="0.51"/><circle cx="126.9" cy="1367.6" r="17.3" fill="url(#rim)"/>
<circle cx="-4.4" cy="1419.7" r="20.5" fill="#fff"/><g opacity="0.45"><circle cx="-4.4" cy="1419.7" r="20.5" fill="url(#dRose)"/><circle cx="0.7" cy="1409.0" r="5.5" fill="url(#spec)" opacity="0.95"/><circle cx="-6.0" cy="1419.3" r="4.9" fill="url(#spec)" opacity="0.81"/><circle cx="-4.4" cy="1419.7" r="20.5" fill="url(#rim)"/></g>
<circle cx="85.9" cy="1438.3" r="20.5" fill="#fff"/><g opacity="0.3"><circle cx="85.9" cy="1438.3" r="20.5" fill="url(#dRose)"/><circle cx="91.0" cy="1427.6" r="5.5" fill="url(#spec)" opacity="0.95"/><circle cx="84.3" cy="1437.9" r="4.9" fill="url(#spec)" opacity="0.81"/><circle cx="85.9" cy="1438.3" r="20.5" fill="url(#rim)"/></g>
<circle cx="83.3" cy="1420.9" r="20.7" fill="#fff"/><g opacity="0.7"><circle cx="83.3" cy="1420.9" r="20.7" fill="url(#dRose)"/><circle cx="88.5" cy="1410.1" r="5.6" fill="url(#spec)" opacity="0.95"/><circle cx="81.6" cy="1420.5" r="5.0" fill="url(#spec)" opacity="0.81"/><circle cx="83.3" cy="1420.9" r="20.7" fill="url(#rim)"/></g>
<circle cx="232.9" cy="1426.4" r="19.5" fill="#fff"/><g opacity="0.05"><circle cx="232.9" cy="1426.4" r="19.5" fill="url(#dRose)"/><circle cx="237.8" cy="1416.3" r="5.3" fill="url(#spec)" opacity="0.95"/><circle cx="231.3" cy="1426.0" r="4.7" fill="url(#spec)" opacity="0.81"/><circle cx="232.9" cy="1426.4" r="19.5" fill="url(#rim)"/></g>
<circle cx="292" cy="1428" r="20" fill="#fff"/><g opacity="0.4"><circle cx="292" cy="1428" r="20" fill="url(#dRose)"/><circle cx="297.0" cy="1417.6" r="5.4" fill="url(#spec)" opacity="0.95"/><circle cx="290.4" cy="1427.6" r="4.8" fill="url(#spec)" opacity="0.81"/><circle cx="292" cy="1428" r="20" fill="url(#rim)"/></g>
<circle cx="268" cy="1431.2" r="20.4" fill="#fff"/><g opacity="0.8"><circle cx="268" cy="1431.2" r="20.4" fill="url(#dRose)"/><circle cx="273.1" cy="1420.6" r="5.5" fill="url(#spec)" opacity="0.95"/><circle cx="266.4" cy="1430.8" r="4.9" fill="url(#spec)" opacity="0.81"/><circle cx="268" cy="1431.2" r="20.4" fill="url(#rim)"/></g>
<circle cx="175" cy="1440.4" r="20.8" fill="#fff"/><g opacity="0.45"><circle cx="175" cy="1440.4" r="20.8" fill="url(#dRose)"/><circle cx="180.2" cy="1429.6" r="5.6" fill="url(#spec)" opacity="0.95"/><circle cx="173.3" cy="1440.0" r="5.0" fill="url(#spec)" opacity="0.81"/><circle cx="175" cy="1440.4" r="20.8" fill="url(#rim)"/></g>
<circle cx="176.8" cy="1455.8" r="20.8" fill="url(#dRing)"/><circle cx="182.0" cy="1445.0" r="5.6" fill="url(#spec)" opacity="0.8"/><circle cx="175.1" cy="1455.4" r="5.0" fill="url(#spec)" opacity="0.68"/><circle cx="176.8" cy="1456.1" r="13.0" fill="#241c1c"/><circle cx="176.8" cy="1455.8" r="20.8" fill="url(#rim)"/>
<circle cx="146" cy="1482" r="20" fill="#fff"/><g opacity="0.025"><circle cx="146" cy="1482" r="20" fill="url(#dRose)"/><circle cx="151.0" cy="1471.6" r="5.4" fill="url(#spec)" opacity="0.95"/><circle cx="144.4" cy="1481.6" r="4.8" fill="url(#spec)" opacity="0.81"/><circle cx="146" cy="1482" r="20" fill="url(#rim)"/></g>
<circle cx="23.4" cy="1512.1" r="20" fill="#fff"/><g opacity="0.5"><circle cx="23.4" cy="1512.1" r="20" fill="url(#dRose)"/><circle cx="28.4" cy="1501.7" r="5.4" fill="url(#spec)" opacity="0.95"/><circle cx="21.8" cy="1511.7" r="4.8" fill="url(#spec)" opacity="0.81"/><circle cx="23.4" cy="1512.1" r="20" fill="url(#rim)"/></g>
<circle cx="79.5" cy="1494.7" r="15.8" fill="url(#dRed)"/><circle cx="83.5" cy="1486.5" r="4.3" fill="url(#spec)" opacity="0.6"/><circle cx="78.2" cy="1494.4" r="3.8" fill="url(#spec)" opacity="0.51"/><circle cx="79.5" cy="1494.7" r="15.8" fill="url(#rim)"/>
</g>
<rect x="3.7" y="1227.0" width="285.5" height="270.4000000000001" fill="none" stroke="#1c1b14" stroke-width="1.9"/>
<g clip-path="url(#cp1)">
<circle cx="532.5" cy="1216.9" r="20" fill="#fff"/><g opacity="0.9"><circle cx="532.5" cy="1216.9" r="20" fill="url(#dRose)"/><circle cx="537.5" cy="1206.5" r="5.4" fill="url(#spec)" opacity="0.95"/><circle cx="530.9" cy="1216.5" r="4.8" fill="url(#spec)" opacity="0.81"/><circle cx="532.5" cy="1216.9" r="20" fill="url(#rim)"/></g>
<circle cx="550.7" cy="1235.9" r="20.5" fill="#fff"/><g opacity="0.2"><circle cx="550.7" cy="1235.9" r="20.5" fill="url(#dRose)"/><circle cx="555.8" cy="1225.2" r="5.5" fill="url(#spec)" opacity="0.95"/><circle cx="549.1" cy="1235.5" r="4.9" fill="url(#spec)" opacity="0.81"/><circle cx="550.7" cy="1235.9" r="20.5" fill="url(#rim)"/></g>
<circle cx="349.7" cy="1270.3" r="20" fill="#fff"/><g opacity="0.38"><circle cx="349.7" cy="1270.3" r="20" fill="url(#dRose)"/><circle cx="354.7" cy="1259.9" r="5.4" fill="url(#spec)" opacity="0.95"/><circle cx="348.1" cy="1269.9" r="4.8" fill="url(#spec)" opacity="0.81"/><circle cx="349.7" cy="1270.3" r="20" fill="url(#rim)"/></g>
<circle cx="466.8" cy="1295.4" r="20.3" fill="#fff"/><g opacity="0.45"><circle cx="466.8" cy="1295.4" r="20.3" fill="url(#dRose)"/><circle cx="471.9" cy="1284.8" r="5.5" fill="url(#spec)" opacity="0.95"/><circle cx="465.2" cy="1295.0" r="4.9" fill="url(#spec)" opacity="0.81"/><circle cx="466.8" cy="1295.4" r="20.3" fill="url(#rim)"/></g>
<circle cx="495" cy="1278" r="16.5" fill="#fff"/><g opacity="0.35"><circle cx="495" cy="1278" r="16.5" fill="url(#dTeal)"/><circle cx="499.1" cy="1269.4" r="4.5" fill="url(#spec)" opacity="0.6"/><circle cx="493.7" cy="1277.7" r="4.0" fill="url(#spec)" opacity="0.51"/><circle cx="495" cy="1278" r="16.5" fill="url(#rim)"/></g>
<circle cx="480.7" cy="1293" r="20.6" fill="url(#dBlack)"/><circle cx="480.7" cy="1293" r="20.6" fill="url(#rim)"/>
<circle cx="605.5" cy="1255.8" r="17.3" fill="#fff"/><g opacity="0.7"><circle cx="605.5" cy="1255.8" r="17.3" fill="url(#dTeal)"/><circle cx="609.8" cy="1246.8" r="4.7" fill="url(#spec)" opacity="0.6"/><circle cx="604.1" cy="1255.5" r="4.2" fill="url(#spec)" opacity="0.51"/><circle cx="605.5" cy="1255.8" r="17.3" fill="url(#rim)"/></g>
<circle cx="377.8" cy="1313.5" r="20.5" fill="#fff"/><g opacity="0.88"><circle cx="377.8" cy="1313.5" r="20.5" fill="url(#dRose)"/><circle cx="382.9" cy="1302.8" r="5.5" fill="url(#spec)" opacity="0.95"/><circle cx="376.2" cy="1313.1" r="4.9" fill="url(#spec)" opacity="0.81"/><circle cx="377.8" cy="1313.5" r="20.5" fill="url(#rim)"/></g>
<circle cx="433.2" cy="1335.7" r="20.5" fill="#fff"/><g opacity="0.22"><circle cx="433.2" cy="1335.7" r="20.5" fill="url(#dRose)"/><circle cx="438.3" cy="1325.0" r="5.5" fill="url(#spec)" opacity="0.95"/><circle cx="431.6" cy="1335.3" r="4.9" fill="url(#spec)" opacity="0.81"/><circle cx="433.2" cy="1335.7" r="20.5" fill="url(#rim)"/></g>
<circle cx="632" cy="1326" r="20.3" fill="#fff"/><g opacity="0.12"><circle cx="632" cy="1326" r="20.3" fill="url(#dRose)"/><circle cx="637.1" cy="1315.4" r="5.5" fill="url(#spec)" opacity="0.95"/><circle cx="630.4" cy="1325.6" r="4.9" fill="url(#spec)" opacity="0.81"/><circle cx="632" cy="1326" r="20.3" fill="url(#rim)"/></g>
<circle cx="585.3" cy="1311.2" r="20.6" fill="#fff"/><g opacity="0.9"><circle cx="585.3" cy="1311.2" r="20.6" fill="url(#dRose)"/><circle cx="590.4" cy="1300.5" r="5.6" fill="url(#spec)" opacity="0.95"/><circle cx="583.7" cy="1310.8" r="4.9" fill="url(#spec)" opacity="0.81"/><circle cx="585.3" cy="1311.2" r="20.6" fill="url(#rim)"/></g>
<circle cx="550.7" cy="1339.4" r="20.5" fill="#fff"/><g opacity="0.4"><circle cx="550.7" cy="1339.4" r="20.5" fill="url(#dRose)"/><circle cx="555.8" cy="1328.7" r="5.5" fill="url(#spec)" opacity="0.95"/><circle cx="549.1" cy="1339.0" r="4.9" fill="url(#spec)" opacity="0.81"/><circle cx="550.7" cy="1339.4" r="20.5" fill="url(#rim)"/></g>
<circle cx="344.4" cy="1371.4" r="20" fill="#fff"/><g opacity="0.3"><circle cx="344.4" cy="1371.4" r="20" fill="url(#dRose)"/><circle cx="349.4" cy="1361.0" r="5.4" fill="url(#spec)" opacity="0.95"/><circle cx="342.8" cy="1371.0" r="4.8" fill="url(#spec)" opacity="0.81"/><circle cx="344.4" cy="1371.4" r="20" fill="url(#rim)"/></g>
<circle cx="339" cy="1385" r="20" fill="#fff"/><g opacity="0.5"><circle cx="339" cy="1385" r="20" fill="url(#dRose)"/><circle cx="344.0" cy="1374.6" r="5.4" fill="url(#spec)" opacity="0.95"/><circle cx="337.4" cy="1384.6" r="4.8" fill="url(#spec)" opacity="0.81"/><circle cx="339" cy="1385" r="20" fill="url(#rim)"/></g>
<circle cx="440.5" cy="1414.3" r="17.6" fill="#fff"/><g opacity="0.55"><circle cx="440.5" cy="1414.3" r="17.6" fill="url(#dTeal)"/><circle cx="444.9" cy="1405.1" r="4.8" fill="url(#spec)" opacity="0.6"/><circle cx="439.1" cy="1413.9" r="4.2" fill="url(#spec)" opacity="0.51"/><circle cx="440.5" cy="1414.3" r="17.6" fill="url(#rim)"/></g>
<line x1="439.7" y1="1410.9" x2="499.6" y2="1364.2" stroke="#35585a" stroke-width="10" stroke-linecap="round"/><line x1="439.7" y1="1410.9" x2="499.6" y2="1364.2" stroke="#6ea8ab" stroke-width="7.6" stroke-linecap="round"/><line x1="440.4" y1="1410.0" x2="500.3" y2="1363.3" stroke="#a8d6d8" stroke-width="2.8" stroke-linecap="round"/>
<circle cx="499.6" cy="1364.2" r="17.3" fill="url(#dTeal)"/><circle cx="503.9" cy="1355.2" r="4.7" fill="url(#spec)" opacity="0.6"/><circle cx="498.2" cy="1363.9" r="4.2" fill="url(#spec)" opacity="0.51"/><circle cx="499.6" cy="1364.2" r="17.3" fill="url(#rim)"/>
<circle cx="439.9" cy="1410.9" r="17.5" fill="#fff"/><g opacity="0.88"><circle cx="439.9" cy="1410.9" r="17.5" fill="url(#dTeal)"/><circle cx="444.3" cy="1401.8" r="4.7" fill="url(#spec)" opacity="0.6"/><circle cx="438.5" cy="1410.6" r="4.2" fill="url(#spec)" opacity="0.51"/><circle cx="439.9" cy="1410.9" r="17.5" fill="url(#rim)"/></g>
<circle cx="589.9" cy="1410" r="20.6" fill="#fff"/><g opacity="0.85"><circle cx="589.9" cy="1410" r="20.6" fill="url(#dRose)"/><circle cx="595.0" cy="1399.3" r="5.6" fill="url(#spec)" opacity="0.95"/><circle cx="588.3" cy="1409.6" r="4.9" fill="url(#spec)" opacity="0.81"/><circle cx="589.9" cy="1410" r="20.6" fill="url(#rim)"/></g>
<circle cx="652" cy="1412" r="20" fill="#fff"/><g opacity="0.35"><circle cx="652" cy="1412" r="20" fill="url(#dRose)"/><circle cx="657.0" cy="1401.6" r="5.4" fill="url(#spec)" opacity="0.95"/><circle cx="650.4" cy="1411.6" r="4.8" fill="url(#spec)" opacity="0.81"/><circle cx="652" cy="1412" r="20" fill="url(#rim)"/></g>
<circle cx="397.9" cy="1448.9" r="20.3" fill="#fff"/><g opacity="0.1"><circle cx="397.9" cy="1448.9" r="20.3" fill="url(#dRose)"/><circle cx="403.0" cy="1438.3" r="5.5" fill="url(#spec)" opacity="0.95"/><circle cx="396.3" cy="1448.5" r="4.9" fill="url(#spec)" opacity="0.81"/><circle cx="397.9" cy="1448.9" r="20.3" fill="url(#rim)"/></g>
<circle cx="541.4" cy="1432" r="20.5" fill="#fff"/><g opacity="0.4"><circle cx="541.4" cy="1432" r="20.5" fill="url(#dRose)"/><circle cx="546.5" cy="1421.3" r="5.5" fill="url(#spec)" opacity="0.95"/><circle cx="539.8" cy="1431.6" r="4.9" fill="url(#spec)" opacity="0.81"/><circle cx="541.4" cy="1432" r="20.5" fill="url(#rim)"/></g>
<circle cx="390.5" cy="1477.7" r="20.5" fill="#fff"/><g opacity="0.6"><circle cx="390.5" cy="1477.7" r="20.5" fill="url(#dRose)"/><circle cx="395.6" cy="1467.0" r="5.5" fill="url(#spec)" opacity="0.95"/><circle cx="388.9" cy="1477.3" r="4.9" fill="url(#spec)" opacity="0.81"/><circle cx="390.5" cy="1477.7" r="20.5" fill="url(#rim)"/></g>
<circle cx="517" cy="1477.8" r="20.6" fill="#fff"/><g opacity="0.9"><circle cx="517" cy="1477.8" r="20.6" fill="url(#dRose)"/><circle cx="522.1" cy="1467.1" r="5.6" fill="url(#spec)" opacity="0.95"/><circle cx="515.4" cy="1477.4" r="4.9" fill="url(#spec)" opacity="0.81"/><circle cx="517" cy="1477.8" r="20.6" fill="url(#rim)"/></g>
<circle cx="571.4" cy="1500" r="20" fill="#fff"/><g opacity="0.22"><circle cx="571.4" cy="1500" r="20" fill="url(#dRose)"/><circle cx="576.4" cy="1489.6" r="5.4" fill="url(#spec)" opacity="0.95"/><circle cx="569.8" cy="1499.6" r="4.8" fill="url(#spec)" opacity="0.81"/><circle cx="571.4" cy="1500" r="20" fill="url(#rim)"/></g>
</g>
<rect x="351.2" y="1233.2" width="284.59999999999997" height="257.79999999999995" fill="none" stroke="#1c1b14" stroke-width="1.9"/>
<g clip-path="url(#cp2)">
<circle cx="792.1" cy="1219.6" r="20" fill="#fff"/><g opacity="0.85"><circle cx="792.1" cy="1219.6" r="20" fill="url(#dRose)"/><circle cx="797.1" cy="1209.2" r="5.4" fill="url(#spec)" opacity="0.95"/><circle cx="790.5" cy="1219.2" r="4.8" fill="url(#spec)" opacity="0.81"/><circle cx="792.1" cy="1219.6" r="20" fill="url(#rim)"/></g>
<circle cx="771.2" cy="1254.9" r="20.3" fill="#fff"/><g opacity="0.14"><circle cx="771.2" cy="1254.9" r="20.3" fill="url(#dRose)"/><circle cx="776.3" cy="1244.3" r="5.5" fill="url(#spec)" opacity="0.95"/><circle cx="769.6" cy="1254.5" r="4.9" fill="url(#spec)" opacity="0.81"/><circle cx="771.2" cy="1254.9" r="20.3" fill="url(#rim)"/></g>
<circle cx="785.5" cy="1281.6" r="20.4" fill="url(#dRose)"/><circle cx="790.6" cy="1271.0" r="5.5" fill="url(#spec)" opacity="0.95"/><circle cx="783.9" cy="1281.2" r="4.9" fill="url(#spec)" opacity="0.81"/><circle cx="785.5" cy="1281.6" r="20.4" fill="url(#rim)"/>
<circle cx="823.4" cy="1288.1" r="17.4" fill="#fff"/><g opacity="0.48"><circle cx="823.4" cy="1288.1" r="17.4" fill="url(#dTeal)"/><circle cx="827.8" cy="1279.1" r="4.7" fill="url(#spec)" opacity="0.6"/><circle cx="822.0" cy="1287.8" r="4.2" fill="url(#spec)" opacity="0.51"/><circle cx="823.4" cy="1288.1" r="17.4" fill="url(#rim)"/></g>
<circle cx="924.5" cy="1230.9" r="17.2" fill="#fff"/><g opacity="0.7"><circle cx="924.5" cy="1230.9" r="17.2" fill="url(#dTeal)"/><circle cx="928.8" cy="1222.0" r="4.6" fill="url(#spec)" opacity="0.6"/><circle cx="923.1" cy="1230.6" r="4.1" fill="url(#spec)" opacity="0.51"/><circle cx="924.5" cy="1230.9" r="17.2" fill="url(#rim)"/></g>
<circle cx="966" cy="1217.5" r="21" fill="url(#dRose)"/><circle cx="971.2" cy="1206.6" r="5.7" fill="url(#spec)" opacity="0.95"/><circle cx="964.3" cy="1217.1" r="5.0" fill="url(#spec)" opacity="0.81"/><circle cx="966" cy="1217.5" r="21" fill="url(#rim)"/>
<circle cx="969.5" cy="1294.8" r="19.5" fill="#fff"/><g opacity="0.3"><circle cx="969.5" cy="1294.8" r="19.5" fill="url(#dRose)"/><circle cx="974.4" cy="1284.7" r="5.3" fill="url(#spec)" opacity="0.95"/><circle cx="967.9" cy="1294.4" r="4.7" fill="url(#spec)" opacity="0.81"/><circle cx="969.5" cy="1294.8" r="19.5" fill="url(#rim)"/></g>
<circle cx="908.7" cy="1316.5" r="20" fill="#fff"/><g opacity="0.5"><circle cx="908.7" cy="1316.5" r="20" fill="url(#dRose)"/><circle cx="913.7" cy="1306.1" r="5.4" fill="url(#spec)" opacity="0.95"/><circle cx="907.1" cy="1316.1" r="4.8" fill="url(#spec)" opacity="0.81"/><circle cx="908.7" cy="1316.5" r="20" fill="url(#rim)"/></g>
<circle cx="889.7" cy="1273.8" r="20.3" fill="#fff"/><g opacity="0.95"><circle cx="889.7" cy="1273.8" r="20.3" fill="url(#dRose)"/><circle cx="894.8" cy="1263.2" r="5.5" fill="url(#spec)" opacity="0.95"/><circle cx="888.1" cy="1273.4" r="4.9" fill="url(#spec)" opacity="0.81"/><circle cx="889.7" cy="1273.8" r="20.3" fill="url(#rim)"/></g>
<circle cx="905" cy="1281.9" r="20.1" fill="url(#dBlack)"/><circle cx="905" cy="1281.9" r="20.1" fill="url(#rim)"/>
<circle cx="711.1" cy="1292.1" r="20.1" fill="#fff"/><g opacity="0.5"><circle cx="711.1" cy="1292.1" r="20.1" fill="url(#dRose)"/><circle cx="716.1" cy="1281.6" r="5.4" fill="url(#spec)" opacity="0.95"/><circle cx="709.5" cy="1291.7" r="4.8" fill="url(#spec)" opacity="0.81"/><circle cx="711.1" cy="1292.1" r="20.1" fill="url(#rim)"/></g>
<circle cx="712.6" cy="1308.8" r="20.4" fill="url(#dRose)"/><circle cx="717.7" cy="1298.2" r="5.5" fill="url(#spec)" opacity="0.95"/><circle cx="711.0" cy="1308.4" r="4.9" fill="url(#spec)" opacity="0.81"/><circle cx="712.6" cy="1308.8" r="20.4" fill="url(#rim)"/>
<circle cx="858.8" cy="1326.3" r="20" fill="#fff"/><g opacity="0.1"><circle cx="858.8" cy="1326.3" r="20" fill="url(#dRose)"/><circle cx="863.8" cy="1315.9" r="5.4" fill="url(#spec)" opacity="0.95"/><circle cx="857.2" cy="1325.9" r="4.8" fill="url(#spec)" opacity="0.81"/><circle cx="858.8" cy="1326.3" r="20" fill="url(#rim)"/></g>
<circle cx="690" cy="1340" r="19" fill="#fff"/><g opacity="0.08"><circle cx="690" cy="1340" r="19" fill="url(#dRose)"/><circle cx="694.8" cy="1330.1" r="5.1" fill="url(#spec)" opacity="0.95"/><circle cx="688.5" cy="1339.6" r="4.6" fill="url(#spec)" opacity="0.81"/><circle cx="690" cy="1340" r="19" fill="url(#rim)"/></g>
<circle cx="762" cy="1360" r="20" fill="#fff"/><g opacity="0.3"><circle cx="762" cy="1360" r="20" fill="url(#dRose)"/><circle cx="767.0" cy="1349.6" r="5.4" fill="url(#spec)" opacity="0.95"/><circle cx="760.4" cy="1359.6" r="4.8" fill="url(#spec)" opacity="0.81"/><circle cx="762" cy="1360" r="20" fill="url(#rim)"/></g>
<circle cx="811.4" cy="1343.9" r="20.4" fill="#fff"/><g opacity="0.75"><circle cx="811.4" cy="1343.9" r="20.4" fill="url(#dRose)"/><circle cx="816.5" cy="1333.3" r="5.5" fill="url(#spec)" opacity="0.95"/><circle cx="809.8" cy="1343.5" r="4.9" fill="url(#spec)" opacity="0.81"/><circle cx="811.4" cy="1343.9" r="20.4" fill="url(#rim)"/></g>
<line x1="772.3" y1="1426.9" x2="789.5" y2="1367.2" stroke="#35585a" stroke-width="10" stroke-linecap="round"/><line x1="772.3" y1="1426.9" x2="789.5" y2="1367.2" stroke="#6ea8ab" stroke-width="7.6" stroke-linecap="round"/><line x1="773.0" y1="1426.0" x2="790.2" y2="1366.3" stroke="#a8d6d8" stroke-width="2.8" stroke-linecap="round"/>
<circle cx="789.5" cy="1367.2" r="17" fill="url(#dTeal)"/><circle cx="793.8" cy="1358.4" r="4.6" fill="url(#spec)" opacity="0.6"/><circle cx="788.1" cy="1366.9" r="4.1" fill="url(#spec)" opacity="0.51"/><circle cx="789.5" cy="1367.2" r="17" fill="url(#rim)"/>
<circle cx="702.3" cy="1393.2" r="20.3" fill="#fff"/><g opacity="0.6"><circle cx="702.3" cy="1393.2" r="20.3" fill="url(#dRose)"/><circle cx="707.4" cy="1382.6" r="5.5" fill="url(#spec)" opacity="0.95"/><circle cx="700.7" cy="1392.8" r="4.9" fill="url(#spec)" opacity="0.81"/><circle cx="702.3" cy="1393.2" r="20.3" fill="url(#rim)"/></g>
<circle cx="951" cy="1392.4" r="20" fill="#fff"/><g opacity="0.1"><circle cx="951" cy="1392.4" r="20" fill="url(#dRose)"/><circle cx="956.0" cy="1382.0" r="5.4" fill="url(#spec)" opacity="0.95"/><circle cx="949.4" cy="1392.0" r="4.8" fill="url(#spec)" opacity="0.81"/><circle cx="951" cy="1392.4" r="20" fill="url(#rim)"/></g>
<circle cx="858.5" cy="1408.1" r="20.6" fill="#fff"/><g opacity="0.38"><circle cx="858.5" cy="1408.1" r="20.6" fill="url(#dRose)"/><circle cx="863.6" cy="1397.4" r="5.6" fill="url(#spec)" opacity="0.95"/><circle cx="856.9" cy="1407.7" r="4.9" fill="url(#spec)" opacity="0.81"/><circle cx="858.5" cy="1408.1" r="20.6" fill="url(#rim)"/></g>
<circle cx="890" cy="1385.2" r="20.2" fill="#fff"/><g opacity="0.75"><circle cx="890" cy="1385.2" r="20.2" fill="url(#dRose)"/><circle cx="895.0" cy="1374.7" r="5.5" fill="url(#spec)" opacity="0.95"/><circle cx="888.4" cy="1384.8" r="4.8" fill="url(#spec)" opacity="0.81"/><circle cx="890" cy="1385.2" r="20.2" fill="url(#rim)"/></g>
<circle cx="871.7" cy="1380.5" r="20.5" fill="url(#dRose)"/><circle cx="876.8" cy="1369.8" r="5.5" fill="url(#spec)" opacity="0.95"/><circle cx="870.1" cy="1380.1" r="4.9" fill="url(#spec)" opacity="0.81"/><circle cx="871.7" cy="1380.5" r="20.5" fill="url(#rim)"/>
<circle cx="709.5" cy="1439.2" r="20" fill="#fff"/><g opacity="0.12"><circle cx="709.5" cy="1439.2" r="20" fill="url(#dRose)"/><circle cx="714.5" cy="1428.8" r="5.4" fill="url(#spec)" opacity="0.95"/><circle cx="707.9" cy="1438.8" r="4.8" fill="url(#spec)" opacity="0.81"/><circle cx="709.5" cy="1439.2" r="20" fill="url(#rim)"/></g>
<circle cx="830" cy="1442" r="20" fill="#fff"/><g opacity="0.07"><circle cx="830" cy="1442" r="20" fill="url(#dRose)"/><circle cx="835.0" cy="1431.6" r="5.4" fill="url(#spec)" opacity="0.95"/><circle cx="828.4" cy="1441.6" r="4.8" fill="url(#spec)" opacity="0.81"/><circle cx="830" cy="1442" r="20" fill="url(#rim)"/></g>
<circle cx="803.9" cy="1433.2" r="17" fill="#fff"/><g opacity="0.5"><circle cx="803.9" cy="1433.2" r="17" fill="url(#dTeal)"/><circle cx="808.1" cy="1424.4" r="4.6" fill="url(#spec)" opacity="0.6"/><circle cx="802.5" cy="1432.9" r="4.1" fill="url(#spec)" opacity="0.51"/><circle cx="803.9" cy="1433.2" r="17" fill="url(#rim)"/></g>
<circle cx="772.3" cy="1426.9" r="17" fill="url(#dTeal)"/><circle cx="776.5" cy="1418.1" r="4.6" fill="url(#spec)" opacity="0.6"/><circle cx="770.9" cy="1426.6" r="4.1" fill="url(#spec)" opacity="0.51"/><circle cx="772.3" cy="1426.9" r="17" fill="url(#rim)"/>
<circle cx="801.9" cy="1466.8" r="20.5" fill="#fff"/><g opacity="0.85"><circle cx="801.9" cy="1466.8" r="20.5" fill="url(#dRose)"/><circle cx="807.0" cy="1456.1" r="5.5" fill="url(#spec)" opacity="0.95"/><circle cx="800.3" cy="1466.4" r="4.9" fill="url(#spec)" opacity="0.81"/><circle cx="801.9" cy="1466.8" r="20.5" fill="url(#rim)"/></g>
<circle cx="972" cy="1418" r="20" fill="#fff"/><g opacity="0.3"><circle cx="972" cy="1418" r="20" fill="url(#dRose)"/><circle cx="977.0" cy="1407.6" r="5.4" fill="url(#spec)" opacity="0.95"/><circle cx="970.4" cy="1417.6" r="4.8" fill="url(#spec)" opacity="0.81"/><circle cx="972" cy="1418" r="20" fill="url(#rim)"/></g>
<circle cx="964.4" cy="1450.1" r="19.8" fill="url(#dRing)"/><circle cx="969.4" cy="1439.8" r="5.3" fill="url(#spec)" opacity="0.8"/><circle cx="962.8" cy="1449.7" r="4.8" fill="url(#spec)" opacity="0.68"/><circle cx="966.0" cy="1450.3999999999999" r="9.9" fill="#241c1c"/><circle cx="964.4" cy="1450.1" r="19.8" fill="url(#rim)"/>
<circle cx="973" cy="1478" r="17" fill="#fff"/><g opacity="0.75"><circle cx="973" cy="1478" r="17" fill="url(#dTeal)"/><circle cx="977.2" cy="1469.2" r="4.6" fill="url(#spec)" opacity="0.6"/><circle cx="971.6" cy="1477.7" r="4.1" fill="url(#spec)" opacity="0.51"/><circle cx="973" cy="1478" r="17" fill="url(#rim)"/></g>
<circle cx="883" cy="1505" r="20" fill="#fff"/><g opacity="0.3"><circle cx="883" cy="1505" r="20" fill="url(#dRose)"/><circle cx="888.0" cy="1494.6" r="5.4" fill="url(#spec)" opacity="0.95"/><circle cx="881.4" cy="1504.6" r="4.8" fill="url(#spec)" opacity="0.81"/><circle cx="883" cy="1505" r="20" fill="url(#rim)"/></g>
<circle cx="953" cy="1497" r="20" fill="#fff"/><g opacity="0.2"><circle cx="953" cy="1497" r="20" fill="url(#dRose)"/><circle cx="958.0" cy="1486.6" r="5.4" fill="url(#spec)" opacity="0.95"/><circle cx="951.4" cy="1496.6" r="4.8" fill="url(#spec)" opacity="0.81"/><circle cx="953" cy="1497" r="20" fill="url(#rim)"/></g>
<circle cx="920.2" cy="1492" r="20.4" fill="url(#dRose)"/><circle cx="925.3" cy="1481.4" r="5.5" fill="url(#spec)" opacity="0.95"/><circle cx="918.6" cy="1491.6" r="4.9" fill="url(#spec)" opacity="0.81"/><circle cx="920.2" cy="1492" r="20.4" fill="url(#rim)"/>
</g>
<rect x="683.3" y="1227.1" width="281.80000000000007" height="264.0" fill="none" stroke="#1c1b14" stroke-width="1.9"/>
<g clip-path="url(#cp3)">
<circle cx="1100.7" cy="1237.5" r="20.5" fill="#fff"/><g opacity="0.2"><circle cx="1100.7" cy="1237.5" r="20.5" fill="url(#dRose)"/><circle cx="1105.8" cy="1226.8" r="5.5" fill="url(#spec)" opacity="0.95"/><circle cx="1099.1" cy="1237.1" r="4.9" fill="url(#spec)" opacity="0.81"/><circle cx="1100.7" cy="1237.5" r="20.5" fill="url(#rim)"/></g>
<circle cx="1177.6" cy="1239.4" r="17" fill="#fff"/><g opacity="0.45"><circle cx="1177.6" cy="1239.4" r="17" fill="url(#dTeal)"/><circle cx="1181.8" cy="1230.6" r="4.6" fill="url(#spec)" opacity="0.6"/><circle cx="1176.2" cy="1239.1" r="4.1" fill="url(#spec)" opacity="0.51"/><circle cx="1177.6" cy="1239.4" r="17" fill="url(#rim)"/></g>
<circle cx="1292" cy="1212.5" r="17" fill="#fff"/><g opacity="0.8"><circle cx="1292" cy="1212.5" r="17" fill="url(#dTeal)"/><circle cx="1296.2" cy="1203.7" r="4.6" fill="url(#spec)" opacity="0.6"/><circle cx="1290.6" cy="1212.2" r="4.1" fill="url(#spec)" opacity="0.51"/><circle cx="1292" cy="1212.5" r="17" fill="url(#rim)"/></g>
<circle cx="1036.4" cy="1269.6" r="20" fill="#fff"/><g opacity="0.4"><circle cx="1036.4" cy="1269.6" r="20" fill="url(#dRose)"/><circle cx="1041.4" cy="1259.2" r="5.4" fill="url(#spec)" opacity="0.95"/><circle cx="1034.8" cy="1269.2" r="4.8" fill="url(#spec)" opacity="0.81"/><circle cx="1036.4" cy="1269.6" r="20" fill="url(#rim)"/></g>
<circle cx="1047.8" cy="1258.3" r="20.3" fill="#fff"/><g opacity="0.9"><circle cx="1047.8" cy="1258.3" r="20.3" fill="url(#dRose)"/><circle cx="1052.9" cy="1247.7" r="5.5" fill="url(#spec)" opacity="0.95"/><circle cx="1046.2" cy="1257.9" r="4.9" fill="url(#spec)" opacity="0.81"/><circle cx="1047.8" cy="1258.3" r="20.3" fill="url(#rim)"/></g>
<circle cx="1151.8" cy="1306.5" r="20.2" fill="#fff"/><g opacity="0.68"><circle cx="1151.8" cy="1306.5" r="20.2" fill="url(#dRose)"/><circle cx="1156.8" cy="1296.0" r="5.5" fill="url(#spec)" opacity="0.95"/><circle cx="1150.2" cy="1306.1" r="4.8" fill="url(#spec)" opacity="0.81"/><circle cx="1151.8" cy="1306.5" r="20.2" fill="url(#rim)"/></g>
<circle cx="1133.7" cy="1291.6" r="20.4" fill="url(#dRose)"/><circle cx="1138.8" cy="1281.0" r="5.5" fill="url(#spec)" opacity="0.95"/><circle cx="1132.1" cy="1291.2" r="4.9" fill="url(#spec)" opacity="0.81"/><circle cx="1133.7" cy="1291.6" r="20.4" fill="url(#rim)"/>
<circle cx="1247.8" cy="1298.3" r="20.4" fill="#fff"/><g opacity="0.42"><circle cx="1247.8" cy="1298.3" r="20.4" fill="url(#dRose)"/><circle cx="1252.9" cy="1287.7" r="5.5" fill="url(#spec)" opacity="0.95"/><circle cx="1246.2" cy="1297.9" r="4.9" fill="url(#spec)" opacity="0.81"/><circle cx="1247.8" cy="1298.3" r="20.4" fill="url(#rim)"/></g>
<circle cx="1241.1" cy="1279.5" r="20.2" fill="#fff"/><g opacity="0.9"><circle cx="1241.1" cy="1279.5" r="20.2" fill="url(#dRose)"/><circle cx="1246.1" cy="1269.0" r="5.5" fill="url(#spec)" opacity="0.95"/><circle cx="1239.5" cy="1279.1" r="4.8" fill="url(#spec)" opacity="0.81"/><circle cx="1241.1" cy="1279.5" r="20.2" fill="url(#rim)"/></g>
<circle cx="1255.6" cy="1273.4" r="20.1" fill="url(#dBlack)"/><circle cx="1255.6" cy="1273.4" r="20.1" fill="url(#rim)"/>
<circle cx="1040.5" cy="1327.8" r="15.2" fill="#fff"/><g opacity="0.3"><circle cx="1040.5" cy="1327.8" r="15.2" fill="url(#dRose)"/><circle cx="1044.3" cy="1319.9" r="4.1" fill="url(#spec)" opacity="0.95"/><circle cx="1039.3" cy="1327.5" r="3.6" fill="url(#spec)" opacity="0.81"/><circle cx="1040.5" cy="1327.8" r="15.2" fill="url(#rim)"/></g>
<circle cx="1063.4" cy="1342.2" r="17.3" fill="url(#dTeal)"/><circle cx="1067.7" cy="1333.2" r="4.7" fill="url(#spec)" opacity="0.6"/><circle cx="1062.0" cy="1341.9" r="4.2" fill="url(#spec)" opacity="0.51"/><circle cx="1063.4" cy="1342.2" r="17.3" fill="url(#rim)"/>
<circle cx="1146.9" cy="1344.2" r="20.3" fill="#fff"/><g opacity="0.4"><circle cx="1146.9" cy="1344.2" r="20.3" fill="url(#dRose)"/><circle cx="1152.0" cy="1333.6" r="5.5" fill="url(#spec)" opacity="0.95"/><circle cx="1145.3" cy="1343.8" r="4.9" fill="url(#spec)" opacity="0.81"/><circle cx="1146.9" cy="1344.2" r="20.3" fill="url(#rim)"/></g>
<circle cx="1226.5" cy="1339" r="20.2" fill="#fff"/><g opacity="0.1"><circle cx="1226.5" cy="1339" r="20.2" fill="url(#dRose)"/><circle cx="1231.5" cy="1328.5" r="5.5" fill="url(#spec)" opacity="0.95"/><circle cx="1224.9" cy="1338.6" r="4.8" fill="url(#spec)" opacity="0.81"/><circle cx="1226.5" cy="1339" r="20.2" fill="url(#rim)"/></g>
<circle cx="1271.3" cy="1381.6" r="20" fill="#fff"/><g opacity="0.7"><circle cx="1271.3" cy="1381.6" r="20" fill="url(#dRose)"/><circle cx="1276.3" cy="1371.2" r="5.4" fill="url(#spec)" opacity="0.95"/><circle cx="1269.7" cy="1381.2" r="4.8" fill="url(#spec)" opacity="0.81"/><circle cx="1271.3" cy="1381.6" r="20" fill="url(#rim)"/></g>
<circle cx="1235.4" cy="1375.3" r="20.4" fill="url(#dRose)"/><circle cx="1240.5" cy="1364.7" r="5.5" fill="url(#spec)" opacity="0.95"/><circle cx="1233.8" cy="1374.9" r="4.9" fill="url(#spec)" opacity="0.81"/><circle cx="1235.4" cy="1375.3" r="20.4" fill="url(#rim)"/>
<circle cx="1032.6" cy="1393.8" r="20.4" fill="#fff"/><g opacity="0.5"><circle cx="1032.6" cy="1393.8" r="20.4" fill="url(#dRose)"/><circle cx="1037.7" cy="1383.2" r="5.5" fill="url(#spec)" opacity="0.95"/><circle cx="1031.0" cy="1393.4" r="4.9" fill="url(#spec)" opacity="0.81"/><circle cx="1032.6" cy="1393.8" r="20.4" fill="url(#rim)"/></g>
<circle cx="1085.1" cy="1403.9" r="20.6" fill="#fff"/><g opacity="0.14"><circle cx="1085.1" cy="1403.9" r="20.6" fill="url(#dRose)"/><circle cx="1090.2" cy="1393.2" r="5.6" fill="url(#spec)" opacity="0.95"/><circle cx="1083.5" cy="1403.5" r="4.9" fill="url(#spec)" opacity="0.81"/><circle cx="1085.1" cy="1403.9" r="20.6" fill="url(#rim)"/></g>
<g transform="matrix(0.9175 0 0 1.0000 1089.02 1426.75)"><text style="font-family:&quot;Liberation Serif&quot;,serif" font-size="37.5" fill="#111">C1</text></g>
<circle cx="1146.6" cy="1410.5" r="20.3" fill="#fff"/><g opacity="0.95"><circle cx="1146.6" cy="1410.5" r="20.3" fill="url(#dRose)"/><circle cx="1151.7" cy="1399.9" r="5.5" fill="url(#spec)" opacity="0.95"/><circle cx="1145.0" cy="1410.1" r="4.9" fill="url(#spec)" opacity="0.81"/><circle cx="1146.6" cy="1410.5" r="20.3" fill="url(#rim)"/></g>
<circle cx="1133.9" cy="1392.7" r="17.3" fill="url(#dTeal)"/><circle cx="1138.2" cy="1383.7" r="4.7" fill="url(#spec)" opacity="0.6"/><circle cx="1132.5" cy="1392.4" r="4.2" fill="url(#spec)" opacity="0.51"/><circle cx="1133.9" cy="1392.7" r="17.3" fill="url(#rim)"/>
<circle cx="1226.5" cy="1413.6" r="20.2" fill="#fff"/><g opacity="0.42"><circle cx="1226.5" cy="1413.6" r="20.2" fill="url(#dRose)"/><circle cx="1231.5" cy="1403.1" r="5.5" fill="url(#spec)" opacity="0.95"/><circle cx="1224.9" cy="1413.2" r="4.8" fill="url(#spec)" opacity="0.81"/><circle cx="1226.5" cy="1413.6" r="20.2" fill="url(#rim)"/></g>
<circle cx="1180" cy="1453.8" r="20" fill="#fff"/><g opacity="0.06"><circle cx="1180" cy="1453.8" r="20" fill="url(#dRose)"/><circle cx="1185.0" cy="1443.4" r="5.4" fill="url(#spec)" opacity="0.95"/><circle cx="1178.4" cy="1453.4" r="4.8" fill="url(#spec)" opacity="0.81"/><circle cx="1180" cy="1453.8" r="20" fill="url(#rim)"/></g>
<circle cx="1140.2" cy="1449.2" r="17.2" fill="#fff"/><g opacity="0.45"><circle cx="1140.2" cy="1449.2" r="17.2" fill="url(#dTeal)"/><circle cx="1144.5" cy="1440.3" r="4.6" fill="url(#spec)" opacity="0.6"/><circle cx="1138.8" cy="1448.9" r="4.1" fill="url(#spec)" opacity="0.51"/><circle cx="1140.2" cy="1449.2" r="17.2" fill="url(#rim)"/></g>
<circle cx="1086.3" cy="1497.4" r="20" fill="#fff"/><g opacity="0.45"><circle cx="1086.3" cy="1497.4" r="20" fill="url(#dRose)"/><circle cx="1091.3" cy="1487.0" r="5.4" fill="url(#spec)" opacity="0.95"/><circle cx="1084.7" cy="1497.0" r="4.8" fill="url(#spec)" opacity="0.81"/><circle cx="1086.3" cy="1497.4" r="20" fill="url(#rim)"/></g>
<circle cx="1118.7" cy="1481.6" r="20.3" fill="url(#dRose)"/><circle cx="1123.8" cy="1471.0" r="5.5" fill="url(#spec)" opacity="0.95"/><circle cx="1117.1" cy="1481.2" r="4.9" fill="url(#spec)" opacity="0.81"/><circle cx="1118.7" cy="1481.6" r="20.3" fill="url(#rim)"/>
<circle cx="1272.4" cy="1497.3" r="20" fill="#fff"/><g opacity="0.18"><circle cx="1272.4" cy="1497.3" r="20" fill="url(#dRose)"/><circle cx="1277.4" cy="1486.9" r="5.4" fill="url(#spec)" opacity="0.95"/><circle cx="1270.8" cy="1496.9" r="4.8" fill="url(#spec)" opacity="0.81"/><circle cx="1272.4" cy="1497.3" r="20" fill="url(#rim)"/></g>
<circle cx="1200" cy="1500" r="20" fill="#fff"/><g opacity="0.45"><circle cx="1200" cy="1500" r="20" fill="url(#dRose)"/><circle cx="1205.0" cy="1489.6" r="5.4" fill="url(#spec)" opacity="0.95"/><circle cx="1198.4" cy="1499.6" r="4.8" fill="url(#spec)" opacity="0.81"/><circle cx="1200" cy="1500" r="20" fill="url(#rim)"/></g>
<circle cx="1221.8" cy="1486.3" r="20.2" fill="url(#dRose)"/><circle cx="1226.8" cy="1475.8" r="5.5" fill="url(#spec)" opacity="0.95"/><circle cx="1220.2" cy="1485.9" r="4.8" fill="url(#spec)" opacity="0.81"/><circle cx="1221.8" cy="1486.3" r="20.2" fill="url(#rim)"/>
<circle cx="1207.5" cy="1463.4" r="15.6" fill="url(#dBlack)"/><circle cx="1207.5" cy="1463.4" r="15.6" fill="url(#rim)"/>
<circle cx="1315" cy="1461" r="17" fill="#fff"/><g opacity="0.5"><circle cx="1315" cy="1461" r="17" fill="url(#dTeal)"/><circle cx="1319.2" cy="1452.2" r="4.6" fill="url(#spec)" opacity="0.6"/><circle cx="1313.6" cy="1460.7" r="4.1" fill="url(#spec)" opacity="0.51"/><circle cx="1315" cy="1461" r="17" fill="url(#rim)"/></g>
</g>
<rect x="1026.0" y="1227.1" width="276.20000000000005" height="260.5" fill="none" stroke="#1c1b14" stroke-width="1.9"/>
<g transform="matrix(0.9706 0 0 1.0000 179.64 1211.40)"><text style="font-family:&quot;Liberation Serif&quot;,serif" font-size="37.5" fill="#111">0.00 ps</text></g><g transform="matrix(0.9668 0 0 1.0030 519.15 1213.78)"><text style="font-family:&quot;Liberation Serif&quot;,serif" font-size="37.5" fill="#111">0.13 ps</text></g><g transform="matrix(0.9716 0 0 0.9818 848.14 1215.35)"><text style="font-family:&quot;Liberation Serif&quot;,serif" font-size="37.5" fill="#111">0.30 ps</text></g><g transform="matrix(0.9697 0 0 0.9879 1183.85 1208.90)"><text style="font-family:&quot;Liberation Serif&quot;,serif" font-size="37.5" fill="#111">0.40 ps</text></g><g transform="matrix(0.9814 0 0 1.0000 201.13 1319.65)"><text style="font-family:&quot;Liberation Serif&quot;,serif" font-size="37.5" fill="#111">C2</text></g><g transform="matrix(0.9175 0 0 1.0000 135.52 1401.65)"><text style="font-family:&quot;Liberation Serif&quot;,serif" font-size="37.5" fill="#111">C1</text></g><g transform="matrix(0.9764 0 0 1.0040 505.04 1372.85)"><text style="font-family:&quot;Liberation Serif&quot;,serif" font-size="37.5" fill="#111">C2</text></g><g transform="matrix(0.9150 0 0 1.0000 439.63 1454.65)"><text style="font-family:&quot;Liberation Serif&quot;,serif" font-size="37.5" fill="#111">C1</text></g><g transform="matrix(0.9789 0 0 1.0000 801.33 1392.35)"><text style="font-family:&quot;Liberation Serif&quot;,serif" font-size="37.5" fill="#111">C2</text></g><g transform="matrix(0.9150 0 0 1.0000 718.53 1454.65)"><text style="font-family:&quot;Liberation Serif&quot;,serif" font-size="37.5" fill="#111">C1</text></g><g transform="matrix(0.9789 0 0 1.0000 1063.83 1334.75)"><text style="font-family:&quot;Liberation Serif&quot;,serif" font-size="37.5" fill="#111">C2</text></g>
</svg></body></html>
